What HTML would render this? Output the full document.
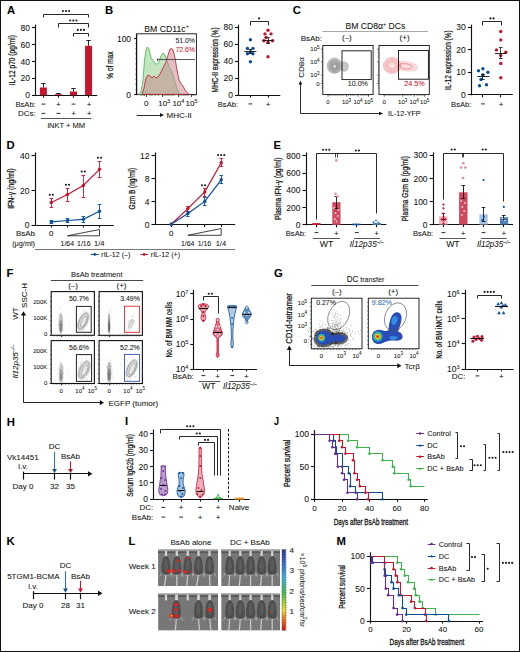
<!DOCTYPE html>
<html><head><meta charset="utf-8"><style>
html,body{margin:0;padding:0;background:#fff;}
svg{display:block;}
text{font-family:"Liberation Sans",sans-serif;paint-order:stroke;}
</style></head><body>
<svg width="520" height="652" viewBox="0 0 520 652">
<rect x="0" y="0" width="520" height="652" fill="#fff"/>
<rect x="0.5" y="0.5" width="519" height="651" fill="none" stroke="#111" stroke-width="1"/>
<text x="6.9" y="14.4" font-size="11.3" text-anchor="start" fill="#000" font-weight="bold">A</text>
<line x1="35.5" y1="24.6" x2="35.5" y2="95.5" stroke="#111" stroke-width="1.15"/>
<line x1="32.0" y1="27.5" x2="35.5" y2="27.5" stroke="#111" stroke-width="1.1"/>
<text x="29.9" y="30.54" font-size="8.5" text-anchor="end" fill="#111" stroke="#111" stroke-width="0.06">80</text>
<line x1="32.0" y1="44.5" x2="35.5" y2="44.5" stroke="#111" stroke-width="1.1"/>
<text x="29.9" y="47.54" font-size="8.5" text-anchor="end" fill="#111" stroke="#111" stroke-width="0.06">60</text>
<line x1="32.0" y1="61.5" x2="35.5" y2="61.5" stroke="#111" stroke-width="1.1"/>
<text x="29.9" y="64.54" font-size="8.5" text-anchor="end" fill="#111" stroke="#111" stroke-width="0.06">40</text>
<line x1="32.0" y1="78.5" x2="35.5" y2="78.5" stroke="#111" stroke-width="1.1"/>
<text x="29.9" y="81.44" font-size="8.5" text-anchor="end" fill="#111" stroke="#111" stroke-width="0.06">20</text>
<line x1="32.0" y1="95.5" x2="35.5" y2="95.5" stroke="#111" stroke-width="1.1"/>
<text x="29.9" y="98.24" font-size="8.5" text-anchor="end" fill="#111" stroke="#111" stroke-width="0.06">0</text>
<line x1="32.3" y1="95.5" x2="97.3" y2="95.5" stroke="#111" stroke-width="1.15"/>
<line x1="43.5" y1="95.2" x2="43.5" y2="97.7" stroke="#111" stroke-width="1.1"/>
<line x1="58.5" y1="95.2" x2="58.5" y2="97.7" stroke="#111" stroke-width="1.1"/>
<line x1="73.5" y1="95.2" x2="73.5" y2="97.7" stroke="#111" stroke-width="1.1"/>
<line x1="88.5" y1="95.2" x2="88.5" y2="97.7" stroke="#111" stroke-width="1.1"/>
<rect x="39.9" y="87.5" width="7" height="7.700000000000003" fill="#c4162f" stroke="none" stroke-width="1"/>
<line x1="43.5" y1="87.5" x2="43.5" y2="83.5" stroke="#111" stroke-width="0.9"/>
<line x1="41.199999999999996" y1="83.5" x2="45.6" y2="83.5" stroke="#111" stroke-width="0.9"/>
<rect x="54.95" y="94.2" width="7" height="1.0" fill="#c4162f" stroke="none" stroke-width="1"/>
<line x1="58.5" y1="94.2" x2="58.5" y2="93.3" stroke="#111" stroke-width="0.9"/>
<line x1="56.25" y1="93.5" x2="60.650000000000006" y2="93.5" stroke="#111" stroke-width="0.9"/>
<rect x="70.0" y="91.5" width="7" height="3.700000000000003" fill="#c4162f" stroke="none" stroke-width="1"/>
<line x1="73.5" y1="91.5" x2="73.5" y2="88.5" stroke="#111" stroke-width="0.9"/>
<line x1="71.3" y1="88.5" x2="75.7" y2="88.5" stroke="#111" stroke-width="0.9"/>
<rect x="85.05" y="45.8" width="7" height="49.400000000000006" fill="#c4162f" stroke="none" stroke-width="1"/>
<line x1="88.5" y1="45.8" x2="88.5" y2="40" stroke="#111" stroke-width="0.9"/>
<line x1="86.35" y1="40.5" x2="90.75" y2="40.5" stroke="#111" stroke-width="0.9"/>
<polyline points="43.5,17.5 43.5,14.5 88.5,14.5 88.5,17.5" stroke="#111" stroke-width="0.9" fill="none"/>
<circle cx="62.90" cy="11" r="1.05" fill="#1a1a1a"/>
<circle cx="66.00" cy="11" r="1.05" fill="#1a1a1a"/>
<circle cx="69.10" cy="11" r="1.05" fill="#1a1a1a"/>
<polyline points="58.5,27.5 58.5,23.5 88.5,23.5 88.5,27.5" stroke="#111" stroke-width="0.9" fill="none"/>
<circle cx="70.20" cy="20.5" r="1.05" fill="#1a1a1a"/>
<circle cx="73.30" cy="20.5" r="1.05" fill="#1a1a1a"/>
<circle cx="76.40" cy="20.5" r="1.05" fill="#1a1a1a"/>
<polyline points="73.5,36.5 73.5,33.5 88.5,33.5 88.5,36.5" stroke="#111" stroke-width="0.9" fill="none"/>
<circle cx="77.80" cy="29.9" r="1.05" fill="#1a1a1a"/>
<circle cx="80.90" cy="29.9" r="1.05" fill="#1a1a1a"/>
<circle cx="84.00" cy="29.9" r="1.05" fill="#1a1a1a"/>
<text x="35.7" y="107" font-size="8" text-anchor="end" fill="#111" textLength="20.2" lengthAdjust="spacingAndGlyphs" stroke="#111" stroke-width="0.06">BsAb:</text>
<text x="35.7" y="116.3" font-size="8" text-anchor="end" fill="#111" textLength="17.7" lengthAdjust="spacingAndGlyphs" stroke="#111" stroke-width="0.06">DCs:</text>
<line x1="41.5" y1="104.1" x2="45.3" y2="104.1" stroke="#111" stroke-width="0.9"/>
<text x="58.45" y="107" font-size="8" text-anchor="middle" fill="#111" stroke="#111" stroke-width="0.06">+</text>
<line x1="71.6" y1="104.1" x2="75.4" y2="104.1" stroke="#111" stroke-width="0.9"/>
<text x="89" y="107" font-size="8" text-anchor="middle" fill="#111" stroke="#111" stroke-width="0.06">+</text>
<line x1="41.5" y1="113.39999999999999" x2="45.3" y2="113.39999999999999" stroke="#111" stroke-width="0.9"/>
<line x1="56.550000000000004" y1="113.39999999999999" x2="60.35" y2="113.39999999999999" stroke="#111" stroke-width="0.9"/>
<text x="73.5" y="116.3" font-size="8" text-anchor="middle" fill="#111" stroke="#111" stroke-width="0.06">+</text>
<text x="89" y="116.3" font-size="8" text-anchor="middle" fill="#111" stroke="#111" stroke-width="0.06">+</text>
<line x1="40.8" y1="118.5" x2="91.3" y2="118.5" stroke="#444" stroke-width="0.9"/>
<text x="66.2" y="127.6" font-size="8" text-anchor="middle" fill="#111" textLength="37.6" lengthAdjust="spacingAndGlyphs" stroke="#111" stroke-width="0.06">iNKT + MM</text>
<text x="14.7" y="60.25" font-size="9" text-anchor="middle" fill="#111" textLength="50.3" lengthAdjust="spacingAndGlyphs" transform="rotate(-90 14.7 60.25)" stroke="#111" stroke-width="0.25">IL-12 p70 (pg/ml)</text>
<text x="104.95" y="14.4" font-size="11.3" text-anchor="start" fill="#000" font-weight="bold">B</text>
<text x="166.7" y="31.5" font-size="8.7" text-anchor="middle" fill="#111" stroke="#111" stroke-width="0.06">BM CD11c<tspan dy="-3.2" font-size="5.8">+</tspan></text>
<rect x="136.7" y="33.8" width="59.7" height="60.8" fill="none" stroke="#111" stroke-width="0.9"/>
<path d="M139,94.4 L141,92 L143,80 L144.5,60 L146,50 L147.3,47 L149,49 L150.5,56 L152.5,60 L155,63 L157,64.5 L159,62 L161,56 L163,53 L165,55 L167,61 L169,67 L171,70 L173,75 L175,82 L177,89 L179,93 L181,94.4 Z" fill="#8fd08a" stroke="#3db54a" stroke-width="0.8" fill-opacity="0.55"/>
<path d="M142,94.4 L144,88 L146,78 L148,75 L150,76 L152,78 L154,76 L156,78 L158,77 L160,74 L162,70 L164,66 L166,62 L168,55 L170,49 L171.6,48.5 L173,50 L175,58 L177,70 L179,80 L181,84 L183,86 L185,90 L187,92.5 L189,94.4 Z" fill="#c98a8f" stroke="#c4162f" stroke-width="0.8" fill-opacity="0.55"/>
<line x1="157.5" y1="59.5" x2="195" y2="59.5" stroke="#444" stroke-width="0.9"/>
<line x1="157.5" y1="58.2" x2="157.5" y2="61.2" stroke="#444" stroke-width="0.8"/>
<text x="195" y="42.5" font-size="7.8" text-anchor="end" fill="#222" textLength="19.6" lengthAdjust="spacingAndGlyphs" stroke="#222" stroke-width="0.06">51.0%</text>
<text x="195" y="51.5" font-size="7.8" text-anchor="end" fill="#c4162f" textLength="19.6" lengthAdjust="spacingAndGlyphs" stroke="#c4162f" stroke-width="0.06">72.6%</text>
<line x1="136.5" y1="33.8" x2="136.5" y2="95.1" stroke="#111" stroke-width="1.15"/>
<line x1="134.2" y1="38.5" x2="136.7" y2="38.5" stroke="#111" stroke-width="1.1"/>
<text x="131.1" y="41.54" font-size="8.5" text-anchor="end" fill="#111" stroke="#111" stroke-width="0.06">100</text>
<line x1="134.2" y1="94.5" x2="136.7" y2="94.5" stroke="#111" stroke-width="1.1"/>
<text x="131.1" y="97.64" font-size="8.5" text-anchor="end" fill="#111" stroke="#111" stroke-width="0.06">0</text>
<line x1="135.3" y1="43.6" x2="136.7" y2="43.6" stroke="#111" stroke-width="0.5"/>
<line x1="135.3" y1="48.7" x2="136.7" y2="48.7" stroke="#111" stroke-width="0.5"/>
<line x1="135.3" y1="53.8" x2="136.7" y2="53.8" stroke="#111" stroke-width="0.5"/>
<line x1="135.3" y1="58.9" x2="136.7" y2="58.9" stroke="#111" stroke-width="0.5"/>
<line x1="135.3" y1="64.0" x2="136.7" y2="64.0" stroke="#111" stroke-width="0.5"/>
<line x1="135.3" y1="69.1" x2="136.7" y2="69.1" stroke="#111" stroke-width="0.5"/>
<line x1="135.3" y1="74.19999999999999" x2="136.7" y2="74.19999999999999" stroke="#111" stroke-width="0.5"/>
<line x1="135.3" y1="79.3" x2="136.7" y2="79.3" stroke="#111" stroke-width="0.5"/>
<line x1="135.3" y1="84.4" x2="136.7" y2="84.4" stroke="#111" stroke-width="0.5"/>
<line x1="135.3" y1="89.5" x2="136.7" y2="89.5" stroke="#111" stroke-width="0.5"/>
<line x1="135.3" y1="94.6" x2="136.7" y2="94.6" stroke="#111" stroke-width="0.5"/>
<line x1="146.5" y1="94.6" x2="146.5" y2="97" stroke="#111" stroke-width="0.8"/>
<line x1="162.5" y1="94.6" x2="162.5" y2="97" stroke="#111" stroke-width="0.8"/>
<line x1="178.5" y1="94.6" x2="178.5" y2="97" stroke="#111" stroke-width="0.8"/>
<line x1="191.5" y1="94.6" x2="191.5" y2="97" stroke="#111" stroke-width="0.8"/>
<line x1="141" y1="94.6" x2="141" y2="96" stroke="#111" stroke-width="0.5"/>
<line x1="143" y1="94.6" x2="143" y2="96" stroke="#111" stroke-width="0.5"/>
<line x1="144.5" y1="94.6" x2="144.5" y2="96" stroke="#111" stroke-width="0.5"/>
<line x1="150" y1="94.6" x2="150" y2="96" stroke="#111" stroke-width="0.5"/>
<line x1="152" y1="94.6" x2="152" y2="96" stroke="#111" stroke-width="0.5"/>
<line x1="155" y1="94.6" x2="155" y2="96" stroke="#111" stroke-width="0.5"/>
<line x1="158" y1="94.6" x2="158" y2="96" stroke="#111" stroke-width="0.5"/>
<line x1="164" y1="94.6" x2="164" y2="96" stroke="#111" stroke-width="0.5"/>
<line x1="166" y1="94.6" x2="166" y2="96" stroke="#111" stroke-width="0.5"/>
<line x1="168" y1="94.6" x2="168" y2="96" stroke="#111" stroke-width="0.5"/>
<line x1="170" y1="94.6" x2="170" y2="96" stroke="#111" stroke-width="0.5"/>
<line x1="172" y1="94.6" x2="172" y2="96" stroke="#111" stroke-width="0.5"/>
<line x1="174" y1="94.6" x2="174" y2="96" stroke="#111" stroke-width="0.5"/>
<line x1="180" y1="94.6" x2="180" y2="96" stroke="#111" stroke-width="0.5"/>
<line x1="182" y1="94.6" x2="182" y2="96" stroke="#111" stroke-width="0.5"/>
<line x1="184" y1="94.6" x2="184" y2="96" stroke="#111" stroke-width="0.5"/>
<line x1="186" y1="94.6" x2="186" y2="96" stroke="#111" stroke-width="0.5"/>
<line x1="188" y1="94.6" x2="188" y2="96" stroke="#111" stroke-width="0.5"/>
<line x1="193" y1="94.6" x2="193" y2="96" stroke="#111" stroke-width="0.5"/>
<line x1="195" y1="94.6" x2="195" y2="96" stroke="#111" stroke-width="0.5"/>
<text x="146.3" y="106.2" font-size="8" text-anchor="middle" fill="#111" stroke="#111" stroke-width="0.06">0</text>
<text x="164.2" y="106.2" font-size="8" text-anchor="middle" fill="#111" stroke="#111" stroke-width="0.06">10<tspan dy="-3" font-size="5.5">3</tspan></text>
<text x="178.4" y="106.2" font-size="8" text-anchor="middle" fill="#111" stroke="#111" stroke-width="0.06">10<tspan dy="-3" font-size="5.5">4</tspan></text>
<text x="191.6" y="106.2" font-size="8" text-anchor="middle" fill="#111" stroke="#111" stroke-width="0.06">10<tspan dy="-3" font-size="5.5">5</tspan></text>
<line x1="136.7" y1="115.5" x2="161" y2="115.5" stroke="#111" stroke-width="0.9"/>
<polygon points="164,115 160,113 160,117" stroke="none" stroke-width="1" fill="#111"/>
<text x="166.5" y="118" font-size="8" text-anchor="start" fill="#111" stroke="#111" stroke-width="0.06">MHC-II</text>
<text x="112.7" y="65.1" font-size="9" text-anchor="middle" fill="#111" textLength="27.2" lengthAdjust="spacingAndGlyphs" transform="rotate(-90 112.7 65.1)" stroke="#111" stroke-width="0.25">% of max</text>
<line x1="238.5" y1="24.6" x2="238.5" y2="95.7" stroke="#111" stroke-width="1.15"/>
<line x1="235.0" y1="27.5" x2="238.5" y2="27.5" stroke="#111" stroke-width="1.1"/>
<text x="232.9" y="30.34" font-size="8.5" text-anchor="end" fill="#111" stroke="#111" stroke-width="0.06">80</text>
<line x1="235.0" y1="44.5" x2="238.5" y2="44.5" stroke="#111" stroke-width="1.1"/>
<text x="232.9" y="47.44" font-size="8.5" text-anchor="end" fill="#111" stroke="#111" stroke-width="0.06">60</text>
<line x1="235.0" y1="61.5" x2="238.5" y2="61.5" stroke="#111" stroke-width="1.1"/>
<text x="232.9" y="64.44" font-size="8.5" text-anchor="end" fill="#111" stroke="#111" stroke-width="0.06">40</text>
<line x1="235.0" y1="78.5" x2="238.5" y2="78.5" stroke="#111" stroke-width="1.1"/>
<text x="232.9" y="81.34" font-size="8.5" text-anchor="end" fill="#111" stroke="#111" stroke-width="0.06">20</text>
<line x1="235.0" y1="95.5" x2="238.5" y2="95.5" stroke="#111" stroke-width="1.1"/>
<text x="232.9" y="98.24" font-size="8.5" text-anchor="end" fill="#111" stroke="#111" stroke-width="0.06">0</text>
<line x1="238.5" y1="95.5" x2="280.3" y2="95.5" stroke="#111" stroke-width="1.15"/>
<line x1="250.5" y1="95.2" x2="250.5" y2="97.7" stroke="#111" stroke-width="1.1"/>
<line x1="268.5" y1="95.2" x2="268.5" y2="97.7" stroke="#111" stroke-width="1.1"/>
<polyline points="250.5,25.5 250.5,21.5 268.5,21.5 268.5,25.5" stroke="#111" stroke-width="0.9" fill="none"/>
<circle cx="259.10" cy="18.4" r="1.05" fill="#1a1a1a"/>
<circle cx="250.4" cy="39.8" r="1.7" fill="#0b4f9a"/>
<circle cx="247.4" cy="48.4" r="1.7" fill="#0b4f9a"/>
<circle cx="253" cy="48.4" r="1.7" fill="#0b4f9a"/>
<circle cx="247.4" cy="53.8" r="1.7" fill="#0b4f9a"/>
<circle cx="253" cy="53.8" r="1.7" fill="#0b4f9a"/>
<circle cx="250.4" cy="52" r="1.7" fill="#0b4f9a"/>
<circle cx="250.4" cy="61.8" r="1.7" fill="#0b4f9a"/>
<circle cx="268" cy="30.3" r="1.7" fill="#c4162f"/>
<circle cx="265" cy="33.9" r="1.7" fill="#c4162f"/>
<circle cx="271" cy="33.9" r="1.7" fill="#c4162f"/>
<circle cx="263.8" cy="40.8" r="1.7" fill="#c4162f"/>
<circle cx="272.6" cy="40.8" r="1.7" fill="#c4162f"/>
<circle cx="268" cy="42.5" r="1.7" fill="#c4162f"/>
<circle cx="266" cy="37.5" r="1.7" fill="#c4162f"/>
<circle cx="268" cy="56.8" r="1.7" fill="#c4162f"/>
<line x1="244.4" y1="51.5" x2="256.4" y2="51.5" stroke="#111" stroke-width="0.9"/>
<line x1="250.5" y1="49.2" x2="250.5" y2="53.8" stroke="#111" stroke-width="0.8"/>
<line x1="248.6" y1="49.5" x2="252.2" y2="49.5" stroke="#111" stroke-width="0.8"/>
<line x1="248.6" y1="53.5" x2="252.2" y2="53.5" stroke="#111" stroke-width="0.8"/>
<line x1="262.8" y1="40.5" x2="273.3" y2="40.5" stroke="#111" stroke-width="0.9"/>
<line x1="268.5" y1="37.9" x2="268.5" y2="43.7" stroke="#111" stroke-width="0.8"/>
<line x1="266.2" y1="37.5" x2="269.8" y2="37.5" stroke="#111" stroke-width="0.8"/>
<line x1="266.2" y1="43.5" x2="269.8" y2="43.5" stroke="#111" stroke-width="0.8"/>
<text x="238" y="106.8" font-size="8" text-anchor="end" fill="#111" textLength="20.2" lengthAdjust="spacingAndGlyphs" stroke="#111" stroke-width="0.06">BsAb:</text>
<line x1="248.4" y1="103.89999999999999" x2="252.20000000000002" y2="103.89999999999999" stroke="#111" stroke-width="0.9"/>
<text x="268.2" y="106.8" font-size="8" text-anchor="middle" fill="#111" stroke="#111" stroke-width="0.06">+</text>
<text x="217.9" y="59.9" font-size="9" text-anchor="middle" fill="#111" textLength="65" lengthAdjust="spacingAndGlyphs" transform="rotate(-90 217.9 59.9)" stroke="#111" stroke-width="0.25">MHC-II expression (%)</text>
<text x="292.7" y="14.4" font-size="11.3" text-anchor="start" fill="#000" font-weight="bold">C</text>
<text x="375.4" y="28.7" font-size="8.6" text-anchor="middle" fill="#111" stroke="#111" stroke-width="0.06">BM CD8α<tspan dy="-3" font-size="5.5">+</tspan><tspan dy="3"> DCs</tspan></text>
<line x1="322.3" y1="31.5" x2="428.2" y2="31.5" stroke="#aaa" stroke-width="1.2"/>
<text x="322" y="40.6" font-size="8" text-anchor="end" fill="#111" stroke="#111" stroke-width="0.06">BsAb:</text>
<text x="346.9" y="40.4" font-size="8" text-anchor="middle" fill="#111" stroke="#111" stroke-width="0.06">(–)</text>
<text x="404.6" y="40.4" font-size="8" text-anchor="middle" fill="#111" stroke="#111" stroke-width="0.06">(+)</text>
<rect x="322.8" y="45.5" width="50.30000000000001" height="49.099999999999994" fill="none" stroke="#111" stroke-width="0.9"/>
<rect x="379" y="45.5" width="50.30000000000001" height="49.099999999999994" fill="none" stroke="#111" stroke-width="0.9"/>
<defs><radialGradient id="gblob" cx="0.52" cy="0.58" r="0.5"><stop offset="0" stop-color="#fff"/><stop offset="0.07" stop-color="#e8e8e8"/><stop offset="0.22" stop-color="#9a9a9a"/><stop offset="0.55" stop-color="#ababab"/><stop offset="0.85" stop-color="#c6c6c6"/><stop offset="1" stop-color="#d0d0d0" stop-opacity="0"/></radialGradient><filter id="b04"><feGaussianBlur stdDeviation="0.4"/></filter></defs>
<g filter="url(#b04)">
<ellipse cx="344.2" cy="66.5" rx="4.6" ry="5.2" fill="#c8c8c8"/>
<ellipse cx="344.2" cy="66.5" rx="3.2" ry="3.6" fill="none" stroke="#aaa" stroke-width="0.5"/>
<ellipse cx="334.3" cy="64.8" rx="8.4" ry="9" fill="url(#gblob)"/>
<ellipse cx="334.6" cy="65.3" rx="7.2" ry="7.8" fill="none" stroke="#777" stroke-width="0.35" opacity="0.6"/>
<ellipse cx="334.6" cy="65.3" rx="5.6" ry="6.2" fill="none" stroke="#777" stroke-width="0.35" opacity="0.6"/>
<ellipse cx="334.6" cy="65.3" rx="4" ry="4.5" fill="none" stroke="#777" stroke-width="0.35" opacity="0.6"/>
</g>
<g>
<ellipse cx="392" cy="65.5" rx="8.5" ry="8" fill="none" stroke="#e0474f" stroke-width="0.5" opacity="0.8"/>
<ellipse cx="392" cy="65.5" rx="7" ry="6.5" fill="none" stroke="#e0474f" stroke-width="0.5" opacity="0.8"/>
<ellipse cx="392" cy="65.5" rx="5.5" ry="5" fill="none" stroke="#e0474f" stroke-width="0.5" opacity="0.8"/>
<ellipse cx="392" cy="65.5" rx="4" ry="3.5" fill="none" stroke="#e0474f" stroke-width="0.5" opacity="0.8"/>
<ellipse cx="392" cy="65.5" rx="8" ry="7.5" fill="#f4a0a0" opacity="0.35"/>
<path d="M398,62 C404,60 410,62 415,64 C419,66 418,71 413,71 C408,71 403,71 398,70 Z" fill="#f4a0a0" opacity="0.35" stroke="#e0474f" stroke-width="0.5"/>
<path d="M400,64 C405,63 409,64 412,66 C413,68 410,69 406,69 C403,69 401,68 400,67 Z" fill="none" stroke="#e0474f" stroke-width="0.5"/>
</g>
<rect x="342" y="50.8" width="29.2" height="28.8" fill="none" stroke="#111" stroke-width="0.9"/>
<rect x="398.5" y="50.5" width="29.9" height="28.7" fill="none" stroke="#111" stroke-width="0.9"/>
<text x="368" y="85.9" font-size="7.8" text-anchor="end" fill="#222" textLength="20.3" lengthAdjust="spacingAndGlyphs" stroke="#222" stroke-width="0.06">10.0%</text>
<text x="424.6" y="85.9" font-size="7.8" text-anchor="end" fill="#c4162f" textLength="20.4" lengthAdjust="spacingAndGlyphs" stroke="#c4162f" stroke-width="0.06">24.5%</text>
<text x="319.5" y="51.400000000000006" font-size="6" text-anchor="end" fill="#111" stroke="#111" stroke-width="0.06">10<tspan dy="-2.5" font-size="4.5">5</tspan></text>
<text x="319.5" y="64.0" font-size="6" text-anchor="end" fill="#111" stroke="#111" stroke-width="0.06">10<tspan dy="-2.5" font-size="4.5">4</tspan></text>
<text x="319.5" y="77.2" font-size="6" text-anchor="end" fill="#111" stroke="#111" stroke-width="0.06">10<tspan dy="-2.5" font-size="4.5">3</tspan></text>
<text x="319.5" y="85.7" font-size="6" text-anchor="end" fill="#111" stroke="#111" stroke-width="0.06">0</text>
<line x1="321.0" y1="49.2" x2="322.8" y2="49.2" stroke="#111" stroke-width="0.7"/>
<line x1="321.0" y1="61.8" x2="322.8" y2="61.8" stroke="#111" stroke-width="0.7"/>
<line x1="321.0" y1="75" x2="322.8" y2="75" stroke="#111" stroke-width="0.7"/>
<line x1="321.0" y1="83.5" x2="322.8" y2="83.5" stroke="#111" stroke-width="0.7"/>
<line x1="321.7" y1="52" x2="322.8" y2="52" stroke="#111" stroke-width="0.5"/>
<line x1="321.7" y1="54" x2="322.8" y2="54" stroke="#111" stroke-width="0.5"/>
<line x1="321.7" y1="56" x2="322.8" y2="56" stroke="#111" stroke-width="0.5"/>
<line x1="321.7" y1="58" x2="322.8" y2="58" stroke="#111" stroke-width="0.5"/>
<line x1="321.7" y1="64" x2="322.8" y2="64" stroke="#111" stroke-width="0.5"/>
<line x1="321.7" y1="66" x2="322.8" y2="66" stroke="#111" stroke-width="0.5"/>
<line x1="321.7" y1="68" x2="322.8" y2="68" stroke="#111" stroke-width="0.5"/>
<line x1="321.7" y1="70" x2="322.8" y2="70" stroke="#111" stroke-width="0.5"/>
<line x1="321.7" y1="72" x2="322.8" y2="72" stroke="#111" stroke-width="0.5"/>
<line x1="321.7" y1="77" x2="322.8" y2="77" stroke="#111" stroke-width="0.5"/>
<line x1="321.7" y1="79" x2="322.8" y2="79" stroke="#111" stroke-width="0.5"/>
<line x1="321.7" y1="80.5" x2="322.8" y2="80.5" stroke="#111" stroke-width="0.5"/>
<line x1="321.7" y1="81.5" x2="322.8" y2="81.5" stroke="#111" stroke-width="0.5"/>
<line x1="321.7" y1="86" x2="322.8" y2="86" stroke="#111" stroke-width="0.5"/>
<line x1="321.7" y1="88" x2="322.8" y2="88" stroke="#111" stroke-width="0.5"/>
<line x1="328.0" y1="94.6" x2="328.0" y2="96.6" stroke="#111" stroke-width="0.7"/>
<line x1="346.5" y1="94.6" x2="346.5" y2="96.6" stroke="#111" stroke-width="0.7"/>
<line x1="358.0" y1="94.6" x2="358.0" y2="96.6" stroke="#111" stroke-width="0.7"/>
<line x1="368.5" y1="94.6" x2="368.5" y2="96.6" stroke="#111" stroke-width="0.7"/>
<line x1="329.8" y1="94.6" x2="329.8" y2="95.8" stroke="#111" stroke-width="0.5"/>
<line x1="331.8" y1="94.6" x2="331.8" y2="95.8" stroke="#111" stroke-width="0.5"/>
<line x1="333.8" y1="94.6" x2="333.8" y2="95.8" stroke="#111" stroke-width="0.5"/>
<line x1="335.8" y1="94.6" x2="335.8" y2="95.8" stroke="#111" stroke-width="0.5"/>
<line x1="337.8" y1="94.6" x2="337.8" y2="95.8" stroke="#111" stroke-width="0.5"/>
<line x1="339.8" y1="94.6" x2="339.8" y2="95.8" stroke="#111" stroke-width="0.5"/>
<line x1="341.8" y1="94.6" x2="341.8" y2="95.8" stroke="#111" stroke-width="0.5"/>
<line x1="343.8" y1="94.6" x2="343.8" y2="95.8" stroke="#111" stroke-width="0.5"/>
<line x1="348.8" y1="94.6" x2="348.8" y2="95.8" stroke="#111" stroke-width="0.5"/>
<line x1="350.8" y1="94.6" x2="350.8" y2="95.8" stroke="#111" stroke-width="0.5"/>
<line x1="352.8" y1="94.6" x2="352.8" y2="95.8" stroke="#111" stroke-width="0.5"/>
<line x1="354.8" y1="94.6" x2="354.8" y2="95.8" stroke="#111" stroke-width="0.5"/>
<line x1="360.8" y1="94.6" x2="360.8" y2="95.8" stroke="#111" stroke-width="0.5"/>
<line x1="362.8" y1="94.6" x2="362.8" y2="95.8" stroke="#111" stroke-width="0.5"/>
<line x1="364.8" y1="94.6" x2="364.8" y2="95.8" stroke="#111" stroke-width="0.5"/>
<line x1="366.8" y1="94.6" x2="366.8" y2="95.8" stroke="#111" stroke-width="0.5"/>
<text x="328.0" y="104" font-size="6" text-anchor="middle" fill="#111" stroke="#111" stroke-width="0.06">0</text>
<text x="346.5" y="104" font-size="6" text-anchor="middle" fill="#111" stroke="#111" stroke-width="0.06">10<tspan dy="-2.5" font-size="4.5">3</tspan></text>
<text x="358.0" y="104" font-size="6" text-anchor="middle" fill="#111" stroke="#111" stroke-width="0.06">10<tspan dy="-2.5" font-size="4.5">4</tspan></text>
<text x="368.5" y="104" font-size="6" text-anchor="middle" fill="#111" stroke="#111" stroke-width="0.06">10<tspan dy="-2.5" font-size="4.5">5</tspan></text>
<line x1="377.2" y1="49.2" x2="379" y2="49.2" stroke="#111" stroke-width="0.7"/>
<line x1="377.2" y1="61.8" x2="379" y2="61.8" stroke="#111" stroke-width="0.7"/>
<line x1="377.2" y1="75" x2="379" y2="75" stroke="#111" stroke-width="0.7"/>
<line x1="377.2" y1="83.5" x2="379" y2="83.5" stroke="#111" stroke-width="0.7"/>
<line x1="377.9" y1="52" x2="379" y2="52" stroke="#111" stroke-width="0.5"/>
<line x1="377.9" y1="54" x2="379" y2="54" stroke="#111" stroke-width="0.5"/>
<line x1="377.9" y1="56" x2="379" y2="56" stroke="#111" stroke-width="0.5"/>
<line x1="377.9" y1="58" x2="379" y2="58" stroke="#111" stroke-width="0.5"/>
<line x1="377.9" y1="64" x2="379" y2="64" stroke="#111" stroke-width="0.5"/>
<line x1="377.9" y1="66" x2="379" y2="66" stroke="#111" stroke-width="0.5"/>
<line x1="377.9" y1="68" x2="379" y2="68" stroke="#111" stroke-width="0.5"/>
<line x1="377.9" y1="70" x2="379" y2="70" stroke="#111" stroke-width="0.5"/>
<line x1="377.9" y1="72" x2="379" y2="72" stroke="#111" stroke-width="0.5"/>
<line x1="377.9" y1="77" x2="379" y2="77" stroke="#111" stroke-width="0.5"/>
<line x1="377.9" y1="79" x2="379" y2="79" stroke="#111" stroke-width="0.5"/>
<line x1="377.9" y1="80.5" x2="379" y2="80.5" stroke="#111" stroke-width="0.5"/>
<line x1="377.9" y1="81.5" x2="379" y2="81.5" stroke="#111" stroke-width="0.5"/>
<line x1="377.9" y1="86" x2="379" y2="86" stroke="#111" stroke-width="0.5"/>
<line x1="377.9" y1="88" x2="379" y2="88" stroke="#111" stroke-width="0.5"/>
<line x1="384.2" y1="94.6" x2="384.2" y2="96.6" stroke="#111" stroke-width="0.7"/>
<line x1="402.7" y1="94.6" x2="402.7" y2="96.6" stroke="#111" stroke-width="0.7"/>
<line x1="414.2" y1="94.6" x2="414.2" y2="96.6" stroke="#111" stroke-width="0.7"/>
<line x1="424.7" y1="94.6" x2="424.7" y2="96.6" stroke="#111" stroke-width="0.7"/>
<line x1="386" y1="94.6" x2="386" y2="95.8" stroke="#111" stroke-width="0.5"/>
<line x1="388" y1="94.6" x2="388" y2="95.8" stroke="#111" stroke-width="0.5"/>
<line x1="390" y1="94.6" x2="390" y2="95.8" stroke="#111" stroke-width="0.5"/>
<line x1="392" y1="94.6" x2="392" y2="95.8" stroke="#111" stroke-width="0.5"/>
<line x1="394" y1="94.6" x2="394" y2="95.8" stroke="#111" stroke-width="0.5"/>
<line x1="396" y1="94.6" x2="396" y2="95.8" stroke="#111" stroke-width="0.5"/>
<line x1="398" y1="94.6" x2="398" y2="95.8" stroke="#111" stroke-width="0.5"/>
<line x1="400" y1="94.6" x2="400" y2="95.8" stroke="#111" stroke-width="0.5"/>
<line x1="405" y1="94.6" x2="405" y2="95.8" stroke="#111" stroke-width="0.5"/>
<line x1="407" y1="94.6" x2="407" y2="95.8" stroke="#111" stroke-width="0.5"/>
<line x1="409" y1="94.6" x2="409" y2="95.8" stroke="#111" stroke-width="0.5"/>
<line x1="411" y1="94.6" x2="411" y2="95.8" stroke="#111" stroke-width="0.5"/>
<line x1="417" y1="94.6" x2="417" y2="95.8" stroke="#111" stroke-width="0.5"/>
<line x1="419" y1="94.6" x2="419" y2="95.8" stroke="#111" stroke-width="0.5"/>
<line x1="421" y1="94.6" x2="421" y2="95.8" stroke="#111" stroke-width="0.5"/>
<line x1="423" y1="94.6" x2="423" y2="95.8" stroke="#111" stroke-width="0.5"/>
<text x="384.2" y="104" font-size="6" text-anchor="middle" fill="#111" stroke="#111" stroke-width="0.06">0</text>
<text x="402.7" y="104" font-size="6" text-anchor="middle" fill="#111" stroke="#111" stroke-width="0.06">10<tspan dy="-2.5" font-size="4.5">3</tspan></text>
<text x="414.2" y="104" font-size="6" text-anchor="middle" fill="#111" stroke="#111" stroke-width="0.06">10<tspan dy="-2.5" font-size="4.5">4</tspan></text>
<text x="424.7" y="104" font-size="6" text-anchor="middle" fill="#111" stroke="#111" stroke-width="0.06">10<tspan dy="-2.5" font-size="4.5">5</tspan></text>
<line x1="300.5" y1="83" x2="300.5" y2="113.5" stroke="#111" stroke-width="0.9"/>
<line x1="300.4" y1="113.5" x2="380" y2="113.5" stroke="#111" stroke-width="0.9"/>
<polygon points="300.4,80.5 298.6,84.5 302.2,84.5" stroke="none" stroke-width="1" fill="#111"/>
<polygon points="383,113.5 379,111.7 379,115.3" stroke="none" stroke-width="1" fill="#111"/>
<text x="388" y="116" font-size="8" text-anchor="start" fill="#111" textLength="32.6" lengthAdjust="spacingAndGlyphs" stroke="#111" stroke-width="0.06">IL-12-YFP</text>
<text x="303.5" y="67.5" font-size="8" text-anchor="middle" fill="#111" transform="rotate(-90 303.5 67.5)" stroke="#111" stroke-width="0.06">CD8α</text>
<line x1="471.5" y1="24.6" x2="471.5" y2="95.3" stroke="#111" stroke-width="1.15"/>
<line x1="467.8" y1="27.5" x2="471.3" y2="27.5" stroke="#111" stroke-width="1.1"/>
<text x="465.7" y="30.34" font-size="8.5" text-anchor="end" fill="#111" stroke="#111" stroke-width="0.06">30</text>
<line x1="467.8" y1="49.5" x2="471.3" y2="49.5" stroke="#111" stroke-width="1.1"/>
<text x="465.7" y="52.94" font-size="8.5" text-anchor="end" fill="#111" stroke="#111" stroke-width="0.06">20</text>
<line x1="467.8" y1="72.5" x2="471.3" y2="72.5" stroke="#111" stroke-width="1.1"/>
<text x="465.7" y="75.44" font-size="8.5" text-anchor="end" fill="#111" stroke="#111" stroke-width="0.06">10</text>
<line x1="467.8" y1="94.5" x2="471.3" y2="94.5" stroke="#111" stroke-width="1.1"/>
<text x="465.7" y="97.84" font-size="8.5" text-anchor="end" fill="#111" stroke="#111" stroke-width="0.06">0</text>
<line x1="471.3" y1="94.5" x2="512.8" y2="94.5" stroke="#111" stroke-width="1.15"/>
<line x1="482.5" y1="94.8" x2="482.5" y2="97.3" stroke="#111" stroke-width="1.1"/>
<line x1="500.5" y1="94.8" x2="500.5" y2="97.3" stroke="#111" stroke-width="1.1"/>
<polyline points="482.5,25.5 482.5,21.5 501.5,21.5 501.5,25.5" stroke="#111" stroke-width="0.9" fill="none"/>
<circle cx="490.45" cy="18.4" r="1.05" fill="#1a1a1a"/>
<circle cx="493.55" cy="18.4" r="1.05" fill="#1a1a1a"/>
<circle cx="478.5" cy="70.8" r="1.7" fill="#0b4f9a"/>
<circle cx="482.9" cy="68.8" r="1.7" fill="#0b4f9a"/>
<circle cx="487.9" cy="72.2" r="1.7" fill="#0b4f9a"/>
<circle cx="482.9" cy="75" r="1.7" fill="#0b4f9a"/>
<circle cx="481" cy="79.5" r="1.7" fill="#0b4f9a"/>
<circle cx="479.5" cy="85.8" r="1.7" fill="#0b4f9a"/>
<circle cx="486.5" cy="84.8" r="1.7" fill="#0b4f9a"/>
<circle cx="500.8" cy="31.5" r="1.7" fill="#c4162f"/>
<circle cx="500.8" cy="39.9" r="1.7" fill="#c4162f"/>
<circle cx="496.5" cy="49.9" r="1.7" fill="#c4162f"/>
<circle cx="505.8" cy="52.3" r="1.7" fill="#c4162f"/>
<circle cx="500.8" cy="55.5" r="1.7" fill="#c4162f"/>
<circle cx="500.8" cy="63.5" r="1.7" fill="#c4162f"/>
<circle cx="500.8" cy="77.8" r="1.7" fill="#c4162f"/>
<line x1="477.3" y1="76.5" x2="489.3" y2="76.5" stroke="#111" stroke-width="0.9"/>
<line x1="482.5" y1="74.2" x2="482.5" y2="79.8" stroke="#111" stroke-width="0.8"/>
<line x1="481.1" y1="74.5" x2="484.7" y2="74.5" stroke="#111" stroke-width="0.8"/>
<line x1="481.1" y1="79.5" x2="484.7" y2="79.5" stroke="#111" stroke-width="0.8"/>
<line x1="494.9" y1="53.5" x2="506.4" y2="53.5" stroke="#111" stroke-width="0.9"/>
<line x1="500.5" y1="47.9" x2="500.5" y2="58.3" stroke="#111" stroke-width="0.8"/>
<line x1="499" y1="47.5" x2="502.6" y2="47.5" stroke="#111" stroke-width="0.8"/>
<line x1="499" y1="58.5" x2="502.6" y2="58.5" stroke="#111" stroke-width="0.8"/>
<text x="471.3" y="106.8" font-size="8" text-anchor="end" fill="#111" textLength="20.2" lengthAdjust="spacingAndGlyphs" stroke="#111" stroke-width="0.06">BsAb:</text>
<line x1="481.0" y1="103.89999999999999" x2="484.79999999999995" y2="103.89999999999999" stroke="#111" stroke-width="0.9"/>
<text x="501" y="106.8" font-size="8" text-anchor="middle" fill="#111" stroke="#111" stroke-width="0.06">+</text>
<text x="450.8" y="60.15" font-size="9" text-anchor="middle" fill="#111" textLength="59.5" lengthAdjust="spacingAndGlyphs" transform="rotate(-90 450.8 60.15)" stroke="#111" stroke-width="0.25">IL-12 expression (%)</text>
<text x="6.5" y="148.5" font-size="11.3" text-anchor="start" fill="#000" font-weight="bold">D</text>
<line x1="35.5" y1="152.5" x2="35.5" y2="225.5" stroke="#111" stroke-width="1.15"/>
<line x1="31.5" y1="155.5" x2="35" y2="155.5" stroke="#111" stroke-width="1.1"/>
<text x="29.4" y="158.84" font-size="8.5" text-anchor="end" fill="#111" stroke="#111" stroke-width="0.06">40</text>
<line x1="31.5" y1="190.5" x2="35" y2="190.5" stroke="#111" stroke-width="1.1"/>
<text x="29.4" y="193.54" font-size="8.5" text-anchor="end" fill="#111" stroke="#111" stroke-width="0.06">20</text>
<line x1="31.5" y1="225.5" x2="35" y2="225.5" stroke="#111" stroke-width="1.1"/>
<text x="29.4" y="228.04" font-size="8.5" text-anchor="end" fill="#111" stroke="#111" stroke-width="0.06">0</text>
<line x1="35" y1="225.5" x2="113.8" y2="225.5" stroke="#111" stroke-width="1.15"/>
<line x1="51.5" y1="225" x2="51.5" y2="227.5" stroke="#111" stroke-width="1.1"/>
<line x1="67.5" y1="225" x2="67.5" y2="227.5" stroke="#111" stroke-width="1.1"/>
<line x1="83.5" y1="225" x2="83.5" y2="227.5" stroke="#111" stroke-width="1.1"/>
<line x1="99.5" y1="225" x2="99.5" y2="227.5" stroke="#111" stroke-width="1.1"/>
<line x1="51.5" y1="220.5" x2="51.5" y2="223" stroke="#0b4f9a" stroke-width="0.9"/>
<line x1="49.5" y1="220.5" x2="53.099999999999994" y2="220.5" stroke="#0b4f9a" stroke-width="0.9"/>
<line x1="49.5" y1="223.5" x2="53.099999999999994" y2="223.5" stroke="#0b4f9a" stroke-width="0.9"/>
<line x1="67.5" y1="218.5" x2="67.5" y2="222.5" stroke="#0b4f9a" stroke-width="0.9"/>
<line x1="65.7" y1="218.5" x2="69.3" y2="218.5" stroke="#0b4f9a" stroke-width="0.9"/>
<line x1="65.7" y1="222.5" x2="69.3" y2="222.5" stroke="#0b4f9a" stroke-width="0.9"/>
<line x1="83.5" y1="216" x2="83.5" y2="222.5" stroke="#0b4f9a" stroke-width="0.9"/>
<line x1="81.5" y1="216.5" x2="85.1" y2="216.5" stroke="#0b4f9a" stroke-width="0.9"/>
<line x1="81.5" y1="222.5" x2="85.1" y2="222.5" stroke="#0b4f9a" stroke-width="0.9"/>
<line x1="99.5" y1="204.5" x2="99.5" y2="218.3" stroke="#0b4f9a" stroke-width="0.9"/>
<line x1="97.7" y1="204.5" x2="101.3" y2="204.5" stroke="#0b4f9a" stroke-width="0.9"/>
<line x1="97.7" y1="218.5" x2="101.3" y2="218.5" stroke="#0b4f9a" stroke-width="0.9"/>
<line x1="51.5" y1="198" x2="51.5" y2="207" stroke="#c4162f" stroke-width="0.9"/>
<line x1="49.5" y1="198.5" x2="53.099999999999994" y2="198.5" stroke="#c4162f" stroke-width="0.9"/>
<line x1="49.5" y1="207.5" x2="53.099999999999994" y2="207.5" stroke="#c4162f" stroke-width="0.9"/>
<line x1="67.5" y1="188" x2="67.5" y2="201" stroke="#c4162f" stroke-width="0.9"/>
<line x1="65.7" y1="188.5" x2="69.3" y2="188.5" stroke="#c4162f" stroke-width="0.9"/>
<line x1="65.7" y1="201.5" x2="69.3" y2="201.5" stroke="#c4162f" stroke-width="0.9"/>
<line x1="83.5" y1="175" x2="83.5" y2="197" stroke="#c4162f" stroke-width="0.9"/>
<line x1="81.5" y1="175.5" x2="85.1" y2="175.5" stroke="#c4162f" stroke-width="0.9"/>
<line x1="81.5" y1="197.5" x2="85.1" y2="197.5" stroke="#c4162f" stroke-width="0.9"/>
<line x1="99.5" y1="161" x2="99.5" y2="177.5" stroke="#c4162f" stroke-width="0.9"/>
<line x1="97.7" y1="161.5" x2="101.3" y2="161.5" stroke="#c4162f" stroke-width="0.9"/>
<line x1="97.7" y1="177.5" x2="101.3" y2="177.5" stroke="#c4162f" stroke-width="0.9"/>
<polyline points="51.3,221.8 67.5,220.5 83.3,219.3 99.5,211.3" stroke="#0b4f9a" stroke-width="1.2" fill="none"/>
<polyline points="51.3,202.5 67.5,194.5 83.3,185.5 99.5,169.3" stroke="#c4162f" stroke-width="1.2" fill="none"/>
<circle cx="51.3" cy="221.8" r="1.7" fill="#0b4f9a"/>
<circle cx="67.5" cy="220.5" r="1.7" fill="#0b4f9a"/>
<circle cx="83.3" cy="219.3" r="1.7" fill="#0b4f9a"/>
<circle cx="99.5" cy="211.3" r="1.7" fill="#0b4f9a"/>
<circle cx="51.3" cy="202.5" r="1.7" fill="#c4162f"/>
<circle cx="67.5" cy="194.5" r="1.7" fill="#c4162f"/>
<circle cx="83.3" cy="185.5" r="1.7" fill="#c4162f"/>
<circle cx="99.5" cy="169.3" r="1.7" fill="#c4162f"/>
<circle cx="49.75" cy="194.8" r="1.05" fill="#1a1a1a"/>
<circle cx="52.85" cy="194.8" r="1.05" fill="#1a1a1a"/>
<circle cx="65.95" cy="184.7" r="1.05" fill="#1a1a1a"/>
<circle cx="69.05" cy="184.7" r="1.05" fill="#1a1a1a"/>
<circle cx="81.75" cy="171.5" r="1.05" fill="#1a1a1a"/>
<circle cx="84.85" cy="171.5" r="1.05" fill="#1a1a1a"/>
<circle cx="97.95" cy="157.7" r="1.05" fill="#1a1a1a"/>
<circle cx="101.05" cy="157.7" r="1.05" fill="#1a1a1a"/>
<text x="35" y="236" font-size="8" text-anchor="end" fill="#111" stroke="#111" stroke-width="0.06">BsAb</text>
<text x="51.3" y="236" font-size="8" text-anchor="middle" fill="#111" stroke="#111" stroke-width="0.06">0</text>
<polygon points="67.5,235.8 99.5,229.5 99.5,235.8" stroke="#111" stroke-width="0.8" fill="none"/>
<text x="35" y="245.6" font-size="8" text-anchor="end" fill="#111" textLength="22.8" lengthAdjust="spacingAndGlyphs" stroke="#111" stroke-width="0.06">(μg/ml)</text>
<text x="67.3" y="246.3" font-size="8" text-anchor="middle" fill="#111" textLength="13.5" lengthAdjust="spacingAndGlyphs" stroke="#111" stroke-width="0.06">1/64</text>
<text x="83.8" y="246.3" font-size="8" text-anchor="middle" fill="#111" textLength="13.5" lengthAdjust="spacingAndGlyphs" stroke="#111" stroke-width="0.06">1/16</text>
<text x="99.3" y="246.3" font-size="8" text-anchor="middle" fill="#111" textLength="10.5" lengthAdjust="spacingAndGlyphs" stroke="#111" stroke-width="0.06">1/4</text>
<text x="14.5" y="188.6" font-size="9" text-anchor="middle" fill="#111" textLength="40.5" lengthAdjust="spacingAndGlyphs" transform="rotate(-90 14.5 188.6)" stroke="#111" stroke-width="0.25">IFN-γ (ng/ml)</text>
<line x1="155.5" y1="152.5" x2="155.5" y2="225.0" stroke="#111" stroke-width="1.15"/>
<line x1="151.5" y1="155.5" x2="155" y2="155.5" stroke="#111" stroke-width="1.1"/>
<text x="149.4" y="158.64" font-size="8.5" text-anchor="end" fill="#111" stroke="#111" stroke-width="0.06">12</text>
<line x1="151.5" y1="178.5" x2="155" y2="178.5" stroke="#111" stroke-width="1.1"/>
<text x="149.4" y="181.74" font-size="8.5" text-anchor="end" fill="#111" stroke="#111" stroke-width="0.06">8</text>
<line x1="151.5" y1="201.5" x2="155" y2="201.5" stroke="#111" stroke-width="1.1"/>
<text x="149.4" y="204.64" font-size="8.5" text-anchor="end" fill="#111" stroke="#111" stroke-width="0.06">4</text>
<line x1="151.5" y1="224.5" x2="155" y2="224.5" stroke="#111" stroke-width="1.1"/>
<text x="149.4" y="227.54" font-size="8.5" text-anchor="end" fill="#111" stroke="#111" stroke-width="0.06">0</text>
<line x1="155" y1="224.5" x2="235.2" y2="224.5" stroke="#111" stroke-width="1.15"/>
<line x1="171.5" y1="224.5" x2="171.5" y2="227.0" stroke="#111" stroke-width="1.1"/>
<line x1="187.5" y1="224.5" x2="187.5" y2="227.0" stroke="#111" stroke-width="1.1"/>
<line x1="204.5" y1="224.5" x2="204.5" y2="227.0" stroke="#111" stroke-width="1.1"/>
<line x1="221.5" y1="224.5" x2="221.5" y2="227.0" stroke="#111" stroke-width="1.1"/>
<line x1="187.5" y1="206" x2="187.5" y2="211" stroke="#c4162f" stroke-width="0.9"/>
<line x1="186.1" y1="206.5" x2="189.70000000000002" y2="206.5" stroke="#c4162f" stroke-width="0.9"/>
<line x1="186.1" y1="211.5" x2="189.70000000000002" y2="211.5" stroke="#c4162f" stroke-width="0.9"/>
<line x1="204.5" y1="188.7" x2="204.5" y2="196" stroke="#c4162f" stroke-width="0.9"/>
<line x1="203.0" y1="188.5" x2="206.60000000000002" y2="188.5" stroke="#c4162f" stroke-width="0.9"/>
<line x1="203.0" y1="196.5" x2="206.60000000000002" y2="196.5" stroke="#c4162f" stroke-width="0.9"/>
<line x1="221.5" y1="158.3" x2="221.5" y2="166.3" stroke="#c4162f" stroke-width="0.9"/>
<line x1="219.39999999999998" y1="158.5" x2="223.0" y2="158.5" stroke="#c4162f" stroke-width="0.9"/>
<line x1="219.39999999999998" y1="166.5" x2="223.0" y2="166.5" stroke="#c4162f" stroke-width="0.9"/>
<line x1="187.5" y1="211" x2="187.5" y2="216" stroke="#0b4f9a" stroke-width="0.9"/>
<line x1="186.1" y1="211.5" x2="189.70000000000002" y2="211.5" stroke="#0b4f9a" stroke-width="0.9"/>
<line x1="186.1" y1="216.5" x2="189.70000000000002" y2="216.5" stroke="#0b4f9a" stroke-width="0.9"/>
<line x1="204.5" y1="197.9" x2="204.5" y2="205.4" stroke="#0b4f9a" stroke-width="0.9"/>
<line x1="203.0" y1="197.5" x2="206.60000000000002" y2="197.5" stroke="#0b4f9a" stroke-width="0.9"/>
<line x1="203.0" y1="205.5" x2="206.60000000000002" y2="205.5" stroke="#0b4f9a" stroke-width="0.9"/>
<line x1="221.5" y1="175.8" x2="221.5" y2="183.8" stroke="#0b4f9a" stroke-width="0.9"/>
<line x1="219.39999999999998" y1="175.5" x2="223.0" y2="175.5" stroke="#0b4f9a" stroke-width="0.9"/>
<line x1="219.39999999999998" y1="183.5" x2="223.0" y2="183.5" stroke="#0b4f9a" stroke-width="0.9"/>
<polyline points="171.2,224.2 187.9,208.6 204.8,191.9 221.2,162.8" stroke="#c4162f" stroke-width="1.2" fill="none"/>
<polyline points="171.2,224.2 187.9,213.5 204.8,201.4 221.2,179.8" stroke="#0b4f9a" stroke-width="1.2" fill="none"/>
<circle cx="171.2" cy="224.2" r="1.7" fill="#c4162f"/>
<circle cx="187.9" cy="208.6" r="1.7" fill="#c4162f"/>
<circle cx="204.8" cy="191.9" r="1.7" fill="#c4162f"/>
<circle cx="221.2" cy="162.8" r="1.7" fill="#c4162f"/>
<circle cx="171.2" cy="224.2" r="1.7" fill="#0b4f9a"/>
<circle cx="187.9" cy="213.5" r="1.7" fill="#0b4f9a"/>
<circle cx="204.8" cy="201.4" r="1.7" fill="#0b4f9a"/>
<circle cx="221.2" cy="179.8" r="1.7" fill="#0b4f9a"/>
<circle cx="201.95" cy="185.2" r="1.05" fill="#1a1a1a"/>
<circle cx="205.05" cy="185.2" r="1.05" fill="#1a1a1a"/>
<circle cx="218.10" cy="155" r="1.05" fill="#1a1a1a"/>
<circle cx="221.20" cy="155" r="1.05" fill="#1a1a1a"/>
<circle cx="224.30" cy="155" r="1.05" fill="#1a1a1a"/>
<text x="171.2" y="236" font-size="8" text-anchor="middle" fill="#111" stroke="#111" stroke-width="0.06">0</text>
<polygon points="187.9,235.3 221.2,228.5 221.2,235.3" stroke="#111" stroke-width="0.8" fill="none"/>
<text x="187.7" y="246" font-size="8" text-anchor="middle" fill="#111" textLength="13.5" lengthAdjust="spacingAndGlyphs" stroke="#111" stroke-width="0.06">1/64</text>
<text x="204.4" y="246" font-size="8" text-anchor="middle" fill="#111" textLength="13.5" lengthAdjust="spacingAndGlyphs" stroke="#111" stroke-width="0.06">1/16</text>
<text x="220.9" y="246" font-size="8" text-anchor="middle" fill="#111" textLength="10.5" lengthAdjust="spacingAndGlyphs" stroke="#111" stroke-width="0.06">1/4</text>
<text x="135.5" y="188.7" font-size="9" text-anchor="middle" fill="#111" textLength="41.7" lengthAdjust="spacingAndGlyphs" transform="rotate(-90 135.5 188.7)" stroke="#111" stroke-width="0.25">Gzm B (ng/ml)</text>
<line x1="35" y1="249.5" x2="235.2" y2="249.5" stroke="#777" stroke-width="1"/>
<line x1="90.9" y1="254.5" x2="98.8" y2="254.5" stroke="#0b4f9a" stroke-width="1"/>
<circle cx="94.8" cy="254.4" r="1.4" fill="#0b4f9a"/>
<text x="101.3" y="257" font-size="7.5" text-anchor="start" fill="#111" textLength="29" lengthAdjust="spacingAndGlyphs" stroke="#111" stroke-width="0.06">rIL-12 (–)</text>
<line x1="140.4" y1="254.5" x2="148" y2="254.5" stroke="#c4162f" stroke-width="1"/>
<circle cx="144.2" cy="254.4" r="1.4" fill="#c4162f"/>
<text x="150.8" y="257" font-size="7.5" text-anchor="start" fill="#111" textLength="29.2" lengthAdjust="spacingAndGlyphs" stroke="#111" stroke-width="0.06">rIL-12 (+)</text>
<text x="273.5" y="148.5" font-size="11.3" text-anchor="start" fill="#000" font-weight="bold">E</text>
<line x1="306.5" y1="152.5" x2="306.5" y2="225.3" stroke="#111" stroke-width="1.15"/>
<line x1="302.5" y1="155.5" x2="306" y2="155.5" stroke="#111" stroke-width="1.1"/>
<text x="300.4" y="158.64" font-size="8.5" text-anchor="end" fill="#111" stroke="#111" stroke-width="0.06">800</text>
<line x1="302.5" y1="173.5" x2="306" y2="173.5" stroke="#111" stroke-width="1.1"/>
<text x="300.4" y="176.14" font-size="8.5" text-anchor="end" fill="#111" stroke="#111" stroke-width="0.06">600</text>
<line x1="302.5" y1="190.5" x2="306" y2="190.5" stroke="#111" stroke-width="1.1"/>
<text x="300.4" y="193.34" font-size="8.5" text-anchor="end" fill="#111" stroke="#111" stroke-width="0.06">400</text>
<line x1="302.5" y1="207.5" x2="306" y2="207.5" stroke="#111" stroke-width="1.1"/>
<text x="300.4" y="210.54" font-size="8.5" text-anchor="end" fill="#111" stroke="#111" stroke-width="0.06">200</text>
<line x1="302.5" y1="224.5" x2="306" y2="224.5" stroke="#111" stroke-width="1.1"/>
<text x="300.4" y="227.84" font-size="8.5" text-anchor="end" fill="#111" stroke="#111" stroke-width="0.06">0</text>
<line x1="306" y1="224.5" x2="386.4" y2="224.5" stroke="#111" stroke-width="1.15"/>
<line x1="316.5" y1="224.8" x2="316.5" y2="227.3" stroke="#111" stroke-width="1.1"/>
<line x1="336.5" y1="224.8" x2="336.5" y2="227.3" stroke="#111" stroke-width="1.1"/>
<line x1="356.5" y1="224.8" x2="356.5" y2="227.3" stroke="#111" stroke-width="1.1"/>
<line x1="376.5" y1="224.8" x2="376.5" y2="227.3" stroke="#111" stroke-width="1.1"/>
<rect x="312.3" y="223.5" width="8.2" height="1.3" fill="#c4162f" stroke="none" stroke-width="1"/>
<rect x="332.3" y="202.2" width="8.2" height="22.6" fill="#d0485f" stroke="none" stroke-width="1"/>
<rect x="352.7" y="223.8" width="8.2" height="1" fill="#0b4f9a" stroke="none" stroke-width="1"/>
<rect x="372.6" y="223" width="8.2" height="1.8" fill="#5a8cc0" stroke="none" stroke-width="1"/>
<line x1="336.5" y1="196.5" x2="336.5" y2="208" stroke="#111" stroke-width="0.9"/>
<line x1="334.5" y1="196.5" x2="338.1" y2="196.5" stroke="#111" stroke-width="0.9"/>
<line x1="334.5" y1="208.5" x2="338.1" y2="208.5" stroke="#111" stroke-width="0.9"/>
<circle cx="336.3" cy="160.4" r="1.3" fill="#e88a9a"/>
<circle cx="335.5" cy="193.8" r="1.3" fill="#e88a9a"/>
<circle cx="337.5" cy="196.5" r="1.3" fill="#e88a9a"/>
<circle cx="334" cy="208" r="1" fill="#f2c4cc"/>
<circle cx="338.5" cy="210" r="1" fill="#f2c4cc"/>
<circle cx="335.5" cy="213" r="1" fill="#f2c4cc"/>
<circle cx="337.8" cy="216" r="1" fill="#f2c4cc"/>
<circle cx="334.8" cy="219" r="1" fill="#f2c4cc"/>
<circle cx="336.5" cy="221.5" r="1" fill="#f2c4cc"/>
<circle cx="313.5" cy="224" r="1.1" fill="#c4162f"/>
<circle cx="315.5" cy="224" r="1.1" fill="#c4162f"/>
<circle cx="317.5" cy="224" r="1.1" fill="#c4162f"/>
<circle cx="319.5" cy="224" r="1.1" fill="#c4162f"/>
<circle cx="353.5" cy="224.5" r="1" fill="#0b4f9a"/>
<circle cx="356" cy="224.5" r="1" fill="#0b4f9a"/>
<circle cx="358.5" cy="224.5" r="1" fill="#0b4f9a"/>
<circle cx="373.5" cy="222" r="1" fill="#4a7fb8"/>
<circle cx="376" cy="220.5" r="1" fill="#4a7fb8"/>
<circle cx="378.5" cy="222.5" r="1" fill="#4a7fb8"/>
<circle cx="375" cy="223.8" r="1" fill="#4a7fb8"/>
<circle cx="380" cy="224" r="1" fill="#4a7fb8"/>
<polyline points="316.5,219.5 316.5,153.5 376.5,153.5 376.5,213.5" stroke="#111" stroke-width="0.9" fill="none"/>
<line x1="335.5" y1="153.3" x2="335.5" y2="157.4" stroke="#111" stroke-width="0.8"/>
<line x1="337.5" y1="153.3" x2="337.5" y2="157.4" stroke="#111" stroke-width="0.8"/>
<circle cx="323.10" cy="149.7" r="1.05" fill="#1a1a1a"/>
<circle cx="326.20" cy="149.7" r="1.05" fill="#1a1a1a"/>
<circle cx="329.30" cy="149.7" r="1.05" fill="#1a1a1a"/>
<circle cx="355.85" cy="150.5" r="1.05" fill="#1a1a1a"/>
<circle cx="358.95" cy="150.5" r="1.05" fill="#1a1a1a"/>
<text x="306" y="235.5" font-size="8" text-anchor="end" fill="#111" textLength="20.2" lengthAdjust="spacingAndGlyphs" stroke="#111" stroke-width="0.06">BsAb:</text>
<line x1="314.5" y1="232.6" x2="318.29999999999995" y2="232.6" stroke="#111" stroke-width="0.9"/>
<text x="336.3" y="235.5" font-size="8" text-anchor="middle" fill="#111" stroke="#111" stroke-width="0.06">+</text>
<line x1="354.90000000000003" y1="232.6" x2="358.7" y2="232.6" stroke="#111" stroke-width="0.9"/>
<text x="376.7" y="235.5" font-size="8" text-anchor="middle" fill="#111" stroke="#111" stroke-width="0.06">+</text>
<line x1="312.9" y1="238.5" x2="339.8" y2="238.5" stroke="#444" stroke-width="0.9"/>
<line x1="354.1" y1="238.5" x2="380" y2="238.5" stroke="#444" stroke-width="0.9"/>
<text x="326.6" y="247.3" font-size="8.7" text-anchor="middle" fill="#111" stroke="#111" stroke-width="0.06">WT</text>
<text x="349.8" y="247.1" font-size="8.6" text-anchor="start" fill="#111" textLength="34.2" lengthAdjust="spacingAndGlyphs" font-style="italic" stroke="#111" stroke-width="0.06">Il12p35<tspan dy="-3" font-size="5.5">–/–</tspan></text>
<text x="281" y="188.7" font-size="9" text-anchor="middle" fill="#111" textLength="62.5" lengthAdjust="spacingAndGlyphs" transform="rotate(-90 281 188.7)" stroke="#111" stroke-width="0.25">Plasma IFN-γ (pg/ml)</text>
<line x1="433.5" y1="152.5" x2="433.5" y2="225.0" stroke="#111" stroke-width="1.15"/>
<line x1="429.7" y1="155.5" x2="433.2" y2="155.5" stroke="#111" stroke-width="1.1"/>
<text x="427.59999999999997" y="158.44" font-size="8.5" text-anchor="end" fill="#111" stroke="#111" stroke-width="0.06">300</text>
<line x1="429.7" y1="178.5" x2="433.2" y2="178.5" stroke="#111" stroke-width="1.1"/>
<text x="427.59999999999997" y="181.54" font-size="8.5" text-anchor="end" fill="#111" stroke="#111" stroke-width="0.06">200</text>
<line x1="429.7" y1="201.5" x2="433.2" y2="201.5" stroke="#111" stroke-width="1.1"/>
<text x="427.59999999999997" y="204.74" font-size="8.5" text-anchor="end" fill="#111" stroke="#111" stroke-width="0.06">100</text>
<line x1="429.7" y1="224.5" x2="433.2" y2="224.5" stroke="#111" stroke-width="1.1"/>
<text x="427.59999999999997" y="227.54" font-size="8.5" text-anchor="end" fill="#111" stroke="#111" stroke-width="0.06">0</text>
<line x1="433.2" y1="224.5" x2="513" y2="224.5" stroke="#111" stroke-width="1.15"/>
<line x1="443.5" y1="224.5" x2="443.5" y2="227.0" stroke="#111" stroke-width="1.1"/>
<line x1="463.5" y1="224.5" x2="463.5" y2="227.0" stroke="#111" stroke-width="1.1"/>
<line x1="483.5" y1="224.5" x2="483.5" y2="227.0" stroke="#111" stroke-width="1.1"/>
<line x1="503.5" y1="224.5" x2="503.5" y2="227.0" stroke="#111" stroke-width="1.1"/>
<rect x="439" y="216.3" width="8.5" height="8.2" fill="#f0b8c2" stroke="none" stroke-width="1"/>
<rect x="459.1" y="192.3" width="8.4" height="32.2" fill="#d0485f" stroke="none" stroke-width="1"/>
<rect x="479.4" y="214.4" width="8.3" height="10.1" fill="#a9c4e2" stroke="none" stroke-width="1"/>
<rect x="499.9" y="217.2" width="8.2" height="7.3" fill="#4a7fb8" stroke="none" stroke-width="1"/>
<line x1="443.5" y1="213.2" x2="443.5" y2="219" stroke="#111" stroke-width="0.9"/>
<line x1="441.59999999999997" y1="213.5" x2="445.2" y2="213.5" stroke="#111" stroke-width="0.9"/>
<line x1="441.59999999999997" y1="219.5" x2="445.2" y2="219.5" stroke="#111" stroke-width="0.9"/>
<line x1="463.5" y1="185.3" x2="463.5" y2="198.8" stroke="#111" stroke-width="0.9"/>
<line x1="461.4" y1="185.5" x2="465.0" y2="185.5" stroke="#111" stroke-width="0.9"/>
<line x1="461.4" y1="198.5" x2="465.0" y2="198.5" stroke="#111" stroke-width="0.9"/>
<line x1="483.5" y1="207.9" x2="483.5" y2="221" stroke="#111" stroke-width="0.9"/>
<line x1="481.7" y1="207.5" x2="485.3" y2="207.5" stroke="#111" stroke-width="0.9"/>
<line x1="481.7" y1="221.5" x2="485.3" y2="221.5" stroke="#111" stroke-width="0.9"/>
<line x1="503.5" y1="215.3" x2="503.5" y2="219.5" stroke="#111" stroke-width="0.9"/>
<line x1="502.0" y1="215.5" x2="505.6" y2="215.5" stroke="#111" stroke-width="0.9"/>
<line x1="502.0" y1="219.5" x2="505.6" y2="219.5" stroke="#111" stroke-width="0.9"/>
<circle cx="443.5" cy="204.6" r="1.1" fill="#c4162f"/>
<circle cx="443.5" cy="208.3" r="1.1" fill="#c4162f"/>
<circle cx="443.5" cy="213.6" r="1.1" fill="#c4162f"/>
<circle cx="443.5" cy="217.2" r="1.1" fill="#c4162f"/>
<circle cx="441.5" cy="219.3" r="1.1" fill="#c4162f"/>
<circle cx="445.5" cy="219.3" r="1.1" fill="#c4162f"/>
<circle cx="443.5" cy="220.5" r="1.1" fill="#c4162f"/>
<circle cx="443.5" cy="223.6" r="1.1" fill="#c4162f"/>
<circle cx="463.2" cy="163.2" r="1.3" fill="#e88a9a"/>
<circle cx="461.1" cy="167.6" r="1.3" fill="#e88a9a"/>
<circle cx="465.3" cy="167.6" r="1.3" fill="#e88a9a"/>
<circle cx="463.2" cy="178" r="1.3" fill="#e88a9a"/>
<circle cx="461.3" cy="201" r="1" fill="#f2c4cc"/>
<circle cx="464.8" cy="203" r="1" fill="#f2c4cc"/>
<circle cx="462.3" cy="207" r="1" fill="#f2c4cc"/>
<circle cx="464.3" cy="211" r="1" fill="#f2c4cc"/>
<circle cx="461.8" cy="215" r="1" fill="#f2c4cc"/>
<circle cx="483.5" cy="180.1" r="1.1" fill="#0b4f9a"/>
<circle cx="483.9" cy="216.5" r="1" fill="#0b4f9a"/>
<circle cx="482.4" cy="220" r="1" fill="#0b4f9a"/>
<circle cx="503.8" cy="206.9" r="1.1" fill="#0b4f9a"/>
<circle cx="502.5" cy="218.5" r="1" fill="#b9d0ea"/>
<circle cx="505" cy="220.5" r="1" fill="#b9d0ea"/>
<polyline points="443.5,199.5 443.5,153.5 503.5,153.5 503.5,201.5" stroke="#111" stroke-width="0.9" fill="none"/>
<line x1="462.5" y1="153.2" x2="462.5" y2="157.4" stroke="#111" stroke-width="0.8"/>
<line x1="463.5" y1="153.2" x2="463.5" y2="157.4" stroke="#111" stroke-width="0.8"/>
<circle cx="451.65" cy="149.5" r="1.05" fill="#1a1a1a"/>
<circle cx="454.75" cy="149.5" r="1.05" fill="#1a1a1a"/>
<circle cx="482.65" cy="149.5" r="1.05" fill="#1a1a1a"/>
<circle cx="485.75" cy="149.5" r="1.05" fill="#1a1a1a"/>
<text x="433.2" y="235.5" font-size="8" text-anchor="end" fill="#111" textLength="20.2" lengthAdjust="spacingAndGlyphs" stroke="#111" stroke-width="0.06">BsAb:</text>
<line x1="441.5" y1="232.6" x2="445.29999999999995" y2="232.6" stroke="#111" stroke-width="0.9"/>
<text x="463.2" y="235.5" font-size="8" text-anchor="middle" fill="#111" stroke="#111" stroke-width="0.06">+</text>
<line x1="481.6" y1="232.6" x2="485.4" y2="232.6" stroke="#111" stroke-width="0.9"/>
<text x="503.8" y="235.5" font-size="8" text-anchor="middle" fill="#111" stroke="#111" stroke-width="0.06">+</text>
<line x1="439.5" y1="238.5" x2="466" y2="238.5" stroke="#444" stroke-width="0.9"/>
<line x1="480.8" y1="238.5" x2="506.8" y2="238.5" stroke="#444" stroke-width="0.9"/>
<text x="452.9" y="247.1" font-size="8.7" text-anchor="middle" fill="#111" stroke="#111" stroke-width="0.06">WT</text>
<text x="476.9" y="247.1" font-size="8.6" text-anchor="start" fill="#111" textLength="33.6" lengthAdjust="spacingAndGlyphs" font-style="italic" stroke="#111" stroke-width="0.06">Il12p35<tspan dy="-3" font-size="5.5">–/–</tspan></text>
<text x="407.9" y="188.7" font-size="9" text-anchor="middle" fill="#111" textLength="65" lengthAdjust="spacingAndGlyphs" transform="rotate(-90 407.9 188.7)" stroke="#111" stroke-width="0.25">Plasma Gzm B (pg/ml)</text>
<text x="6.5" y="276.9" font-size="11.3" text-anchor="start" fill="#000" font-weight="bold">F</text>
<text x="96.75" y="277.2" font-size="8" text-anchor="middle" fill="#111" textLength="51.5" lengthAdjust="spacingAndGlyphs" stroke="#111" stroke-width="0.06">BsAb treatment</text>
<line x1="50.8" y1="280.5" x2="143.1" y2="280.5" stroke="#333" stroke-width="0.9"/>
<text x="73.1" y="288.2" font-size="8" text-anchor="middle" fill="#111" stroke="#111" stroke-width="0.06">(–)</text>
<text x="121.5" y="288.2" font-size="8" text-anchor="middle" fill="#111" stroke="#111" stroke-width="0.06">(+)</text>
<g fill="#999" opacity="0.5"><circle cx="68.9" cy="326.4" r="0.3"/><circle cx="69.2" cy="321.4" r="0.3"/><circle cx="62.8" cy="322.0" r="0.3"/><circle cx="81.2" cy="325.8" r="0.3"/><circle cx="80.5" cy="324.8" r="0.3"/><circle cx="74.8" cy="324.4" r="0.3"/><circle cx="56.2" cy="328.4" r="0.3"/><circle cx="75.8" cy="326.3" r="0.3"/><circle cx="56.0" cy="312.8" r="0.3"/><circle cx="63.2" cy="320.5" r="0.3"/><circle cx="73.9" cy="323.0" r="0.3"/><circle cx="75.9" cy="319.4" r="0.3"/><circle cx="74.0" cy="325.7" r="0.3"/><circle cx="65.2" cy="333.6" r="0.3"/><circle cx="76.2" cy="330.5" r="0.3"/><circle cx="65.6" cy="318.9" r="0.3"/><circle cx="68.1" cy="322.7" r="0.3"/><circle cx="76.9" cy="324.8" r="0.3"/><circle cx="67.2" cy="317.6" r="0.3"/><circle cx="66.5" cy="330.6" r="0.3"/><circle cx="63.9" cy="324.8" r="0.3"/><circle cx="75.0" cy="314.4" r="0.3"/><circle cx="71.6" cy="331.1" r="0.3"/><circle cx="53.1" cy="321.4" r="0.3"/><circle cx="70.2" cy="318.4" r="0.3"/><circle cx="75.7" cy="322.9" r="0.3"/><circle cx="58.0" cy="328.3" r="0.3"/><circle cx="77.2" cy="329.0" r="0.3"/><circle cx="84.2" cy="325.5" r="0.3"/><circle cx="72.3" cy="315.5" r="0.3"/><circle cx="76.7" cy="319.6" r="0.3"/><circle cx="67.1" cy="315.7" r="0.3"/><circle cx="62.5" cy="320.1" r="0.3"/><circle cx="82.8" cy="311.1" r="0.3"/><circle cx="58.1" cy="324.7" r="0.3"/><circle cx="84.2" cy="326.8" r="0.3"/><circle cx="54.1" cy="308.2" r="0.3"/><circle cx="74.4" cy="318.9" r="0.3"/><circle cx="61.1" cy="329.2" r="0.3"/><circle cx="81.1" cy="324.2" r="0.3"/><circle cx="73.4" cy="325.9" r="0.3"/><circle cx="85.5" cy="327.0" r="0.3"/><circle cx="75.9" cy="326.6" r="0.3"/><circle cx="57.1" cy="331.0" r="0.3"/><circle cx="79.8" cy="326.5" r="0.3"/></g>
<rect x="51.2" y="291.6" width="43.2" height="43.69999999999999" fill="none" stroke="#111" stroke-width="1.1"/>
<line x1="50.0" y1="296.4555555555556" x2="51.2" y2="296.4555555555556" stroke="#111" stroke-width="0.5"/>
<line x1="50.0" y1="301.31111111111113" x2="51.2" y2="301.31111111111113" stroke="#111" stroke-width="0.5"/>
<line x1="50.0" y1="306.1666666666667" x2="51.2" y2="306.1666666666667" stroke="#111" stroke-width="0.5"/>
<line x1="50.0" y1="311.02222222222224" x2="51.2" y2="311.02222222222224" stroke="#111" stroke-width="0.5"/>
<line x1="50.0" y1="315.8777777777778" x2="51.2" y2="315.8777777777778" stroke="#111" stroke-width="0.5"/>
<line x1="50.0" y1="320.73333333333335" x2="51.2" y2="320.73333333333335" stroke="#111" stroke-width="0.5"/>
<line x1="50.0" y1="325.5888888888889" x2="51.2" y2="325.5888888888889" stroke="#111" stroke-width="0.5"/>
<line x1="50.0" y1="330.44444444444446" x2="51.2" y2="330.44444444444446" stroke="#111" stroke-width="0.5"/>
<line x1="54.080000000000005" y1="335.3" x2="54.080000000000005" y2="336.5" stroke="#111" stroke-width="0.5"/>
<line x1="56.96" y1="335.3" x2="56.96" y2="336.5" stroke="#111" stroke-width="0.5"/>
<line x1="59.84" y1="335.3" x2="59.84" y2="336.5" stroke="#111" stroke-width="0.5"/>
<line x1="62.720000000000006" y1="335.3" x2="62.720000000000006" y2="336.5" stroke="#111" stroke-width="0.5"/>
<line x1="65.60000000000001" y1="335.3" x2="65.60000000000001" y2="336.5" stroke="#111" stroke-width="0.5"/>
<line x1="68.48" y1="335.3" x2="68.48" y2="336.5" stroke="#111" stroke-width="0.5"/>
<line x1="71.36000000000001" y1="335.3" x2="71.36000000000001" y2="336.5" stroke="#111" stroke-width="0.5"/>
<line x1="74.24000000000001" y1="335.3" x2="74.24000000000001" y2="336.5" stroke="#111" stroke-width="0.5"/>
<line x1="77.12" y1="335.3" x2="77.12" y2="336.5" stroke="#111" stroke-width="0.5"/>
<line x1="80.0" y1="335.3" x2="80.0" y2="336.5" stroke="#111" stroke-width="0.5"/>
<line x1="82.88000000000001" y1="335.3" x2="82.88000000000001" y2="336.5" stroke="#111" stroke-width="0.5"/>
<line x1="85.76000000000002" y1="335.3" x2="85.76000000000002" y2="336.5" stroke="#111" stroke-width="0.5"/>
<line x1="88.64000000000001" y1="335.3" x2="88.64000000000001" y2="336.5" stroke="#111" stroke-width="0.5"/>
<line x1="91.52000000000001" y1="335.3" x2="91.52000000000001" y2="336.5" stroke="#111" stroke-width="0.5"/>
<line x1="49.7" y1="335.5" x2="51.2" y2="335.5" stroke="#111" stroke-width="0.8"/>
<line x1="61.5" y1="335.3" x2="61.5" y2="337.1" stroke="#111" stroke-width="0.8"/>
<g fill="#999" opacity="0.5"><circle cx="53.4" cy="367.7" r="0.3"/><circle cx="78.8" cy="360.6" r="0.3"/><circle cx="69.5" cy="377.6" r="0.3"/><circle cx="59.4" cy="381.2" r="0.3"/><circle cx="76.2" cy="370.6" r="0.3"/><circle cx="74.1" cy="375.4" r="0.3"/><circle cx="72.3" cy="378.4" r="0.3"/><circle cx="65.2" cy="369.0" r="0.3"/><circle cx="80.6" cy="371.7" r="0.3"/><circle cx="63.3" cy="377.2" r="0.3"/><circle cx="84.4" cy="368.8" r="0.3"/><circle cx="58.8" cy="370.7" r="0.3"/><circle cx="69.9" cy="369.7" r="0.3"/><circle cx="83.8" cy="365.3" r="0.3"/><circle cx="82.5" cy="363.9" r="0.3"/><circle cx="64.1" cy="375.3" r="0.3"/><circle cx="81.4" cy="376.7" r="0.3"/><circle cx="74.3" cy="372.4" r="0.3"/><circle cx="72.6" cy="375.0" r="0.3"/><circle cx="69.6" cy="373.2" r="0.3"/><circle cx="76.4" cy="371.5" r="0.3"/><circle cx="78.1" cy="374.9" r="0.3"/><circle cx="89.3" cy="373.4" r="0.3"/><circle cx="67.4" cy="369.3" r="0.3"/><circle cx="71.1" cy="377.0" r="0.3"/><circle cx="68.2" cy="373.8" r="0.3"/><circle cx="87.7" cy="356.1" r="0.3"/><circle cx="61.1" cy="373.0" r="0.3"/><circle cx="74.8" cy="372.9" r="0.3"/><circle cx="67.3" cy="375.4" r="0.3"/><circle cx="73.7" cy="368.4" r="0.3"/><circle cx="93.1" cy="373.6" r="0.3"/><circle cx="66.2" cy="370.9" r="0.3"/><circle cx="69.2" cy="371.1" r="0.3"/><circle cx="46.6" cy="368.6" r="0.3"/><circle cx="80.3" cy="364.5" r="0.3"/><circle cx="70.6" cy="377.2" r="0.3"/><circle cx="78.9" cy="380.4" r="0.3"/><circle cx="55.9" cy="369.4" r="0.3"/><circle cx="68.1" cy="375.2" r="0.3"/><circle cx="81.0" cy="355.4" r="0.3"/><circle cx="81.0" cy="362.8" r="0.3"/><circle cx="77.3" cy="362.5" r="0.3"/><circle cx="72.8" cy="378.7" r="0.3"/><circle cx="69.9" cy="372.6" r="0.3"/></g>
<rect x="51.2" y="340.6" width="43.2" height="42.89999999999998" fill="none" stroke="#111" stroke-width="1.1"/>
<line x1="50.0" y1="345.3666666666667" x2="51.2" y2="345.3666666666667" stroke="#111" stroke-width="0.5"/>
<line x1="50.0" y1="350.1333333333333" x2="51.2" y2="350.1333333333333" stroke="#111" stroke-width="0.5"/>
<line x1="50.0" y1="354.90000000000003" x2="51.2" y2="354.90000000000003" stroke="#111" stroke-width="0.5"/>
<line x1="50.0" y1="359.6666666666667" x2="51.2" y2="359.6666666666667" stroke="#111" stroke-width="0.5"/>
<line x1="50.0" y1="364.43333333333334" x2="51.2" y2="364.43333333333334" stroke="#111" stroke-width="0.5"/>
<line x1="50.0" y1="369.2" x2="51.2" y2="369.2" stroke="#111" stroke-width="0.5"/>
<line x1="50.0" y1="373.9666666666667" x2="51.2" y2="373.9666666666667" stroke="#111" stroke-width="0.5"/>
<line x1="50.0" y1="378.73333333333335" x2="51.2" y2="378.73333333333335" stroke="#111" stroke-width="0.5"/>
<line x1="54.080000000000005" y1="383.5" x2="54.080000000000005" y2="384.7" stroke="#111" stroke-width="0.5"/>
<line x1="56.96" y1="383.5" x2="56.96" y2="384.7" stroke="#111" stroke-width="0.5"/>
<line x1="59.84" y1="383.5" x2="59.84" y2="384.7" stroke="#111" stroke-width="0.5"/>
<line x1="62.720000000000006" y1="383.5" x2="62.720000000000006" y2="384.7" stroke="#111" stroke-width="0.5"/>
<line x1="65.60000000000001" y1="383.5" x2="65.60000000000001" y2="384.7" stroke="#111" stroke-width="0.5"/>
<line x1="68.48" y1="383.5" x2="68.48" y2="384.7" stroke="#111" stroke-width="0.5"/>
<line x1="71.36000000000001" y1="383.5" x2="71.36000000000001" y2="384.7" stroke="#111" stroke-width="0.5"/>
<line x1="74.24000000000001" y1="383.5" x2="74.24000000000001" y2="384.7" stroke="#111" stroke-width="0.5"/>
<line x1="77.12" y1="383.5" x2="77.12" y2="384.7" stroke="#111" stroke-width="0.5"/>
<line x1="80.0" y1="383.5" x2="80.0" y2="384.7" stroke="#111" stroke-width="0.5"/>
<line x1="82.88000000000001" y1="383.5" x2="82.88000000000001" y2="384.7" stroke="#111" stroke-width="0.5"/>
<line x1="85.76000000000002" y1="383.5" x2="85.76000000000002" y2="384.7" stroke="#111" stroke-width="0.5"/>
<line x1="88.64000000000001" y1="383.5" x2="88.64000000000001" y2="384.7" stroke="#111" stroke-width="0.5"/>
<line x1="91.52000000000001" y1="383.5" x2="91.52000000000001" y2="384.7" stroke="#111" stroke-width="0.5"/>
<line x1="49.7" y1="383.5" x2="51.2" y2="383.5" stroke="#111" stroke-width="0.8"/>
<line x1="61.5" y1="383.5" x2="61.5" y2="385.3" stroke="#111" stroke-width="0.8"/>
<g fill="#999" opacity="0.5"><circle cx="126.3" cy="324.1" r="0.3"/><circle cx="118.3" cy="332.5" r="0.3"/><circle cx="128.5" cy="321.5" r="0.3"/><circle cx="143.8" cy="316.4" r="0.3"/><circle cx="127.3" cy="321.7" r="0.3"/><circle cx="120.3" cy="327.5" r="0.3"/><circle cx="121.1" cy="327.1" r="0.3"/><circle cx="105.4" cy="314.2" r="0.3"/><circle cx="124.6" cy="317.5" r="0.3"/><circle cx="109.9" cy="314.5" r="0.3"/><circle cx="130.5" cy="327.8" r="0.3"/><circle cx="132.4" cy="317.7" r="0.3"/><circle cx="119.1" cy="316.5" r="0.3"/><circle cx="126.0" cy="332.8" r="0.3"/><circle cx="111.1" cy="332.7" r="0.3"/><circle cx="128.0" cy="322.2" r="0.3"/><circle cx="101.4" cy="331.7" r="0.3"/><circle cx="118.2" cy="319.7" r="0.3"/><circle cx="122.7" cy="325.8" r="0.3"/><circle cx="132.6" cy="317.2" r="0.3"/><circle cx="129.3" cy="332.2" r="0.3"/><circle cx="132.2" cy="322.2" r="0.3"/><circle cx="112.4" cy="329.4" r="0.3"/><circle cx="120.1" cy="324.0" r="0.3"/><circle cx="131.9" cy="321.7" r="0.3"/><circle cx="98.4" cy="321.0" r="0.3"/><circle cx="102.4" cy="328.2" r="0.3"/><circle cx="122.0" cy="319.6" r="0.3"/><circle cx="119.0" cy="328.3" r="0.3"/><circle cx="119.8" cy="331.3" r="0.3"/><circle cx="118.5" cy="329.5" r="0.3"/><circle cx="132.5" cy="333.0" r="0.3"/><circle cx="113.1" cy="328.6" r="0.3"/><circle cx="102.2" cy="316.8" r="0.3"/><circle cx="101.4" cy="329.7" r="0.3"/><circle cx="108.0" cy="323.2" r="0.3"/><circle cx="117.4" cy="323.1" r="0.3"/><circle cx="113.8" cy="324.7" r="0.3"/><circle cx="135.2" cy="323.6" r="0.3"/><circle cx="123.9" cy="329.3" r="0.3"/><circle cx="117.3" cy="315.7" r="0.3"/><circle cx="114.1" cy="329.7" r="0.3"/><circle cx="104.3" cy="319.7" r="0.3"/><circle cx="128.2" cy="328.1" r="0.3"/><circle cx="119.2" cy="328.1" r="0.3"/></g>
<rect x="99.1" y="291.6" width="43.30000000000001" height="43.69999999999999" fill="none" stroke="#111" stroke-width="1.1"/>
<line x1="97.89999999999999" y1="296.4555555555556" x2="99.1" y2="296.4555555555556" stroke="#111" stroke-width="0.5"/>
<line x1="97.89999999999999" y1="301.31111111111113" x2="99.1" y2="301.31111111111113" stroke="#111" stroke-width="0.5"/>
<line x1="97.89999999999999" y1="306.1666666666667" x2="99.1" y2="306.1666666666667" stroke="#111" stroke-width="0.5"/>
<line x1="97.89999999999999" y1="311.02222222222224" x2="99.1" y2="311.02222222222224" stroke="#111" stroke-width="0.5"/>
<line x1="97.89999999999999" y1="315.8777777777778" x2="99.1" y2="315.8777777777778" stroke="#111" stroke-width="0.5"/>
<line x1="97.89999999999999" y1="320.73333333333335" x2="99.1" y2="320.73333333333335" stroke="#111" stroke-width="0.5"/>
<line x1="97.89999999999999" y1="325.5888888888889" x2="99.1" y2="325.5888888888889" stroke="#111" stroke-width="0.5"/>
<line x1="97.89999999999999" y1="330.44444444444446" x2="99.1" y2="330.44444444444446" stroke="#111" stroke-width="0.5"/>
<line x1="101.98666666666666" y1="335.3" x2="101.98666666666666" y2="336.5" stroke="#111" stroke-width="0.5"/>
<line x1="104.87333333333333" y1="335.3" x2="104.87333333333333" y2="336.5" stroke="#111" stroke-width="0.5"/>
<line x1="107.75999999999999" y1="335.3" x2="107.75999999999999" y2="336.5" stroke="#111" stroke-width="0.5"/>
<line x1="110.64666666666666" y1="335.3" x2="110.64666666666666" y2="336.5" stroke="#111" stroke-width="0.5"/>
<line x1="113.53333333333333" y1="335.3" x2="113.53333333333333" y2="336.5" stroke="#111" stroke-width="0.5"/>
<line x1="116.42" y1="335.3" x2="116.42" y2="336.5" stroke="#111" stroke-width="0.5"/>
<line x1="119.30666666666667" y1="335.3" x2="119.30666666666667" y2="336.5" stroke="#111" stroke-width="0.5"/>
<line x1="122.19333333333333" y1="335.3" x2="122.19333333333333" y2="336.5" stroke="#111" stroke-width="0.5"/>
<line x1="125.08" y1="335.3" x2="125.08" y2="336.5" stroke="#111" stroke-width="0.5"/>
<line x1="127.96666666666667" y1="335.3" x2="127.96666666666667" y2="336.5" stroke="#111" stroke-width="0.5"/>
<line x1="130.85333333333332" y1="335.3" x2="130.85333333333332" y2="336.5" stroke="#111" stroke-width="0.5"/>
<line x1="133.74" y1="335.3" x2="133.74" y2="336.5" stroke="#111" stroke-width="0.5"/>
<line x1="136.62666666666667" y1="335.3" x2="136.62666666666667" y2="336.5" stroke="#111" stroke-width="0.5"/>
<line x1="139.51333333333332" y1="335.3" x2="139.51333333333332" y2="336.5" stroke="#111" stroke-width="0.5"/>
<line x1="97.6" y1="335.5" x2="99.1" y2="335.5" stroke="#111" stroke-width="0.8"/>
<line x1="109.5" y1="335.3" x2="109.5" y2="337.1" stroke="#111" stroke-width="0.8"/>
<g fill="#999" opacity="0.5"><circle cx="120.6" cy="364.4" r="0.3"/><circle cx="105.0" cy="367.7" r="0.3"/><circle cx="127.4" cy="368.1" r="0.3"/><circle cx="111.0" cy="366.9" r="0.3"/><circle cx="105.3" cy="370.8" r="0.3"/><circle cx="108.5" cy="373.7" r="0.3"/><circle cx="97.9" cy="373.5" r="0.3"/><circle cx="113.3" cy="359.8" r="0.3"/><circle cx="125.6" cy="369.8" r="0.3"/><circle cx="99.0" cy="366.2" r="0.3"/><circle cx="121.7" cy="368.7" r="0.3"/><circle cx="126.1" cy="376.0" r="0.3"/><circle cx="125.1" cy="373.5" r="0.3"/><circle cx="131.1" cy="375.5" r="0.3"/><circle cx="123.2" cy="359.0" r="0.3"/><circle cx="127.2" cy="379.4" r="0.3"/><circle cx="116.4" cy="368.7" r="0.3"/><circle cx="136.6" cy="361.0" r="0.3"/><circle cx="123.3" cy="386.0" r="0.3"/><circle cx="110.8" cy="375.6" r="0.3"/><circle cx="136.1" cy="370.8" r="0.3"/><circle cx="124.2" cy="376.9" r="0.3"/><circle cx="110.9" cy="371.0" r="0.3"/><circle cx="121.7" cy="376.5" r="0.3"/><circle cx="118.8" cy="370.3" r="0.3"/><circle cx="110.0" cy="369.3" r="0.3"/><circle cx="127.1" cy="372.1" r="0.3"/><circle cx="111.4" cy="366.5" r="0.3"/><circle cx="143.1" cy="378.3" r="0.3"/><circle cx="124.8" cy="355.9" r="0.3"/><circle cx="124.7" cy="374.4" r="0.3"/><circle cx="134.3" cy="374.1" r="0.3"/><circle cx="118.5" cy="374.6" r="0.3"/><circle cx="101.6" cy="377.7" r="0.3"/><circle cx="122.0" cy="367.3" r="0.3"/><circle cx="131.0" cy="382.4" r="0.3"/><circle cx="106.5" cy="367.5" r="0.3"/><circle cx="121.7" cy="372.6" r="0.3"/><circle cx="115.5" cy="365.7" r="0.3"/><circle cx="138.2" cy="377.7" r="0.3"/><circle cx="108.4" cy="363.4" r="0.3"/><circle cx="134.4" cy="377.4" r="0.3"/><circle cx="135.5" cy="376.4" r="0.3"/><circle cx="111.3" cy="373.1" r="0.3"/><circle cx="99.7" cy="367.0" r="0.3"/></g>
<rect x="99.1" y="340.6" width="43.30000000000001" height="42.89999999999998" fill="none" stroke="#111" stroke-width="1.1"/>
<line x1="97.89999999999999" y1="345.3666666666667" x2="99.1" y2="345.3666666666667" stroke="#111" stroke-width="0.5"/>
<line x1="97.89999999999999" y1="350.1333333333333" x2="99.1" y2="350.1333333333333" stroke="#111" stroke-width="0.5"/>
<line x1="97.89999999999999" y1="354.90000000000003" x2="99.1" y2="354.90000000000003" stroke="#111" stroke-width="0.5"/>
<line x1="97.89999999999999" y1="359.6666666666667" x2="99.1" y2="359.6666666666667" stroke="#111" stroke-width="0.5"/>
<line x1="97.89999999999999" y1="364.43333333333334" x2="99.1" y2="364.43333333333334" stroke="#111" stroke-width="0.5"/>
<line x1="97.89999999999999" y1="369.2" x2="99.1" y2="369.2" stroke="#111" stroke-width="0.5"/>
<line x1="97.89999999999999" y1="373.9666666666667" x2="99.1" y2="373.9666666666667" stroke="#111" stroke-width="0.5"/>
<line x1="97.89999999999999" y1="378.73333333333335" x2="99.1" y2="378.73333333333335" stroke="#111" stroke-width="0.5"/>
<line x1="101.98666666666666" y1="383.5" x2="101.98666666666666" y2="384.7" stroke="#111" stroke-width="0.5"/>
<line x1="104.87333333333333" y1="383.5" x2="104.87333333333333" y2="384.7" stroke="#111" stroke-width="0.5"/>
<line x1="107.75999999999999" y1="383.5" x2="107.75999999999999" y2="384.7" stroke="#111" stroke-width="0.5"/>
<line x1="110.64666666666666" y1="383.5" x2="110.64666666666666" y2="384.7" stroke="#111" stroke-width="0.5"/>
<line x1="113.53333333333333" y1="383.5" x2="113.53333333333333" y2="384.7" stroke="#111" stroke-width="0.5"/>
<line x1="116.42" y1="383.5" x2="116.42" y2="384.7" stroke="#111" stroke-width="0.5"/>
<line x1="119.30666666666667" y1="383.5" x2="119.30666666666667" y2="384.7" stroke="#111" stroke-width="0.5"/>
<line x1="122.19333333333333" y1="383.5" x2="122.19333333333333" y2="384.7" stroke="#111" stroke-width="0.5"/>
<line x1="125.08" y1="383.5" x2="125.08" y2="384.7" stroke="#111" stroke-width="0.5"/>
<line x1="127.96666666666667" y1="383.5" x2="127.96666666666667" y2="384.7" stroke="#111" stroke-width="0.5"/>
<line x1="130.85333333333332" y1="383.5" x2="130.85333333333332" y2="384.7" stroke="#111" stroke-width="0.5"/>
<line x1="133.74" y1="383.5" x2="133.74" y2="384.7" stroke="#111" stroke-width="0.5"/>
<line x1="136.62666666666667" y1="383.5" x2="136.62666666666667" y2="384.7" stroke="#111" stroke-width="0.5"/>
<line x1="139.51333333333332" y1="383.5" x2="139.51333333333332" y2="384.7" stroke="#111" stroke-width="0.5"/>
<line x1="97.6" y1="383.5" x2="99.1" y2="383.5" stroke="#111" stroke-width="0.8"/>
<line x1="109.5" y1="383.5" x2="109.5" y2="385.3" stroke="#111" stroke-width="0.8"/>
<g fill="#666" opacity="0.5"><circle cx="60.7" cy="327.2" r="0.35"/><circle cx="59.8" cy="323.4" r="0.35"/><circle cx="61.5" cy="326.4" r="0.35"/><circle cx="61.7" cy="325.4" r="0.35"/><circle cx="60.3" cy="328.8" r="0.35"/><circle cx="60.9" cy="319.1" r="0.35"/><circle cx="59.9" cy="324.1" r="0.35"/><circle cx="60.6" cy="325.0" r="0.35"/><circle cx="60.8" cy="325.2" r="0.35"/><circle cx="60.6" cy="316.6" r="0.35"/><circle cx="61.4" cy="330.4" r="0.35"/><circle cx="61.4" cy="323.0" r="0.35"/><circle cx="61.4" cy="318.3" r="0.35"/><circle cx="58.1" cy="324.5" r="0.35"/><circle cx="59.5" cy="328.5" r="0.35"/><circle cx="59.2" cy="308.3" r="0.35"/><circle cx="59.3" cy="333.6" r="0.35"/><circle cx="60.3" cy="315.9" r="0.35"/><circle cx="59.7" cy="327.2" r="0.35"/><circle cx="61.5" cy="325.2" r="0.35"/><circle cx="62.9" cy="328.3" r="0.35"/><circle cx="60.8" cy="327.7" r="0.35"/><circle cx="63.2" cy="329.9" r="0.35"/><circle cx="62.3" cy="317.6" r="0.35"/><circle cx="60.6" cy="328.5" r="0.35"/><circle cx="60.4" cy="330.5" r="0.35"/><circle cx="61.7" cy="329.5" r="0.35"/><circle cx="60.5" cy="339.4" r="0.35"/><circle cx="62.6" cy="322.8" r="0.35"/><circle cx="60.9" cy="339.7" r="0.35"/><circle cx="60.3" cy="329.3" r="0.35"/><circle cx="62.2" cy="324.1" r="0.35"/><circle cx="59.1" cy="325.2" r="0.35"/><circle cx="61.3" cy="330.9" r="0.35"/><circle cx="61.9" cy="324.2" r="0.35"/><circle cx="62.0" cy="327.3" r="0.35"/><circle cx="61.1" cy="324.4" r="0.35"/><circle cx="60.4" cy="328.2" r="0.35"/><circle cx="59.3" cy="320.3" r="0.35"/><circle cx="60.8" cy="315.3" r="0.35"/><circle cx="60.2" cy="312.1" r="0.35"/><circle cx="59.8" cy="327.5" r="0.35"/><circle cx="61.6" cy="323.8" r="0.35"/><circle cx="60.5" cy="315.6" r="0.35"/><circle cx="63.4" cy="327.2" r="0.35"/><circle cx="62.4" cy="318.8" r="0.35"/><circle cx="60.5" cy="313.2" r="0.35"/><circle cx="61.9" cy="329.7" r="0.35"/><circle cx="58.1" cy="323.8" r="0.35"/><circle cx="61.7" cy="313.5" r="0.35"/><circle cx="58.2" cy="317.7" r="0.35"/><circle cx="59.9" cy="315.7" r="0.35"/><circle cx="60.8" cy="325.6" r="0.35"/><circle cx="61.7" cy="328.3" r="0.35"/><circle cx="63.0" cy="331.1" r="0.35"/><circle cx="58.9" cy="321.1" r="0.35"/><circle cx="59.3" cy="317.6" r="0.35"/><circle cx="60.7" cy="324.1" r="0.35"/><circle cx="61.5" cy="314.6" r="0.35"/><circle cx="59.0" cy="324.0" r="0.35"/><circle cx="60.5" cy="322.2" r="0.35"/><circle cx="60.7" cy="319.5" r="0.35"/><circle cx="61.8" cy="326.2" r="0.35"/><circle cx="60.7" cy="320.1" r="0.35"/><circle cx="60.5" cy="307.8" r="0.35"/><circle cx="59.4" cy="324.3" r="0.35"/><circle cx="58.6" cy="325.3" r="0.35"/><circle cx="61.0" cy="315.8" r="0.35"/><circle cx="60.4" cy="322.2" r="0.35"/><circle cx="61.5" cy="327.8" r="0.35"/><circle cx="60.7" cy="319.0" r="0.35"/><circle cx="60.6" cy="323.7" r="0.35"/><circle cx="61.9" cy="325.9" r="0.35"/><circle cx="59.8" cy="316.0" r="0.35"/><circle cx="60.3" cy="319.7" r="0.35"/><circle cx="59.2" cy="323.4" r="0.35"/><circle cx="60.1" cy="324.7" r="0.35"/><circle cx="61.6" cy="321.6" r="0.35"/><circle cx="64.1" cy="322.2" r="0.35"/><circle cx="62.4" cy="324.8" r="0.35"/><circle cx="62.4" cy="309.9" r="0.35"/><circle cx="59.7" cy="325.6" r="0.35"/><circle cx="61.7" cy="338.1" r="0.35"/><circle cx="61.3" cy="331.8" r="0.35"/><circle cx="61.9" cy="329.8" r="0.35"/><circle cx="61.5" cy="323.2" r="0.35"/><circle cx="61.5" cy="317.6" r="0.35"/><circle cx="62.5" cy="318.0" r="0.35"/><circle cx="61.2" cy="336.8" r="0.35"/><circle cx="60.5" cy="324.2" r="0.35"/><circle cx="62.5" cy="324.3" r="0.35"/><circle cx="59.6" cy="325.6" r="0.35"/><circle cx="61.6" cy="328.4" r="0.35"/><circle cx="59.7" cy="334.6" r="0.35"/><circle cx="63.2" cy="324.2" r="0.35"/><circle cx="61.2" cy="321.5" r="0.35"/><circle cx="62.8" cy="319.9" r="0.35"/><circle cx="61.8" cy="321.2" r="0.35"/><circle cx="59.8" cy="328.4" r="0.35"/><circle cx="62.7" cy="324.0" r="0.35"/><circle cx="59.8" cy="329.0" r="0.35"/><circle cx="60.7" cy="326.0" r="0.35"/><circle cx="63.0" cy="330.9" r="0.35"/><circle cx="60.1" cy="337.8" r="0.35"/><circle cx="60.8" cy="328.8" r="0.35"/><circle cx="59.9" cy="323.8" r="0.35"/><circle cx="58.3" cy="334.8" r="0.35"/><circle cx="62.8" cy="316.8" r="0.35"/><circle cx="58.6" cy="314.4" r="0.35"/><circle cx="62.5" cy="321.3" r="0.35"/><circle cx="60.7" cy="322.2" r="0.35"/><circle cx="60.6" cy="317.6" r="0.35"/><circle cx="60.8" cy="315.5" r="0.35"/><circle cx="60.7" cy="326.0" r="0.35"/><circle cx="61.5" cy="322.7" r="0.35"/><circle cx="59.5" cy="325.1" r="0.35"/><circle cx="60.1" cy="333.5" r="0.35"/><circle cx="61.9" cy="323.4" r="0.35"/><circle cx="60.1" cy="319.9" r="0.35"/><circle cx="59.5" cy="322.0" r="0.35"/></g>
<ellipse cx="60.80" cy="323.60" rx="1.7600000000000002" ry="10.355000000000006" transform="rotate(0 60.80 323.60)" fill="#aaa" stroke="#777" stroke-width="0.4" opacity="0.6"/>
<ellipse cx="60.80" cy="326.10" rx="1.1199999999999999" ry="5.995000000000004" transform="rotate(0 60.80 326.10)" fill="#888" stroke="#555" stroke-width="0.4" opacity="0.6"/>
<ellipse cx="60.80" cy="327.60" rx="0.6400000000000001" ry="3.270000000000002" transform="rotate(0 60.80 327.60)" fill="none" stroke="#444" stroke-width="0.4" opacity="0.6"/>
<g fill="#777" opacity="0.45"><circle cx="84.0" cy="324.3" r="0.35"/><circle cx="84.8" cy="333.8" r="0.35"/><circle cx="81.3" cy="321.3" r="0.35"/><circle cx="90.9" cy="310.0" r="0.35"/><circle cx="81.8" cy="322.2" r="0.35"/><circle cx="83.6" cy="323.6" r="0.35"/><circle cx="82.5" cy="323.4" r="0.35"/><circle cx="83.3" cy="325.8" r="0.35"/><circle cx="78.0" cy="315.9" r="0.35"/><circle cx="83.2" cy="315.0" r="0.35"/><circle cx="80.3" cy="325.0" r="0.35"/><circle cx="81.4" cy="325.0" r="0.35"/><circle cx="85.3" cy="323.0" r="0.35"/><circle cx="84.6" cy="320.6" r="0.35"/><circle cx="79.3" cy="321.0" r="0.35"/><circle cx="84.5" cy="318.0" r="0.35"/><circle cx="82.9" cy="325.7" r="0.35"/><circle cx="80.8" cy="325.0" r="0.35"/><circle cx="88.3" cy="317.9" r="0.35"/><circle cx="83.6" cy="320.3" r="0.35"/><circle cx="87.5" cy="323.1" r="0.35"/><circle cx="85.7" cy="317.1" r="0.35"/><circle cx="83.2" cy="321.1" r="0.35"/><circle cx="78.3" cy="329.8" r="0.35"/><circle cx="85.7" cy="310.7" r="0.35"/><circle cx="85.3" cy="320.4" r="0.35"/><circle cx="84.4" cy="323.4" r="0.35"/><circle cx="79.1" cy="319.9" r="0.35"/><circle cx="87.3" cy="317.8" r="0.35"/><circle cx="80.4" cy="313.0" r="0.35"/><circle cx="79.8" cy="323.2" r="0.35"/><circle cx="87.9" cy="323.8" r="0.35"/><circle cx="83.9" cy="334.6" r="0.35"/><circle cx="81.8" cy="317.2" r="0.35"/><circle cx="84.7" cy="324.5" r="0.35"/><circle cx="80.4" cy="314.2" r="0.35"/><circle cx="84.0" cy="322.7" r="0.35"/><circle cx="79.6" cy="320.0" r="0.35"/><circle cx="81.7" cy="324.0" r="0.35"/><circle cx="82.9" cy="320.7" r="0.35"/><circle cx="82.2" cy="327.5" r="0.35"/><circle cx="87.0" cy="319.0" r="0.35"/><circle cx="85.5" cy="316.7" r="0.35"/><circle cx="83.4" cy="325.7" r="0.35"/><circle cx="87.4" cy="318.9" r="0.35"/><circle cx="83.0" cy="322.4" r="0.35"/><circle cx="79.1" cy="321.3" r="0.35"/><circle cx="81.3" cy="323.4" r="0.35"/><circle cx="80.1" cy="309.3" r="0.35"/><circle cx="83.3" cy="322.8" r="0.35"/><circle cx="81.7" cy="326.5" r="0.35"/><circle cx="82.4" cy="317.6" r="0.35"/><circle cx="84.5" cy="311.8" r="0.35"/><circle cx="81.3" cy="321.1" r="0.35"/><circle cx="85.5" cy="320.2" r="0.35"/><circle cx="84.1" cy="317.3" r="0.35"/><circle cx="84.0" cy="331.2" r="0.35"/><circle cx="81.3" cy="335.4" r="0.35"/><circle cx="81.4" cy="321.3" r="0.35"/><circle cx="83.7" cy="327.3" r="0.35"/><circle cx="79.8" cy="308.6" r="0.35"/><circle cx="84.9" cy="326.0" r="0.35"/><circle cx="84.9" cy="337.0" r="0.35"/><circle cx="83.8" cy="322.7" r="0.35"/><circle cx="85.8" cy="323.4" r="0.35"/><circle cx="87.8" cy="313.8" r="0.35"/><circle cx="82.2" cy="300.5" r="0.35"/><circle cx="85.4" cy="319.0" r="0.35"/><circle cx="85.8" cy="334.1" r="0.35"/><circle cx="83.2" cy="319.7" r="0.35"/><circle cx="81.8" cy="316.2" r="0.35"/><circle cx="81.5" cy="325.0" r="0.35"/><circle cx="83.3" cy="321.6" r="0.35"/><circle cx="82.7" cy="326.7" r="0.35"/><circle cx="84.6" cy="320.3" r="0.35"/><circle cx="85.0" cy="320.3" r="0.35"/><circle cx="80.0" cy="329.9" r="0.35"/><circle cx="84.5" cy="315.5" r="0.35"/><circle cx="86.2" cy="323.3" r="0.35"/><circle cx="78.9" cy="330.9" r="0.35"/><circle cx="84.1" cy="326.5" r="0.35"/><circle cx="83.7" cy="320.3" r="0.35"/><circle cx="78.9" cy="327.0" r="0.35"/><circle cx="83.3" cy="319.5" r="0.35"/><circle cx="84.2" cy="321.7" r="0.35"/><circle cx="85.1" cy="319.0" r="0.35"/><circle cx="83.1" cy="308.4" r="0.35"/><circle cx="82.0" cy="325.3" r="0.35"/><circle cx="86.9" cy="319.0" r="0.35"/><circle cx="82.9" cy="330.7" r="0.35"/><circle cx="82.3" cy="325.6" r="0.35"/><circle cx="87.8" cy="321.4" r="0.35"/><circle cx="86.6" cy="316.9" r="0.35"/><circle cx="83.8" cy="320.7" r="0.35"/><circle cx="83.5" cy="328.0" r="0.35"/><circle cx="89.8" cy="317.2" r="0.35"/><circle cx="81.6" cy="324.2" r="0.35"/><circle cx="80.3" cy="324.2" r="0.35"/><circle cx="84.8" cy="319.5" r="0.35"/><circle cx="84.7" cy="311.9" r="0.35"/><circle cx="85.3" cy="311.9" r="0.35"/><circle cx="81.3" cy="317.9" r="0.35"/><circle cx="82.1" cy="326.4" r="0.35"/><circle cx="83.4" cy="318.8" r="0.35"/><circle cx="84.7" cy="330.7" r="0.35"/><circle cx="83.2" cy="323.4" r="0.35"/><circle cx="86.6" cy="322.8" r="0.35"/><circle cx="79.7" cy="336.1" r="0.35"/><circle cx="89.3" cy="309.3" r="0.35"/><circle cx="83.1" cy="323.7" r="0.35"/><circle cx="85.9" cy="325.2" r="0.35"/><circle cx="82.4" cy="314.9" r="0.35"/><circle cx="83.5" cy="327.4" r="0.35"/><circle cx="80.2" cy="315.0" r="0.35"/><circle cx="83.1" cy="309.6" r="0.35"/><circle cx="82.5" cy="318.6" r="0.35"/><circle cx="84.4" cy="317.0" r="0.35"/><circle cx="80.8" cy="318.8" r="0.35"/><circle cx="83.1" cy="317.2" r="0.35"/><circle cx="83.2" cy="325.7" r="0.35"/><circle cx="86.5" cy="331.4" r="0.35"/><circle cx="81.0" cy="318.7" r="0.35"/><circle cx="76.3" cy="332.6" r="0.35"/><circle cx="81.2" cy="321.0" r="0.35"/><circle cx="84.6" cy="313.0" r="0.35"/><circle cx="84.5" cy="321.0" r="0.35"/><circle cx="78.2" cy="323.0" r="0.35"/><circle cx="86.5" cy="310.0" r="0.35"/><circle cx="85.4" cy="322.5" r="0.35"/><circle cx="84.5" cy="323.8" r="0.35"/><circle cx="86.8" cy="319.9" r="0.35"/><circle cx="85.6" cy="318.7" r="0.35"/><circle cx="85.2" cy="316.3" r="0.35"/><circle cx="82.9" cy="331.6" r="0.35"/><circle cx="84.4" cy="320.3" r="0.35"/><circle cx="80.0" cy="316.5" r="0.35"/><circle cx="83.7" cy="326.8" r="0.35"/><circle cx="84.4" cy="324.3" r="0.35"/><circle cx="83.1" cy="329.3" r="0.35"/><circle cx="82.1" cy="317.9" r="0.35"/><circle cx="85.7" cy="321.6" r="0.35"/><circle cx="82.4" cy="317.7" r="0.35"/><circle cx="82.5" cy="324.9" r="0.35"/><circle cx="84.2" cy="313.9" r="0.35"/><circle cx="84.4" cy="322.3" r="0.35"/><circle cx="80.4" cy="325.8" r="0.35"/><circle cx="82.4" cy="319.2" r="0.35"/><circle cx="85.4" cy="329.1" r="0.35"/><circle cx="81.3" cy="323.8" r="0.35"/><circle cx="80.8" cy="335.1" r="0.35"/></g>
<ellipse cx="83.20" cy="321.20" rx="4.6" ry="10" transform="rotate(25 83.20 321.20)" fill="#c8c8c8" stroke="#777" stroke-width="0.4" opacity="0.55"/>
<ellipse cx="83.20" cy="321.20" rx="3.6799999999999997" ry="8.5" transform="rotate(25 83.20 321.20)" fill="none" stroke="#555" stroke-width="0.45" opacity="0.8"/>
<ellipse cx="83.60" cy="321.70" rx="2.07" ry="6.0" transform="rotate(25 83.60 321.70)" fill="#eee" stroke="#666" stroke-width="0.45" opacity="0.8"/>
<g>
<g fill="#666" opacity="0.5"><circle cx="108.8" cy="331.0" r="0.35"/><circle cx="108.7" cy="328.9" r="0.35"/><circle cx="110.5" cy="310.0" r="0.35"/><circle cx="108.8" cy="327.1" r="0.35"/><circle cx="109.0" cy="320.5" r="0.35"/><circle cx="110.5" cy="324.7" r="0.35"/><circle cx="108.1" cy="329.1" r="0.35"/><circle cx="108.0" cy="330.8" r="0.35"/><circle cx="108.7" cy="325.1" r="0.35"/><circle cx="109.9" cy="325.0" r="0.35"/><circle cx="108.2" cy="314.8" r="0.35"/><circle cx="109.8" cy="328.5" r="0.35"/><circle cx="108.6" cy="329.1" r="0.35"/><circle cx="109.4" cy="327.9" r="0.35"/><circle cx="107.7" cy="322.6" r="0.35"/><circle cx="109.7" cy="328.4" r="0.35"/><circle cx="109.7" cy="310.5" r="0.35"/><circle cx="109.2" cy="327.1" r="0.35"/><circle cx="110.7" cy="318.9" r="0.35"/><circle cx="108.9" cy="324.5" r="0.35"/><circle cx="109.7" cy="321.8" r="0.35"/><circle cx="109.8" cy="319.9" r="0.35"/><circle cx="109.3" cy="321.3" r="0.35"/><circle cx="109.2" cy="320.4" r="0.35"/><circle cx="108.1" cy="330.4" r="0.35"/><circle cx="109.3" cy="321.2" r="0.35"/><circle cx="109.2" cy="329.9" r="0.35"/><circle cx="108.5" cy="323.7" r="0.35"/><circle cx="109.4" cy="327.3" r="0.35"/><circle cx="108.9" cy="312.5" r="0.35"/><circle cx="109.9" cy="326.1" r="0.35"/><circle cx="109.1" cy="322.7" r="0.35"/><circle cx="109.3" cy="321.9" r="0.35"/><circle cx="108.5" cy="320.1" r="0.35"/><circle cx="108.7" cy="320.9" r="0.35"/><circle cx="108.4" cy="327.9" r="0.35"/><circle cx="108.3" cy="328.0" r="0.35"/><circle cx="108.5" cy="326.3" r="0.35"/><circle cx="110.0" cy="325.4" r="0.35"/><circle cx="108.6" cy="324.6" r="0.35"/><circle cx="109.2" cy="314.6" r="0.35"/><circle cx="108.7" cy="325.2" r="0.35"/><circle cx="108.8" cy="324.7" r="0.35"/><circle cx="109.6" cy="328.6" r="0.35"/><circle cx="109.7" cy="327.6" r="0.35"/><circle cx="108.9" cy="324.2" r="0.35"/><circle cx="108.9" cy="322.5" r="0.35"/><circle cx="109.0" cy="314.6" r="0.35"/><circle cx="108.9" cy="324.2" r="0.35"/><circle cx="108.5" cy="324.2" r="0.35"/><circle cx="109.4" cy="323.4" r="0.35"/><circle cx="110.4" cy="309.7" r="0.35"/><circle cx="109.0" cy="314.1" r="0.35"/><circle cx="109.7" cy="339.2" r="0.35"/><circle cx="107.5" cy="325.0" r="0.35"/><circle cx="109.4" cy="322.6" r="0.35"/><circle cx="109.4" cy="311.7" r="0.35"/><circle cx="109.6" cy="326.4" r="0.35"/><circle cx="109.1" cy="321.0" r="0.35"/><circle cx="109.5" cy="321.6" r="0.35"/><circle cx="109.2" cy="321.4" r="0.35"/><circle cx="107.7" cy="324.1" r="0.35"/><circle cx="109.2" cy="328.5" r="0.35"/><circle cx="108.5" cy="324.1" r="0.35"/><circle cx="109.5" cy="325.1" r="0.35"/><circle cx="109.9" cy="335.5" r="0.35"/><circle cx="108.5" cy="313.5" r="0.35"/><circle cx="109.6" cy="332.9" r="0.35"/><circle cx="109.7" cy="328.9" r="0.35"/><circle cx="108.7" cy="320.3" r="0.35"/><circle cx="109.7" cy="319.2" r="0.35"/><circle cx="108.0" cy="318.7" r="0.35"/><circle cx="110.7" cy="335.1" r="0.35"/><circle cx="108.7" cy="320.2" r="0.35"/><circle cx="109.2" cy="320.1" r="0.35"/><circle cx="109.9" cy="323.9" r="0.35"/><circle cx="108.4" cy="331.6" r="0.35"/><circle cx="108.7" cy="325.5" r="0.35"/><circle cx="109.1" cy="322.5" r="0.35"/><circle cx="109.3" cy="320.4" r="0.35"/><circle cx="107.9" cy="311.9" r="0.35"/><circle cx="108.3" cy="320.0" r="0.35"/><circle cx="109.1" cy="324.6" r="0.35"/><circle cx="109.5" cy="325.0" r="0.35"/><circle cx="108.6" cy="320.3" r="0.35"/><circle cx="107.8" cy="323.4" r="0.35"/><circle cx="109.4" cy="327.3" r="0.35"/><circle cx="109.0" cy="323.3" r="0.35"/><circle cx="109.7" cy="324.4" r="0.35"/><circle cx="109.6" cy="327.6" r="0.35"/><circle cx="109.2" cy="331.6" r="0.35"/><circle cx="108.7" cy="322.3" r="0.35"/><circle cx="108.6" cy="319.8" r="0.35"/><circle cx="110.1" cy="334.2" r="0.35"/><circle cx="109.1" cy="327.5" r="0.35"/><circle cx="109.8" cy="328.8" r="0.35"/><circle cx="109.9" cy="317.2" r="0.35"/><circle cx="108.7" cy="326.8" r="0.35"/><circle cx="110.0" cy="324.9" r="0.35"/><circle cx="108.6" cy="322.3" r="0.35"/><circle cx="108.7" cy="319.5" r="0.35"/><circle cx="110.0" cy="320.8" r="0.35"/><circle cx="109.1" cy="336.4" r="0.35"/><circle cx="109.8" cy="326.2" r="0.35"/><circle cx="108.7" cy="326.6" r="0.35"/><circle cx="110.1" cy="327.8" r="0.35"/><circle cx="109.9" cy="324.9" r="0.35"/><circle cx="109.4" cy="323.2" r="0.35"/><circle cx="109.4" cy="331.6" r="0.35"/><circle cx="108.2" cy="323.9" r="0.35"/><circle cx="109.3" cy="321.1" r="0.35"/><circle cx="108.9" cy="328.7" r="0.35"/><circle cx="110.4" cy="327.8" r="0.35"/><circle cx="109.3" cy="315.6" r="0.35"/><circle cx="110.3" cy="324.7" r="0.35"/><circle cx="109.1" cy="318.0" r="0.35"/><circle cx="109.1" cy="318.2" r="0.35"/><circle cx="109.1" cy="326.9" r="0.35"/><circle cx="109.1" cy="325.9" r="0.35"/><circle cx="108.6" cy="332.3" r="0.35"/></g>
<ellipse cx="109.10" cy="323.80" rx="0.77" ry="9.689999999999989" transform="rotate(0 109.10 323.80)" fill="#aaa" stroke="#777" stroke-width="0.4" opacity="0.95"/>
<ellipse cx="109.10" cy="326.30" rx="0.48999999999999994" ry="5.609999999999994" transform="rotate(0 109.10 326.30)" fill="#888" stroke="#555" stroke-width="0.4" opacity="0.95"/>
<ellipse cx="109.10" cy="327.80" rx="0.27999999999999997" ry="3.0599999999999965" transform="rotate(0 109.10 327.80)" fill="none" stroke="#444" stroke-width="0.4" opacity="0.95"/>
</g>
<g fill="#666" opacity="0.6"><circle cx="129.8" cy="320.1" r="0.35"/><circle cx="130.7" cy="321.8" r="0.35"/><circle cx="129.2" cy="325.3" r="0.35"/><circle cx="131.5" cy="319.3" r="0.35"/><circle cx="130.8" cy="328.0" r="0.35"/><circle cx="132.2" cy="321.2" r="0.35"/><circle cx="131.2" cy="322.8" r="0.35"/><circle cx="130.9" cy="325.7" r="0.35"/><circle cx="130.8" cy="316.9" r="0.35"/><circle cx="131.0" cy="321.0" r="0.35"/><circle cx="132.2" cy="319.9" r="0.35"/><circle cx="131.3" cy="329.3" r="0.35"/><circle cx="129.1" cy="323.2" r="0.35"/><circle cx="128.5" cy="320.6" r="0.35"/><circle cx="127.6" cy="329.8" r="0.35"/><circle cx="129.9" cy="320.0" r="0.35"/><circle cx="128.3" cy="329.4" r="0.35"/><circle cx="129.6" cy="324.6" r="0.35"/><circle cx="131.6" cy="326.4" r="0.35"/><circle cx="134.5" cy="321.0" r="0.35"/><circle cx="131.3" cy="323.6" r="0.35"/><circle cx="134.2" cy="322.5" r="0.35"/><circle cx="130.4" cy="325.7" r="0.35"/><circle cx="131.5" cy="322.8" r="0.35"/><circle cx="130.1" cy="321.1" r="0.35"/><circle cx="130.0" cy="320.6" r="0.35"/><circle cx="133.2" cy="321.6" r="0.35"/><circle cx="128.8" cy="330.9" r="0.35"/><circle cx="132.6" cy="315.6" r="0.35"/><circle cx="134.3" cy="320.7" r="0.35"/><circle cx="134.7" cy="314.2" r="0.35"/><circle cx="132.0" cy="323.2" r="0.35"/><circle cx="131.4" cy="323.4" r="0.35"/><circle cx="132.9" cy="316.3" r="0.35"/><circle cx="128.8" cy="323.0" r="0.35"/></g>
<ellipse cx="131.00" cy="324.00" rx="2" ry="5" transform="rotate(25 131.00 324.00)" fill="#ccc" stroke="#888" stroke-width="0.4" opacity="0.6"/>
<g fill="#666" opacity="0.5"><circle cx="60.3" cy="369.8" r="0.35"/><circle cx="61.6" cy="374.7" r="0.35"/><circle cx="61.1" cy="369.4" r="0.35"/><circle cx="60.5" cy="378.5" r="0.35"/><circle cx="62.2" cy="373.8" r="0.35"/><circle cx="60.6" cy="381.9" r="0.35"/><circle cx="60.2" cy="376.8" r="0.35"/><circle cx="62.8" cy="371.7" r="0.35"/><circle cx="62.3" cy="366.9" r="0.35"/><circle cx="62.6" cy="374.3" r="0.35"/><circle cx="58.8" cy="377.0" r="0.35"/><circle cx="59.8" cy="380.4" r="0.35"/><circle cx="60.1" cy="372.3" r="0.35"/><circle cx="61.5" cy="371.3" r="0.35"/><circle cx="61.5" cy="370.1" r="0.35"/><circle cx="62.1" cy="373.2" r="0.35"/><circle cx="61.4" cy="357.8" r="0.35"/><circle cx="62.8" cy="373.4" r="0.35"/><circle cx="58.5" cy="373.7" r="0.35"/><circle cx="61.8" cy="379.2" r="0.35"/><circle cx="59.5" cy="381.9" r="0.35"/><circle cx="60.9" cy="386.6" r="0.35"/><circle cx="60.9" cy="377.0" r="0.35"/><circle cx="60.6" cy="366.9" r="0.35"/><circle cx="62.7" cy="378.3" r="0.35"/><circle cx="63.3" cy="378.0" r="0.35"/><circle cx="60.3" cy="363.9" r="0.35"/><circle cx="60.2" cy="369.4" r="0.35"/><circle cx="59.9" cy="376.5" r="0.35"/><circle cx="61.6" cy="371.7" r="0.35"/><circle cx="61.3" cy="372.4" r="0.35"/><circle cx="61.4" cy="377.4" r="0.35"/><circle cx="62.5" cy="369.4" r="0.35"/><circle cx="58.9" cy="381.2" r="0.35"/><circle cx="61.3" cy="379.4" r="0.35"/><circle cx="58.7" cy="371.3" r="0.35"/><circle cx="61.1" cy="365.1" r="0.35"/><circle cx="60.4" cy="377.3" r="0.35"/><circle cx="62.7" cy="382.1" r="0.35"/><circle cx="59.9" cy="365.3" r="0.35"/><circle cx="61.8" cy="378.5" r="0.35"/><circle cx="61.4" cy="365.9" r="0.35"/><circle cx="62.2" cy="377.6" r="0.35"/><circle cx="61.9" cy="370.5" r="0.35"/><circle cx="61.5" cy="377.6" r="0.35"/><circle cx="60.3" cy="362.9" r="0.35"/><circle cx="61.6" cy="375.9" r="0.35"/><circle cx="61.1" cy="378.2" r="0.35"/><circle cx="60.3" cy="372.7" r="0.35"/><circle cx="60.7" cy="376.4" r="0.35"/><circle cx="63.4" cy="371.8" r="0.35"/><circle cx="64.1" cy="381.8" r="0.35"/><circle cx="62.2" cy="376.5" r="0.35"/><circle cx="63.6" cy="372.2" r="0.35"/><circle cx="60.9" cy="367.2" r="0.35"/><circle cx="61.8" cy="380.7" r="0.35"/><circle cx="61.9" cy="375.6" r="0.35"/><circle cx="60.8" cy="374.2" r="0.35"/><circle cx="59.0" cy="379.1" r="0.35"/><circle cx="60.5" cy="367.0" r="0.35"/><circle cx="60.0" cy="368.6" r="0.35"/><circle cx="62.3" cy="379.1" r="0.35"/><circle cx="59.1" cy="378.4" r="0.35"/><circle cx="62.4" cy="369.9" r="0.35"/><circle cx="59.0" cy="369.0" r="0.35"/><circle cx="60.2" cy="375.1" r="0.35"/><circle cx="60.6" cy="361.8" r="0.35"/><circle cx="61.4" cy="364.6" r="0.35"/><circle cx="62.4" cy="366.4" r="0.35"/><circle cx="60.1" cy="368.4" r="0.35"/><circle cx="60.3" cy="380.5" r="0.35"/><circle cx="62.3" cy="376.6" r="0.35"/><circle cx="61.6" cy="364.5" r="0.35"/><circle cx="60.4" cy="370.1" r="0.35"/><circle cx="59.7" cy="376.1" r="0.35"/><circle cx="60.0" cy="369.2" r="0.35"/><circle cx="59.6" cy="361.7" r="0.35"/><circle cx="62.0" cy="380.7" r="0.35"/><circle cx="61.4" cy="367.7" r="0.35"/><circle cx="57.2" cy="374.2" r="0.35"/><circle cx="62.9" cy="374.9" r="0.35"/><circle cx="62.4" cy="381.5" r="0.35"/><circle cx="62.7" cy="370.7" r="0.35"/><circle cx="62.6" cy="377.6" r="0.35"/><circle cx="58.9" cy="370.9" r="0.35"/><circle cx="59.0" cy="372.6" r="0.35"/><circle cx="61.9" cy="367.2" r="0.35"/><circle cx="58.1" cy="380.5" r="0.35"/><circle cx="61.6" cy="381.5" r="0.35"/><circle cx="59.2" cy="379.1" r="0.35"/><circle cx="64.1" cy="384.5" r="0.35"/><circle cx="60.8" cy="374.7" r="0.35"/><circle cx="60.9" cy="378.8" r="0.35"/><circle cx="62.6" cy="373.7" r="0.35"/><circle cx="59.1" cy="377.4" r="0.35"/><circle cx="60.4" cy="376.7" r="0.35"/><circle cx="61.5" cy="382.3" r="0.35"/><circle cx="62.7" cy="370.7" r="0.35"/><circle cx="61.6" cy="383.1" r="0.35"/><circle cx="60.3" cy="375.6" r="0.35"/><circle cx="62.8" cy="380.3" r="0.35"/><circle cx="61.8" cy="365.8" r="0.35"/><circle cx="59.3" cy="374.6" r="0.35"/><circle cx="61.7" cy="387.5" r="0.35"/><circle cx="59.9" cy="379.6" r="0.35"/><circle cx="62.2" cy="363.8" r="0.35"/><circle cx="59.9" cy="374.1" r="0.35"/><circle cx="60.4" cy="372.3" r="0.35"/><circle cx="61.8" cy="368.7" r="0.35"/><circle cx="61.8" cy="369.6" r="0.35"/><circle cx="60.3" cy="376.2" r="0.35"/><circle cx="60.3" cy="374.8" r="0.35"/><circle cx="63.4" cy="373.4" r="0.35"/><circle cx="60.9" cy="377.3" r="0.35"/><circle cx="60.6" cy="379.3" r="0.35"/><circle cx="59.3" cy="376.7" r="0.35"/><circle cx="60.4" cy="368.7" r="0.35"/><circle cx="63.6" cy="368.4" r="0.35"/><circle cx="63.6" cy="376.9" r="0.35"/><circle cx="63.2" cy="367.7" r="0.35"/></g>
<ellipse cx="61.10" cy="372.70" rx="1.7600000000000002" ry="9.689999999999989" transform="rotate(0 61.10 372.70)" fill="#aaa" stroke="#777" stroke-width="0.4" opacity="0.5"/>
<ellipse cx="61.10" cy="375.20" rx="1.1199999999999999" ry="5.609999999999994" transform="rotate(0 61.10 375.20)" fill="#888" stroke="#555" stroke-width="0.4" opacity="0.5"/>
<ellipse cx="61.10" cy="376.70" rx="0.6400000000000001" ry="3.0599999999999965" transform="rotate(0 61.10 376.70)" fill="none" stroke="#444" stroke-width="0.4" opacity="0.5"/>
<g fill="#777" opacity="0.45"><circle cx="87.7" cy="378.8" r="0.35"/><circle cx="83.8" cy="369.1" r="0.35"/><circle cx="91.5" cy="371.0" r="0.35"/><circle cx="82.8" cy="366.0" r="0.35"/><circle cx="85.4" cy="371.9" r="0.35"/><circle cx="84.6" cy="380.4" r="0.35"/><circle cx="83.1" cy="372.8" r="0.35"/><circle cx="88.5" cy="363.8" r="0.35"/><circle cx="87.2" cy="381.1" r="0.35"/><circle cx="80.0" cy="363.2" r="0.35"/><circle cx="81.0" cy="358.6" r="0.35"/><circle cx="85.5" cy="358.5" r="0.35"/><circle cx="85.6" cy="378.8" r="0.35"/><circle cx="79.3" cy="368.0" r="0.35"/><circle cx="78.3" cy="374.7" r="0.35"/><circle cx="81.9" cy="368.3" r="0.35"/><circle cx="84.3" cy="373.2" r="0.35"/><circle cx="83.1" cy="370.0" r="0.35"/><circle cx="82.5" cy="370.6" r="0.35"/><circle cx="80.6" cy="370.3" r="0.35"/><circle cx="78.3" cy="366.9" r="0.35"/><circle cx="89.8" cy="370.4" r="0.35"/><circle cx="80.3" cy="371.5" r="0.35"/><circle cx="81.2" cy="359.8" r="0.35"/><circle cx="81.9" cy="374.4" r="0.35"/><circle cx="85.3" cy="369.3" r="0.35"/><circle cx="81.3" cy="363.3" r="0.35"/><circle cx="88.1" cy="371.4" r="0.35"/><circle cx="81.2" cy="357.0" r="0.35"/><circle cx="80.0" cy="385.0" r="0.35"/><circle cx="80.7" cy="369.4" r="0.35"/><circle cx="84.7" cy="368.9" r="0.35"/><circle cx="83.3" cy="361.5" r="0.35"/><circle cx="80.9" cy="380.2" r="0.35"/><circle cx="81.8" cy="375.1" r="0.35"/><circle cx="79.0" cy="368.2" r="0.35"/><circle cx="84.9" cy="376.2" r="0.35"/><circle cx="80.7" cy="373.5" r="0.35"/><circle cx="85.3" cy="365.4" r="0.35"/><circle cx="85.5" cy="364.4" r="0.35"/><circle cx="81.7" cy="369.8" r="0.35"/><circle cx="76.0" cy="369.2" r="0.35"/><circle cx="81.1" cy="360.9" r="0.35"/><circle cx="82.8" cy="374.6" r="0.35"/><circle cx="82.9" cy="377.6" r="0.35"/><circle cx="80.6" cy="361.9" r="0.35"/><circle cx="88.8" cy="372.3" r="0.35"/><circle cx="86.9" cy="364.8" r="0.35"/><circle cx="86.5" cy="371.5" r="0.35"/><circle cx="86.0" cy="370.1" r="0.35"/><circle cx="87.7" cy="365.9" r="0.35"/><circle cx="81.2" cy="360.9" r="0.35"/><circle cx="87.6" cy="365.4" r="0.35"/><circle cx="81.0" cy="364.1" r="0.35"/><circle cx="82.8" cy="362.1" r="0.35"/><circle cx="83.2" cy="366.1" r="0.35"/><circle cx="82.4" cy="364.0" r="0.35"/><circle cx="84.2" cy="367.1" r="0.35"/><circle cx="84.4" cy="371.4" r="0.35"/><circle cx="85.1" cy="356.5" r="0.35"/><circle cx="82.5" cy="365.0" r="0.35"/><circle cx="86.4" cy="360.2" r="0.35"/><circle cx="82.0" cy="368.1" r="0.35"/><circle cx="83.1" cy="376.0" r="0.35"/><circle cx="82.8" cy="375.8" r="0.35"/><circle cx="79.7" cy="358.8" r="0.35"/><circle cx="87.8" cy="372.6" r="0.35"/><circle cx="85.6" cy="370.7" r="0.35"/><circle cx="85.6" cy="362.5" r="0.35"/><circle cx="86.9" cy="366.6" r="0.35"/><circle cx="87.1" cy="370.4" r="0.35"/><circle cx="78.2" cy="362.0" r="0.35"/><circle cx="87.5" cy="369.1" r="0.35"/><circle cx="82.9" cy="371.4" r="0.35"/><circle cx="82.8" cy="366.6" r="0.35"/><circle cx="84.4" cy="370.8" r="0.35"/><circle cx="88.7" cy="370.2" r="0.35"/><circle cx="89.7" cy="380.9" r="0.35"/><circle cx="89.2" cy="376.4" r="0.35"/><circle cx="84.5" cy="370.7" r="0.35"/><circle cx="83.7" cy="365.4" r="0.35"/><circle cx="83.9" cy="366.0" r="0.35"/><circle cx="89.0" cy="373.2" r="0.35"/><circle cx="82.8" cy="358.2" r="0.35"/><circle cx="83.9" cy="367.4" r="0.35"/><circle cx="80.8" cy="362.9" r="0.35"/><circle cx="77.3" cy="373.4" r="0.35"/><circle cx="83.9" cy="385.7" r="0.35"/><circle cx="84.0" cy="369.0" r="0.35"/><circle cx="88.4" cy="370.7" r="0.35"/><circle cx="84.6" cy="367.6" r="0.35"/><circle cx="82.3" cy="379.1" r="0.35"/><circle cx="87.1" cy="380.4" r="0.35"/><circle cx="83.1" cy="370.1" r="0.35"/><circle cx="81.5" cy="375.8" r="0.35"/><circle cx="79.9" cy="373.4" r="0.35"/><circle cx="87.4" cy="378.5" r="0.35"/><circle cx="81.3" cy="376.6" r="0.35"/><circle cx="82.0" cy="365.3" r="0.35"/><circle cx="80.1" cy="377.0" r="0.35"/><circle cx="89.0" cy="366.3" r="0.35"/><circle cx="81.8" cy="367.8" r="0.35"/><circle cx="91.6" cy="376.0" r="0.35"/><circle cx="82.5" cy="358.9" r="0.35"/><circle cx="82.1" cy="377.2" r="0.35"/><circle cx="89.7" cy="368.3" r="0.35"/><circle cx="82.0" cy="366.8" r="0.35"/><circle cx="78.4" cy="375.5" r="0.35"/><circle cx="80.8" cy="376.4" r="0.35"/><circle cx="79.0" cy="362.1" r="0.35"/><circle cx="85.0" cy="365.2" r="0.35"/><circle cx="86.4" cy="370.0" r="0.35"/><circle cx="80.6" cy="373.7" r="0.35"/><circle cx="86.6" cy="358.2" r="0.35"/><circle cx="89.6" cy="372.9" r="0.35"/><circle cx="86.4" cy="358.5" r="0.35"/><circle cx="81.9" cy="367.8" r="0.35"/><circle cx="87.3" cy="361.0" r="0.35"/><circle cx="81.4" cy="357.5" r="0.35"/><circle cx="83.4" cy="372.0" r="0.35"/><circle cx="79.0" cy="366.3" r="0.35"/><circle cx="85.6" cy="379.6" r="0.35"/><circle cx="86.1" cy="368.0" r="0.35"/><circle cx="80.6" cy="364.2" r="0.35"/><circle cx="82.1" cy="370.8" r="0.35"/><circle cx="84.0" cy="380.1" r="0.35"/><circle cx="85.0" cy="363.3" r="0.35"/><circle cx="88.7" cy="375.7" r="0.35"/><circle cx="84.4" cy="365.5" r="0.35"/><circle cx="78.5" cy="363.6" r="0.35"/><circle cx="86.8" cy="365.0" r="0.35"/><circle cx="80.1" cy="371.1" r="0.35"/><circle cx="84.8" cy="373.6" r="0.35"/><circle cx="86.1" cy="378.5" r="0.35"/><circle cx="81.6" cy="375.9" r="0.35"/><circle cx="81.1" cy="374.1" r="0.35"/><circle cx="84.6" cy="371.4" r="0.35"/><circle cx="87.0" cy="369.8" r="0.35"/><circle cx="87.4" cy="375.3" r="0.35"/><circle cx="84.5" cy="366.4" r="0.35"/><circle cx="81.8" cy="366.7" r="0.35"/><circle cx="83.5" cy="369.7" r="0.35"/><circle cx="93.0" cy="373.8" r="0.35"/><circle cx="86.4" cy="364.6" r="0.35"/><circle cx="82.0" cy="367.9" r="0.35"/><circle cx="84.7" cy="363.6" r="0.35"/><circle cx="88.9" cy="366.5" r="0.35"/><circle cx="87.3" cy="355.6" r="0.35"/><circle cx="84.1" cy="371.6" r="0.35"/><circle cx="84.7" cy="373.6" r="0.35"/></g>
<ellipse cx="84.10" cy="369.90" rx="5" ry="10.2" transform="rotate(25 84.10 369.90)" fill="#c8c8c8" stroke="#777" stroke-width="0.4" opacity="0.55"/>
<ellipse cx="84.10" cy="369.90" rx="4.0" ry="8.67" transform="rotate(25 84.10 369.90)" fill="none" stroke="#555" stroke-width="0.45" opacity="0.8"/>
<ellipse cx="84.50" cy="370.40" rx="2.25" ry="6.119999999999999" transform="rotate(25 84.50 370.40)" fill="#eee" stroke="#666" stroke-width="0.45" opacity="0.8"/>
<g fill="#666" opacity="0.5"><circle cx="109.6" cy="373.7" r="0.35"/><circle cx="106.3" cy="368.5" r="0.35"/><circle cx="105.6" cy="376.5" r="0.35"/><circle cx="109.7" cy="371.6" r="0.35"/><circle cx="107.9" cy="369.3" r="0.35"/><circle cx="112.0" cy="383.0" r="0.35"/><circle cx="109.1" cy="380.4" r="0.35"/><circle cx="106.8" cy="361.3" r="0.35"/><circle cx="108.5" cy="367.6" r="0.35"/><circle cx="108.3" cy="373.9" r="0.35"/><circle cx="113.8" cy="368.8" r="0.35"/><circle cx="109.3" cy="374.4" r="0.35"/><circle cx="109.1" cy="378.3" r="0.35"/><circle cx="111.9" cy="365.4" r="0.35"/><circle cx="109.4" cy="371.2" r="0.35"/><circle cx="109.7" cy="363.7" r="0.35"/><circle cx="106.5" cy="359.1" r="0.35"/><circle cx="110.0" cy="373.9" r="0.35"/><circle cx="109.3" cy="358.8" r="0.35"/><circle cx="108.6" cy="368.3" r="0.35"/><circle cx="107.0" cy="367.3" r="0.35"/><circle cx="110.3" cy="376.0" r="0.35"/><circle cx="109.2" cy="375.8" r="0.35"/><circle cx="108.3" cy="373.2" r="0.35"/><circle cx="109.3" cy="376.0" r="0.35"/><circle cx="109.1" cy="371.9" r="0.35"/><circle cx="109.0" cy="368.9" r="0.35"/><circle cx="112.6" cy="375.8" r="0.35"/><circle cx="109.9" cy="386.3" r="0.35"/><circle cx="111.3" cy="363.5" r="0.35"/><circle cx="110.3" cy="377.7" r="0.35"/><circle cx="112.1" cy="380.5" r="0.35"/><circle cx="110.4" cy="365.8" r="0.35"/><circle cx="107.9" cy="374.3" r="0.35"/><circle cx="110.0" cy="366.7" r="0.35"/><circle cx="108.6" cy="370.4" r="0.35"/><circle cx="109.3" cy="374.7" r="0.35"/><circle cx="108.8" cy="365.4" r="0.35"/><circle cx="111.1" cy="382.2" r="0.35"/><circle cx="109.0" cy="378.8" r="0.35"/><circle cx="109.9" cy="376.7" r="0.35"/><circle cx="109.9" cy="368.2" r="0.35"/><circle cx="110.1" cy="378.7" r="0.35"/><circle cx="107.8" cy="384.4" r="0.35"/><circle cx="112.4" cy="383.5" r="0.35"/><circle cx="112.2" cy="377.1" r="0.35"/><circle cx="108.7" cy="369.2" r="0.35"/><circle cx="108.0" cy="373.4" r="0.35"/><circle cx="109.1" cy="376.7" r="0.35"/><circle cx="106.1" cy="386.4" r="0.35"/><circle cx="112.7" cy="372.6" r="0.35"/><circle cx="110.2" cy="375.6" r="0.35"/><circle cx="109.6" cy="371.5" r="0.35"/><circle cx="109.0" cy="367.9" r="0.35"/><circle cx="109.5" cy="372.6" r="0.35"/><circle cx="109.7" cy="367.7" r="0.35"/><circle cx="109.3" cy="373.0" r="0.35"/><circle cx="110.1" cy="366.5" r="0.35"/><circle cx="109.8" cy="378.6" r="0.35"/><circle cx="110.1" cy="370.6" r="0.35"/><circle cx="108.4" cy="371.4" r="0.35"/><circle cx="110.3" cy="381.9" r="0.35"/><circle cx="109.0" cy="368.9" r="0.35"/><circle cx="109.8" cy="374.0" r="0.35"/><circle cx="107.8" cy="368.4" r="0.35"/><circle cx="109.0" cy="376.7" r="0.35"/><circle cx="107.4" cy="366.7" r="0.35"/><circle cx="110.0" cy="365.5" r="0.35"/><circle cx="109.4" cy="374.8" r="0.35"/><circle cx="109.0" cy="366.7" r="0.35"/><circle cx="109.1" cy="370.8" r="0.35"/><circle cx="109.7" cy="367.8" r="0.35"/><circle cx="110.9" cy="362.8" r="0.35"/><circle cx="108.9" cy="372.8" r="0.35"/><circle cx="110.7" cy="369.2" r="0.35"/><circle cx="110.0" cy="369.4" r="0.35"/><circle cx="110.3" cy="383.0" r="0.35"/><circle cx="108.6" cy="375.4" r="0.35"/><circle cx="107.8" cy="378.5" r="0.35"/><circle cx="111.1" cy="373.0" r="0.35"/><circle cx="107.5" cy="375.1" r="0.35"/><circle cx="111.0" cy="379.2" r="0.35"/><circle cx="110.4" cy="361.9" r="0.35"/><circle cx="108.2" cy="381.2" r="0.35"/><circle cx="107.3" cy="379.4" r="0.35"/><circle cx="112.1" cy="377.3" r="0.35"/><circle cx="110.9" cy="370.8" r="0.35"/><circle cx="107.3" cy="372.1" r="0.35"/><circle cx="108.9" cy="372.5" r="0.35"/><circle cx="110.3" cy="371.9" r="0.35"/><circle cx="109.5" cy="375.3" r="0.35"/><circle cx="109.2" cy="383.6" r="0.35"/><circle cx="109.9" cy="373.3" r="0.35"/><circle cx="108.9" cy="369.1" r="0.35"/><circle cx="111.3" cy="373.6" r="0.35"/><circle cx="107.5" cy="369.4" r="0.35"/><circle cx="109.0" cy="370.1" r="0.35"/><circle cx="110.9" cy="365.9" r="0.35"/><circle cx="110.0" cy="373.6" r="0.35"/><circle cx="107.4" cy="373.0" r="0.35"/><circle cx="109.1" cy="375.7" r="0.35"/><circle cx="108.5" cy="374.5" r="0.35"/><circle cx="106.7" cy="366.3" r="0.35"/><circle cx="110.4" cy="378.9" r="0.35"/><circle cx="109.2" cy="369.2" r="0.35"/><circle cx="110.9" cy="360.4" r="0.35"/><circle cx="108.0" cy="376.7" r="0.35"/><circle cx="110.2" cy="366.6" r="0.35"/><circle cx="106.3" cy="381.3" r="0.35"/><circle cx="109.4" cy="367.5" r="0.35"/><circle cx="109.3" cy="378.1" r="0.35"/><circle cx="105.2" cy="379.3" r="0.35"/><circle cx="110.3" cy="360.4" r="0.35"/><circle cx="110.4" cy="362.2" r="0.35"/><circle cx="110.9" cy="375.1" r="0.35"/><circle cx="112.6" cy="369.1" r="0.35"/><circle cx="109.2" cy="378.9" r="0.35"/><circle cx="108.2" cy="368.6" r="0.35"/><circle cx="108.6" cy="372.3" r="0.35"/><circle cx="107.5" cy="375.6" r="0.35"/></g>
<ellipse cx="109.20" cy="372.25" rx="1.87" ry="10.2125" transform="rotate(0 109.20 372.25)" fill="#aaa" stroke="#777" stroke-width="0.4" opacity="0.75"/>
<ellipse cx="109.20" cy="374.75" rx="1.19" ry="5.9125000000000005" transform="rotate(0 109.20 374.75)" fill="#888" stroke="#555" stroke-width="0.4" opacity="0.75"/>
<ellipse cx="109.20" cy="376.25" rx="0.68" ry="3.225" transform="rotate(0 109.20 376.25)" fill="none" stroke="#444" stroke-width="0.4" opacity="0.75"/>
<g fill="#777" opacity="0.45"><circle cx="133.3" cy="368.9" r="0.35"/><circle cx="136.6" cy="366.5" r="0.35"/><circle cx="135.5" cy="365.2" r="0.35"/><circle cx="133.9" cy="356.9" r="0.35"/><circle cx="132.3" cy="367.4" r="0.35"/><circle cx="130.3" cy="364.8" r="0.35"/><circle cx="130.7" cy="364.2" r="0.35"/><circle cx="125.4" cy="364.9" r="0.35"/><circle cx="130.1" cy="365.4" r="0.35"/><circle cx="128.7" cy="367.7" r="0.35"/><circle cx="134.0" cy="367.0" r="0.35"/><circle cx="130.3" cy="376.6" r="0.35"/><circle cx="134.5" cy="374.0" r="0.35"/><circle cx="135.0" cy="366.5" r="0.35"/><circle cx="131.3" cy="375.2" r="0.35"/><circle cx="130.1" cy="367.8" r="0.35"/><circle cx="132.8" cy="370.7" r="0.35"/><circle cx="130.9" cy="374.4" r="0.35"/><circle cx="131.2" cy="372.9" r="0.35"/><circle cx="134.8" cy="372.5" r="0.35"/><circle cx="133.8" cy="361.5" r="0.35"/><circle cx="127.9" cy="364.8" r="0.35"/><circle cx="133.1" cy="377.5" r="0.35"/><circle cx="128.2" cy="370.3" r="0.35"/><circle cx="129.2" cy="364.1" r="0.35"/><circle cx="130.9" cy="372.7" r="0.35"/><circle cx="132.3" cy="375.6" r="0.35"/><circle cx="128.9" cy="373.8" r="0.35"/><circle cx="134.4" cy="368.9" r="0.35"/><circle cx="133.1" cy="365.1" r="0.35"/><circle cx="128.6" cy="366.1" r="0.35"/><circle cx="129.8" cy="385.8" r="0.35"/><circle cx="130.3" cy="378.4" r="0.35"/><circle cx="132.3" cy="370.4" r="0.35"/><circle cx="133.8" cy="363.8" r="0.35"/><circle cx="134.3" cy="370.8" r="0.35"/><circle cx="127.3" cy="372.1" r="0.35"/><circle cx="133.3" cy="371.2" r="0.35"/><circle cx="136.3" cy="366.0" r="0.35"/><circle cx="133.2" cy="373.0" r="0.35"/><circle cx="129.1" cy="375.7" r="0.35"/><circle cx="127.5" cy="360.7" r="0.35"/><circle cx="133.2" cy="362.0" r="0.35"/><circle cx="131.4" cy="358.6" r="0.35"/><circle cx="131.9" cy="361.7" r="0.35"/><circle cx="132.7" cy="359.3" r="0.35"/><circle cx="133.0" cy="366.9" r="0.35"/><circle cx="131.9" cy="368.1" r="0.35"/><circle cx="132.1" cy="360.6" r="0.35"/><circle cx="124.3" cy="368.7" r="0.35"/><circle cx="129.0" cy="365.8" r="0.35"/><circle cx="132.9" cy="356.6" r="0.35"/><circle cx="129.5" cy="364.8" r="0.35"/><circle cx="128.7" cy="370.5" r="0.35"/><circle cx="131.3" cy="363.6" r="0.35"/><circle cx="128.9" cy="373.3" r="0.35"/><circle cx="129.8" cy="372.0" r="0.35"/><circle cx="133.0" cy="357.1" r="0.35"/><circle cx="128.6" cy="368.5" r="0.35"/><circle cx="132.7" cy="373.2" r="0.35"/><circle cx="134.0" cy="374.7" r="0.35"/><circle cx="130.6" cy="367.2" r="0.35"/><circle cx="133.9" cy="365.9" r="0.35"/><circle cx="134.7" cy="359.0" r="0.35"/><circle cx="133.6" cy="367.5" r="0.35"/><circle cx="126.0" cy="374.4" r="0.35"/><circle cx="132.6" cy="368.6" r="0.35"/><circle cx="128.6" cy="365.7" r="0.35"/><circle cx="136.1" cy="363.5" r="0.35"/><circle cx="121.7" cy="363.4" r="0.35"/><circle cx="128.2" cy="367.7" r="0.35"/><circle cx="130.6" cy="363.0" r="0.35"/><circle cx="129.3" cy="374.8" r="0.35"/><circle cx="127.5" cy="380.2" r="0.35"/><circle cx="130.1" cy="361.9" r="0.35"/><circle cx="134.0" cy="371.9" r="0.35"/><circle cx="128.7" cy="373.0" r="0.35"/><circle cx="126.4" cy="363.0" r="0.35"/><circle cx="134.9" cy="367.0" r="0.35"/><circle cx="128.0" cy="371.6" r="0.35"/><circle cx="134.3" cy="368.4" r="0.35"/><circle cx="126.5" cy="366.4" r="0.35"/><circle cx="132.9" cy="373.1" r="0.35"/><circle cx="137.0" cy="367.0" r="0.35"/><circle cx="130.3" cy="368.3" r="0.35"/><circle cx="135.2" cy="362.9" r="0.35"/><circle cx="135.5" cy="352.0" r="0.35"/><circle cx="134.0" cy="364.4" r="0.35"/><circle cx="133.0" cy="372.6" r="0.35"/><circle cx="128.3" cy="368.0" r="0.35"/><circle cx="132.4" cy="372.0" r="0.35"/><circle cx="129.0" cy="362.6" r="0.35"/><circle cx="126.2" cy="383.7" r="0.35"/><circle cx="131.1" cy="367.2" r="0.35"/><circle cx="127.4" cy="374.1" r="0.35"/><circle cx="130.2" cy="377.1" r="0.35"/><circle cx="134.2" cy="368.6" r="0.35"/><circle cx="133.8" cy="361.8" r="0.35"/><circle cx="130.8" cy="365.0" r="0.35"/><circle cx="128.0" cy="368.6" r="0.35"/><circle cx="131.3" cy="377.1" r="0.35"/><circle cx="122.0" cy="364.5" r="0.35"/><circle cx="129.1" cy="365.7" r="0.35"/><circle cx="132.9" cy="370.9" r="0.35"/><circle cx="131.8" cy="365.7" r="0.35"/><circle cx="133.1" cy="370.7" r="0.35"/><circle cx="126.4" cy="366.9" r="0.35"/><circle cx="127.7" cy="361.4" r="0.35"/><circle cx="132.1" cy="368.9" r="0.35"/><circle cx="132.0" cy="363.2" r="0.35"/><circle cx="131.1" cy="363.0" r="0.35"/><circle cx="132.8" cy="372.6" r="0.35"/><circle cx="136.8" cy="376.1" r="0.35"/><circle cx="129.4" cy="365.8" r="0.35"/><circle cx="129.0" cy="370.3" r="0.35"/><circle cx="137.4" cy="372.8" r="0.35"/><circle cx="125.4" cy="361.0" r="0.35"/><circle cx="128.0" cy="371.6" r="0.35"/><circle cx="131.7" cy="370.3" r="0.35"/><circle cx="136.8" cy="363.5" r="0.35"/><circle cx="129.3" cy="380.3" r="0.35"/><circle cx="132.7" cy="363.8" r="0.35"/><circle cx="125.9" cy="359.4" r="0.35"/><circle cx="124.7" cy="368.9" r="0.35"/><circle cx="131.8" cy="374.5" r="0.35"/><circle cx="131.3" cy="364.3" r="0.35"/><circle cx="129.6" cy="379.9" r="0.35"/><circle cx="126.6" cy="369.5" r="0.35"/><circle cx="131.8" cy="372.2" r="0.35"/><circle cx="130.5" cy="371.5" r="0.35"/><circle cx="134.0" cy="367.6" r="0.35"/><circle cx="130.4" cy="367.4" r="0.35"/><circle cx="128.9" cy="367.3" r="0.35"/><circle cx="130.8" cy="369.8" r="0.35"/><circle cx="135.5" cy="376.3" r="0.35"/><circle cx="130.4" cy="372.1" r="0.35"/><circle cx="132.5" cy="373.1" r="0.35"/><circle cx="131.8" cy="370.1" r="0.35"/><circle cx="130.3" cy="363.8" r="0.35"/><circle cx="134.2" cy="376.3" r="0.35"/><circle cx="133.6" cy="371.1" r="0.35"/><circle cx="132.5" cy="365.8" r="0.35"/><circle cx="126.6" cy="372.5" r="0.35"/><circle cx="132.3" cy="365.2" r="0.35"/><circle cx="128.9" cy="376.2" r="0.35"/><circle cx="126.5" cy="379.1" r="0.35"/><circle cx="133.5" cy="382.7" r="0.35"/><circle cx="129.6" cy="368.4" r="0.35"/><circle cx="130.2" cy="369.4" r="0.35"/><circle cx="131.1" cy="364.0" r="0.35"/></g>
<ellipse cx="131.70" cy="368.50" rx="4.8" ry="10" transform="rotate(25 131.70 368.50)" fill="#c8c8c8" stroke="#777" stroke-width="0.4" opacity="0.55"/>
<ellipse cx="131.70" cy="368.50" rx="3.84" ry="8.5" transform="rotate(25 131.70 368.50)" fill="none" stroke="#555" stroke-width="0.45" opacity="0.8"/>
<ellipse cx="132.10" cy="369.00" rx="2.16" ry="6.0" transform="rotate(25 132.10 369.00)" fill="#eee" stroke="#666" stroke-width="0.45" opacity="0.8"/>
<rect x="76.4" y="306.4" width="14.8" height="25.9" fill="none" stroke="#222" stroke-width="1"/>
<rect x="76.4" y="354.6" width="15.2" height="26.8" fill="none" stroke="#222" stroke-width="1"/>
<rect x="124.5" y="306.2" width="15.1" height="26.1" fill="none" stroke="#e03a3e" stroke-width="1"/>
<rect x="124.5" y="354.4" width="15.1" height="26.9" fill="none" stroke="#4a5fb0" stroke-width="1"/>
<text x="78.9" y="301.3" font-size="7.5" text-anchor="middle" fill="#111" textLength="19.9" lengthAdjust="spacingAndGlyphs" stroke="#111" stroke-width="0.06">50.7%</text>
<text x="139.8" y="301.2" font-size="7.5" text-anchor="end" fill="#111" textLength="19.5" lengthAdjust="spacingAndGlyphs" stroke="#111" stroke-width="0.06">3.49%</text>
<text x="79" y="350.4" font-size="7.5" text-anchor="middle" fill="#111" textLength="20" lengthAdjust="spacingAndGlyphs" stroke="#111" stroke-width="0.06">56.6%</text>
<text x="139.8" y="350.2" font-size="7.5" text-anchor="end" fill="#111" textLength="19.8" lengthAdjust="spacingAndGlyphs" stroke="#111" stroke-width="0.06">52.2%</text>
<text x="47.3" y="304.20000000000005" font-size="6" text-anchor="end" fill="#111" stroke="#111" stroke-width="0.06">200K</text>
<text x="47.3" y="320.40000000000003" font-size="6" text-anchor="end" fill="#111" stroke="#111" stroke-width="0.06">100K</text>
<text x="47.3" y="336.3" font-size="6" text-anchor="end" fill="#111" stroke="#111" stroke-width="0.06">0</text>
<text x="47.3" y="353.20000000000005" font-size="6" text-anchor="end" fill="#111" stroke="#111" stroke-width="0.06">200K</text>
<text x="47.3" y="369.40000000000003" font-size="6" text-anchor="end" fill="#111" stroke="#111" stroke-width="0.06">100K</text>
<text x="47.3" y="384.5" font-size="6" text-anchor="end" fill="#111" stroke="#111" stroke-width="0.06">0</text>
<text x="61.2" y="392.7" font-size="6" text-anchor="middle" fill="#111" stroke="#111" stroke-width="0.06">0</text>
<text x="79.9" y="392.7" font-size="6" text-anchor="middle" fill="#111" stroke="#111" stroke-width="0.06">10<tspan dy="-2.5" font-size="4.5">4</tspan></text>
<text x="92.3" y="392.7" font-size="6" text-anchor="middle" fill="#111" stroke="#111" stroke-width="0.06">10<tspan dy="-2.5" font-size="4.5">5</tspan></text>
<text x="109.2" y="392.7" font-size="6" text-anchor="middle" fill="#111" stroke="#111" stroke-width="0.06">0</text>
<text x="127.9" y="392.7" font-size="6" text-anchor="middle" fill="#111" stroke="#111" stroke-width="0.06">10<tspan dy="-2.5" font-size="4.5">4</tspan></text>
<text x="140.3" y="392.7" font-size="6" text-anchor="middle" fill="#111" stroke="#111" stroke-width="0.06">10<tspan dy="-2.5" font-size="4.5">5</tspan></text>
<line x1="23.5" y1="314" x2="23.5" y2="402.7" stroke="#111" stroke-width="0.9"/>
<line x1="23.5" y1="402.5" x2="101" y2="402.5" stroke="#111" stroke-width="0.9"/>
<polygon points="23.5,311.3 20.9,315.6 26.1,315.6" stroke="none" stroke-width="1" fill="#111"/>
<polygon points="104,402.7 99.8,400.1 99.8,405.3" stroke="none" stroke-width="1" fill="#111"/>
<text x="108.5" y="405.6" font-size="8" text-anchor="start" fill="#111" stroke="#111" stroke-width="0.06">EGFP (tumor)</text>
<text x="26.5" y="295.5" font-size="8" text-anchor="middle" fill="#111" transform="rotate(-90 26.5 295.5)" stroke="#111" stroke-width="0.06">SSC-H</text>
<text x="18" y="313.6" font-size="8" text-anchor="middle" fill="#111" transform="rotate(-90 18 313.6)" stroke="#111" stroke-width="0.06">WT</text>
<text x="18" y="361.5" font-size="8" text-anchor="middle" fill="#111" font-style="italic" transform="rotate(-90 18 361.5)" stroke="#111" stroke-width="0.06">Il12p35<tspan dy="-3" font-size="5.5">–/–</tspan></text>
<line x1="193.5" y1="290" x2="193.5" y2="369.5" stroke="#111" stroke-width="1.15"/>
<line x1="190.3" y1="293.5" x2="193.8" y2="293.5" stroke="#111" stroke-width="1.1"/>
<text x="188.20000000000002" y="296.74" font-size="8.5" text-anchor="end" fill="#111" stroke="#111" stroke-width="0.06">10<tspan dy="-3" font-size="5.5">7</tspan></text>
<line x1="190.3" y1="319.5" x2="193.8" y2="319.5" stroke="#111" stroke-width="1.1"/>
<text x="188.20000000000002" y="322.14" font-size="8.5" text-anchor="end" fill="#111" stroke="#111" stroke-width="0.06">10<tspan dy="-3" font-size="5.5">6</tspan></text>
<line x1="190.3" y1="344.5" x2="193.8" y2="344.5" stroke="#111" stroke-width="1.1"/>
<text x="188.20000000000002" y="347.04" font-size="8.5" text-anchor="end" fill="#111" stroke="#111" stroke-width="0.06">10<tspan dy="-3" font-size="5.5">5</tspan></text>
<line x1="190.3" y1="369.5" x2="193.8" y2="369.5" stroke="#111" stroke-width="1.1"/>
<text x="188.20000000000002" y="372.04" font-size="8.5" text-anchor="end" fill="#111" stroke="#111" stroke-width="0.06">10<tspan dy="-3" font-size="5.5">4</tspan></text>
<line x1="193.8" y1="369.5" x2="256.9" y2="369.5" stroke="#111" stroke-width="1.15"/>
<line x1="203.5" y1="369" x2="203.5" y2="371.5" stroke="#111" stroke-width="1.1"/>
<line x1="217.5" y1="369" x2="217.5" y2="371.5" stroke="#111" stroke-width="1.1"/>
<line x1="232.5" y1="369" x2="232.5" y2="371.5" stroke="#111" stroke-width="1.1"/>
<line x1="246.5" y1="369" x2="246.5" y2="371.5" stroke="#111" stroke-width="1.1"/>
<path d="M202.9,303.6 L199.4,304.5 L198.2,305.7 L198.4,307.5 L199.9,309.5 L201.6,311.5 L202.0,313.0 L201.6,315.0 L200.9,317.4 L201.4,319.5 L202.9,321.6 L203.9,321.6 L205.4,319.5 L205.9,317.4 L205.2,315.0 L204.8,313.0 L205.2,311.5 L206.9,309.5 L208.4,307.5 L208.6,305.7 L207.4,304.5 L203.9,303.6 Z" fill="#e36d82" stroke="#c4162f" stroke-width="0.8" fill-opacity="0.6"/>
<path d="M217.2,318.4 L216.2,319.2 L216.2,320.5 L216.7,322.0 L215.9,324.0 L215.2,326.4 L214.2,329.5 L212.9,333.3 L213.9,335.5 L215.7,336.8 L216.9,338.5 L217.0,345.0 L217.0,352.0 L216.4,354.3 L216.2,355.8 L217.3,357.3 L218.1,357.3 L219.2,355.8 L219.0,354.3 L218.4,352.0 L218.4,345.0 L218.5,338.5 L219.7,336.8 L221.5,335.5 L222.5,333.3 L221.2,329.5 L220.2,326.4 L219.5,324.0 L218.7,322.0 L219.2,320.5 L219.2,319.2 L218.2,318.4 Z" fill="#d9566f" stroke="#c4162f" stroke-width="0.8" fill-opacity="0.85"/>
<path d="M231.6,305.5 L227.6,306.0 L227.6,307.5 L228.5,310.0 L229.6,314.9 L230.3,320.0 L230.9,324.9 L231.2,330.0 L231.3,334.8 L231.3,340.0 L230.9,342.5 L230.8,344.3 L231.2,346.5 L231.8,347.8 L232.4,347.8 L233.0,346.5 L233.4,344.3 L233.3,342.5 L232.9,340.0 L232.9,334.8 L233.0,330.0 L233.3,324.9 L233.9,320.0 L234.6,314.9 L235.7,310.0 L236.6,307.5 L236.6,306.0 L232.6,305.5 Z" fill="#a9c6e6" stroke="#0b4f9a" stroke-width="0.8" fill-opacity="0.9"/>
<path d="M246.3,306.2 L245.4,307.0 L245.2,308.5 L244.0,310.5 L242.8,312.5 L242.2,314.9 L243.0,316.5 L244.8,318.5 L245.8,319.9 L246.0,321.5 L245.5,322.8 L246.4,323.9 L247.2,323.9 L248.1,322.8 L247.6,321.5 L247.8,319.9 L248.8,318.5 L250.6,316.5 L251.4,314.9 L250.8,312.5 L249.6,310.5 L248.4,308.5 L248.2,307.0 L247.3,306.2 Z" fill="#4f84bd" stroke="#0b4f9a" stroke-width="0.8" fill-opacity="0.9"/>
<circle cx="203.4" cy="304.8" r="1" fill="#b00e2a"/>
<circle cx="201.2" cy="306" r="1" fill="#b00e2a"/>
<circle cx="205.6" cy="306" r="1" fill="#b00e2a"/>
<circle cx="203.4" cy="312" r="1" fill="#b00e2a"/>
<circle cx="203.4" cy="316" r="1" fill="#b00e2a"/>
<circle cx="203.4" cy="320.5" r="1" fill="#b00e2a"/>
<circle cx="217.7" cy="320" r="0.9" fill="#fbe3e7"/>
<circle cx="216.3" cy="326.5" r="0.9" fill="#fbe3e7"/>
<circle cx="219.1" cy="326.5" r="0.9" fill="#fbe3e7"/>
<circle cx="217.7" cy="330" r="0.9" fill="#fbe3e7"/>
<circle cx="215.8" cy="334" r="0.9" fill="#fbe3e7"/>
<circle cx="219.6" cy="334" r="0.9" fill="#fbe3e7"/>
<circle cx="217.7" cy="336" r="0.9" fill="#fbe3e7"/>
<circle cx="217.7" cy="355.8" r="1.1" fill="#e0607a"/>
<circle cx="229.5" cy="306.3" r="0.9" fill="#1f5c9e"/>
<circle cx="232.1" cy="305.9" r="0.9" fill="#1f5c9e"/>
<circle cx="234.7" cy="306.3" r="0.9" fill="#1f5c9e"/>
<circle cx="232.1" cy="318" r="0.9" fill="#1f5c9e"/>
<circle cx="232.1" cy="324.2" r="0.9" fill="#1f5c9e"/>
<circle cx="232.1" cy="347" r="0.9" fill="#1f5c9e"/>
<circle cx="246.8" cy="307.5" r="0.9" fill="#eaf1f9"/>
<circle cx="244.5" cy="312.5" r="0.9" fill="#eaf1f9"/>
<circle cx="249.1" cy="312.5" r="0.9" fill="#eaf1f9"/>
<circle cx="243.5" cy="315" r="0.9" fill="#eaf1f9"/>
<circle cx="246.8" cy="315" r="0.9" fill="#eaf1f9"/>
<circle cx="250.1" cy="315" r="0.9" fill="#eaf1f9"/>
<circle cx="246.8" cy="322.8" r="0.9" fill="#eaf1f9"/>
<line x1="198.9" y1="308.5" x2="207.9" y2="308.5" stroke="#111" stroke-width="1.2"/>
<line x1="213.39999999999998" y1="332.5" x2="222.0" y2="332.5" stroke="#111" stroke-width="1.2"/>
<line x1="227.79999999999998" y1="307.5" x2="236.4" y2="307.5" stroke="#111" stroke-width="1.2"/>
<line x1="242.5" y1="314.5" x2="251.10000000000002" y2="314.5" stroke="#111" stroke-width="1.2"/>
<polyline points="203.5,300.5 203.5,296.5 218.5,296.5 218.5,313.5" stroke="#111" stroke-width="0.9" fill="none"/>
<circle cx="208.75" cy="293.8" r="1.05" fill="#1a1a1a"/>
<circle cx="211.85" cy="293.8" r="1.05" fill="#1a1a1a"/>
<text x="193.8" y="378.5" font-size="8" text-anchor="end" fill="#111" stroke="#111" stroke-width="0.06">BsAb:</text>
<line x1="201.5" y1="375.6" x2="205.3" y2="375.6" stroke="#111" stroke-width="0.9"/>
<text x="217.5" y="378.5" font-size="8" text-anchor="middle" fill="#111" stroke="#111" stroke-width="0.06">+</text>
<line x1="230.4" y1="375.6" x2="234.20000000000002" y2="375.6" stroke="#111" stroke-width="0.9"/>
<text x="246.3" y="378.5" font-size="8" text-anchor="middle" fill="#111" stroke="#111" stroke-width="0.06">+</text>
<line x1="198.7" y1="381.5" x2="220.3" y2="381.5" stroke="#444" stroke-width="0.9"/>
<line x1="229.1" y1="381.5" x2="250.7" y2="381.5" stroke="#444" stroke-width="0.9"/>
<text x="208.8" y="389.4" font-size="8.7" text-anchor="middle" fill="#111" stroke="#111" stroke-width="0.06">WT</text>
<text x="223" y="389.4" font-size="8.6" text-anchor="start" fill="#111" textLength="34" lengthAdjust="spacingAndGlyphs" font-style="italic" stroke="#111" stroke-width="0.06">Il12p35<tspan dy="-3" font-size="5.5">–/–</tspan></text>
<text x="171.9" y="329.6" font-size="9" text-anchor="middle" fill="#111" textLength="55.8" lengthAdjust="spacingAndGlyphs" font-weight="bold" transform="rotate(-90 171.9 329.6)">No. of BM MM cells</text>
<text x="274" y="276.8" font-size="11.3" text-anchor="start" fill="#000" font-weight="bold">G</text>
<text x="365.5" y="282.3" font-size="8.6" text-anchor="middle" fill="#111" textLength="37.6" lengthAdjust="spacingAndGlyphs" stroke="#111" stroke-width="0.06">DC<tspan font-size="7.6"> transfer</tspan></text>
<line x1="311.3" y1="285.5" x2="418.5" y2="285.5" stroke="#333" stroke-width="0.9"/>
<text x="336.8" y="293.9" font-size="8" text-anchor="middle" fill="#111" stroke="#111" stroke-width="0.06">(–)</text>
<text x="393.2" y="293.9" font-size="8" text-anchor="middle" fill="#111" stroke="#111" stroke-width="0.06">(+)</text>
<defs>
<radialGradient id="hot" cx="0.5" cy="0.5" r="0.5">
<stop offset="0" stop-color="#e8101a"/><stop offset="0.2" stop-color="#f05a18"/><stop offset="0.36" stop-color="#f0d020"/>
<stop offset="0.56" stop-color="#48c050"/><stop offset="0.76" stop-color="#28a8e0"/><stop offset="0.92" stop-color="#2a60c8"/><stop offset="1" stop-color="#2a4db5" stop-opacity="0"/>
</radialGradient>
<filter id="blur1" x="-20%" y="-20%" width="140%" height="140%"><feGaussianBlur stdDeviation="0.6"/></filter>
<linearGradient id="cbar" x1="0" y1="1" x2="0" y2="0">
<stop offset="0" stop-color="#d01010"/><stop offset="0.12" stop-color="#f06010"/><stop offset="0.25" stop-color="#f0e020"/>
<stop offset="0.45" stop-color="#40c040"/><stop offset="0.65" stop-color="#30b0e0"/><stop offset="0.85" stop-color="#3060d0"/><stop offset="1" stop-color="#283890"/>
</linearGradient>
</defs>
<g fill="#000" opacity="0.6"><circle cx="337.6" cy="334.7" r="0.4"/><circle cx="324.9" cy="340.3" r="0.4"/><circle cx="324.7" cy="336.2" r="0.4"/><circle cx="331.8" cy="336.5" r="0.4"/><circle cx="319.0" cy="337.6" r="0.4"/><circle cx="327.2" cy="345.2" r="0.4"/><circle cx="320.2" cy="342.1" r="0.4"/><circle cx="322.7" cy="336.5" r="0.4"/><circle cx="326.4" cy="339.1" r="0.4"/><circle cx="335.9" cy="345.3" r="0.4"/><circle cx="323.9" cy="343.6" r="0.4"/><circle cx="337.0" cy="341.4" r="0.4"/><circle cx="322.9" cy="341.8" r="0.4"/><circle cx="328.1" cy="339.5" r="0.4"/><circle cx="326.8" cy="340.8" r="0.4"/><circle cx="337.9" cy="342.8" r="0.4"/><circle cx="327.4" cy="342.2" r="0.4"/><circle cx="340.6" cy="334.1" r="0.4"/><circle cx="340.8" cy="332.4" r="0.4"/><circle cx="333.3" cy="340.5" r="0.4"/><circle cx="340.9" cy="339.2" r="0.4"/><circle cx="325.2" cy="334.7" r="0.4"/><circle cx="319.0" cy="341.2" r="0.4"/><circle cx="327.1" cy="335.0" r="0.4"/><circle cx="333.3" cy="334.8" r="0.4"/><circle cx="325.5" cy="336.1" r="0.4"/><circle cx="342.2" cy="344.1" r="0.4"/><circle cx="327.7" cy="331.4" r="0.4"/><circle cx="331.2" cy="338.3" r="0.4"/><circle cx="331.8" cy="340.4" r="0.4"/><circle cx="326.4" cy="341.9" r="0.4"/><circle cx="335.7" cy="338.9" r="0.4"/><circle cx="325.7" cy="336.0" r="0.4"/><circle cx="334.5" cy="333.4" r="0.4"/><circle cx="327.7" cy="334.9" r="0.4"/><circle cx="317.9" cy="340.5" r="0.4"/><circle cx="328.8" cy="338.2" r="0.4"/><circle cx="336.0" cy="331.7" r="0.4"/><circle cx="328.5" cy="339.2" r="0.4"/><circle cx="335.7" cy="333.4" r="0.4"/><circle cx="334.7" cy="338.9" r="0.4"/><circle cx="339.8" cy="342.8" r="0.4"/><circle cx="333.4" cy="347.0" r="0.4"/><circle cx="329.0" cy="336.2" r="0.4"/><circle cx="326.3" cy="334.1" r="0.4"/><circle cx="328.8" cy="330.1" r="0.4"/><circle cx="328.3" cy="339.8" r="0.4"/><circle cx="336.9" cy="336.5" r="0.4"/><circle cx="340.1" cy="335.3" r="0.4"/><circle cx="327.9" cy="330.1" r="0.4"/><circle cx="322.9" cy="334.7" r="0.4"/><circle cx="340.7" cy="340.2" r="0.4"/><circle cx="320.4" cy="340.2" r="0.4"/><circle cx="332.8" cy="337.0" r="0.4"/><circle cx="329.2" cy="336.7" r="0.4"/><circle cx="324.8" cy="330.7" r="0.4"/><circle cx="328.3" cy="343.3" r="0.4"/><circle cx="340.2" cy="336.9" r="0.4"/><circle cx="323.2" cy="337.1" r="0.4"/><circle cx="336.0" cy="339.4" r="0.4"/><circle cx="324.4" cy="339.5" r="0.4"/><circle cx="327.4" cy="340.1" r="0.4"/><circle cx="325.8" cy="332.0" r="0.4"/><circle cx="329.5" cy="341.1" r="0.4"/><circle cx="320.4" cy="337.6" r="0.4"/><circle cx="335.8" cy="336.5" r="0.4"/><circle cx="323.9" cy="346.3" r="0.4"/><circle cx="335.5" cy="342.2" r="0.4"/><circle cx="321.6" cy="344.7" r="0.4"/><circle cx="316.1" cy="335.9" r="0.4"/><circle cx="334.8" cy="343.4" r="0.4"/><circle cx="321.8" cy="335.3" r="0.4"/><circle cx="330.5" cy="330.1" r="0.4"/><circle cx="334.0" cy="340.3" r="0.4"/><circle cx="325.5" cy="340.2" r="0.4"/><circle cx="335.0" cy="339.3" r="0.4"/><circle cx="333.1" cy="344.2" r="0.4"/><circle cx="325.3" cy="338.7" r="0.4"/><circle cx="324.9" cy="342.2" r="0.4"/><circle cx="325.8" cy="339.9" r="0.4"/><circle cx="330.1" cy="338.3" r="0.4"/><circle cx="342.3" cy="337.7" r="0.4"/><circle cx="340.0" cy="341.4" r="0.4"/><circle cx="339.2" cy="337.3" r="0.4"/><circle cx="336.2" cy="341.1" r="0.4"/><circle cx="324.2" cy="339.1" r="0.4"/><circle cx="328.0" cy="337.9" r="0.4"/><circle cx="339.1" cy="335.1" r="0.4"/><circle cx="316.0" cy="330.9" r="0.4"/><circle cx="325.5" cy="335.4" r="0.4"/><circle cx="329.1" cy="340.3" r="0.4"/><circle cx="342.6" cy="339.3" r="0.4"/><circle cx="332.6" cy="335.0" r="0.4"/><circle cx="333.5" cy="343.5" r="0.4"/><circle cx="339.3" cy="330.1" r="0.4"/><circle cx="335.9" cy="344.4" r="0.4"/><circle cx="335.4" cy="331.9" r="0.4"/><circle cx="326.6" cy="340.4" r="0.4"/><circle cx="332.2" cy="334.7" r="0.4"/><circle cx="322.1" cy="341.9" r="0.4"/><circle cx="318.7" cy="343.8" r="0.4"/><circle cx="329.2" cy="339.2" r="0.4"/><circle cx="318.7" cy="335.6" r="0.4"/><circle cx="334.3" cy="332.1" r="0.4"/><circle cx="344.9" cy="332.3" r="0.4"/><circle cx="319.6" cy="338.2" r="0.4"/><circle cx="332.7" cy="341.0" r="0.4"/><circle cx="326.1" cy="337.2" r="0.4"/><circle cx="327.2" cy="335.7" r="0.4"/><circle cx="309.2" cy="341.9" r="0.4"/><circle cx="330.9" cy="338.6" r="0.4"/><circle cx="324.2" cy="339.0" r="0.4"/><circle cx="328.9" cy="337.7" r="0.4"/><circle cx="337.5" cy="331.0" r="0.4"/><circle cx="330.9" cy="333.7" r="0.4"/><circle cx="326.6" cy="344.0" r="0.4"/><circle cx="320.7" cy="337.6" r="0.4"/><circle cx="324.5" cy="341.8" r="0.4"/><circle cx="321.5" cy="331.2" r="0.4"/><circle cx="332.9" cy="336.6" r="0.4"/><circle cx="326.5" cy="342.4" r="0.4"/><circle cx="322.2" cy="336.5" r="0.4"/><circle cx="330.1" cy="339.7" r="0.4"/><circle cx="325.0" cy="342.2" r="0.4"/><circle cx="346.2" cy="336.4" r="0.4"/><circle cx="343.4" cy="329.5" r="0.4"/><circle cx="339.8" cy="336.6" r="0.4"/><circle cx="330.1" cy="336.6" r="0.4"/><circle cx="324.1" cy="332.8" r="0.4"/><circle cx="326.0" cy="343.2" r="0.4"/><circle cx="337.8" cy="336.6" r="0.4"/><circle cx="324.9" cy="335.2" r="0.4"/><circle cx="319.8" cy="345.3" r="0.4"/><circle cx="334.1" cy="338.5" r="0.4"/><circle cx="325.2" cy="333.9" r="0.4"/><circle cx="339.1" cy="341.1" r="0.4"/><circle cx="321.7" cy="342.0" r="0.4"/><circle cx="320.5" cy="340.6" r="0.4"/><circle cx="321.6" cy="336.3" r="0.4"/><circle cx="332.8" cy="339.7" r="0.4"/><circle cx="336.8" cy="334.6" r="0.4"/><circle cx="341.1" cy="343.4" r="0.4"/><circle cx="328.9" cy="339.9" r="0.4"/><circle cx="323.0" cy="337.4" r="0.4"/><circle cx="318.9" cy="338.4" r="0.4"/><circle cx="330.5" cy="343.4" r="0.4"/><circle cx="336.3" cy="341.3" r="0.4"/><circle cx="326.2" cy="337.1" r="0.4"/><circle cx="326.4" cy="338.9" r="0.4"/><circle cx="314.2" cy="341.1" r="0.4"/><circle cx="317.0" cy="335.9" r="0.4"/><circle cx="329.2" cy="335.9" r="0.4"/><circle cx="341.8" cy="337.6" r="0.4"/><circle cx="341.1" cy="342.7" r="0.4"/><circle cx="325.2" cy="339.6" r="0.4"/><circle cx="339.0" cy="336.7" r="0.4"/><circle cx="329.7" cy="335.7" r="0.4"/><circle cx="329.5" cy="336.6" r="0.4"/><circle cx="329.6" cy="342.0" r="0.4"/><circle cx="339.7" cy="338.5" r="0.4"/><circle cx="330.6" cy="341.5" r="0.4"/><circle cx="326.8" cy="333.7" r="0.4"/><circle cx="337.5" cy="334.2" r="0.4"/><circle cx="336.1" cy="334.1" r="0.4"/><circle cx="343.1" cy="333.8" r="0.4"/><circle cx="335.5" cy="344.0" r="0.4"/><circle cx="321.6" cy="344.0" r="0.4"/><circle cx="322.7" cy="330.9" r="0.4"/><circle cx="334.5" cy="340.8" r="0.4"/><circle cx="327.4" cy="327.8" r="0.4"/><circle cx="328.6" cy="336.8" r="0.4"/><circle cx="326.1" cy="336.8" r="0.4"/><circle cx="315.3" cy="335.7" r="0.4"/><circle cx="342.8" cy="344.2" r="0.4"/><circle cx="326.2" cy="335.1" r="0.4"/><circle cx="332.0" cy="342.3" r="0.4"/><circle cx="334.6" cy="333.3" r="0.4"/><circle cx="330.2" cy="338.6" r="0.4"/><circle cx="340.0" cy="342.8" r="0.4"/><circle cx="333.0" cy="342.9" r="0.4"/><circle cx="326.0" cy="344.2" r="0.4"/><circle cx="325.7" cy="339.6" r="0.4"/><circle cx="336.1" cy="334.3" r="0.4"/><circle cx="323.6" cy="330.9" r="0.4"/><circle cx="330.3" cy="337.8" r="0.4"/><circle cx="326.5" cy="340.0" r="0.4"/><circle cx="312.7" cy="337.9" r="0.4"/><circle cx="329.7" cy="336.9" r="0.4"/><circle cx="335.1" cy="345.1" r="0.4"/><circle cx="325.6" cy="334.2" r="0.4"/><circle cx="324.4" cy="338.4" r="0.4"/><circle cx="333.5" cy="334.5" r="0.4"/><circle cx="336.7" cy="333.9" r="0.4"/><circle cx="335.4" cy="339.7" r="0.4"/><circle cx="332.6" cy="346.7" r="0.4"/><circle cx="327.0" cy="337.3" r="0.4"/><circle cx="332.7" cy="341.5" r="0.4"/><circle cx="318.7" cy="339.1" r="0.4"/><circle cx="323.3" cy="340.5" r="0.4"/><circle cx="339.5" cy="338.2" r="0.4"/><circle cx="328.2" cy="338.7" r="0.4"/><circle cx="306.3" cy="341.1" r="0.4"/><circle cx="333.3" cy="338.7" r="0.4"/><circle cx="326.0" cy="335.1" r="0.4"/><circle cx="327.6" cy="342.9" r="0.4"/><circle cx="328.2" cy="343.4" r="0.4"/><circle cx="309.2" cy="336.1" r="0.4"/><circle cx="331.1" cy="337.9" r="0.4"/><circle cx="316.3" cy="335.3" r="0.4"/><circle cx="338.6" cy="332.8" r="0.4"/><circle cx="321.4" cy="333.6" r="0.4"/><circle cx="324.8" cy="340.6" r="0.4"/><circle cx="333.6" cy="329.8" r="0.4"/><circle cx="340.2" cy="335.6" r="0.4"/><circle cx="324.5" cy="344.7" r="0.4"/><circle cx="328.4" cy="333.0" r="0.4"/><circle cx="324.1" cy="335.1" r="0.4"/><circle cx="321.2" cy="336.7" r="0.4"/><circle cx="335.7" cy="339.4" r="0.4"/><circle cx="318.4" cy="349.2" r="0.4"/><circle cx="321.4" cy="338.5" r="0.4"/><circle cx="329.2" cy="341.1" r="0.4"/><circle cx="326.5" cy="339.8" r="0.4"/><circle cx="345.2" cy="338.4" r="0.4"/><circle cx="320.7" cy="339.3" r="0.4"/><circle cx="322.8" cy="336.5" r="0.4"/><circle cx="330.4" cy="339.4" r="0.4"/><circle cx="326.8" cy="341.4" r="0.4"/><circle cx="327.5" cy="332.7" r="0.4"/><circle cx="335.7" cy="336.5" r="0.4"/><circle cx="338.3" cy="335.4" r="0.4"/><circle cx="333.4" cy="339.3" r="0.4"/><circle cx="308.3" cy="332.0" r="0.4"/><circle cx="320.4" cy="343.7" r="0.4"/><circle cx="314.5" cy="341.7" r="0.4"/><circle cx="337.4" cy="340.0" r="0.4"/><circle cx="334.2" cy="336.0" r="0.4"/><circle cx="328.9" cy="338.9" r="0.4"/><circle cx="332.2" cy="340.9" r="0.4"/><circle cx="327.4" cy="335.2" r="0.4"/><circle cx="324.7" cy="339.7" r="0.4"/><circle cx="316.2" cy="332.9" r="0.4"/><circle cx="325.8" cy="335.8" r="0.4"/><circle cx="326.9" cy="327.3" r="0.4"/><circle cx="326.4" cy="337.0" r="0.4"/><circle cx="335.0" cy="330.0" r="0.4"/><circle cx="326.6" cy="339.9" r="0.4"/><circle cx="332.8" cy="342.8" r="0.4"/><circle cx="337.1" cy="333.8" r="0.4"/><circle cx="333.9" cy="336.6" r="0.4"/><circle cx="322.8" cy="344.2" r="0.4"/><circle cx="324.2" cy="334.6" r="0.4"/><circle cx="325.9" cy="334.6" r="0.4"/><circle cx="336.7" cy="339.5" r="0.4"/><circle cx="339.8" cy="339.7" r="0.4"/><circle cx="324.3" cy="342.2" r="0.4"/><circle cx="324.0" cy="336.1" r="0.4"/><circle cx="327.7" cy="338.2" r="0.4"/><circle cx="338.2" cy="335.6" r="0.4"/><circle cx="331.7" cy="337.9" r="0.4"/><circle cx="319.3" cy="333.6" r="0.4"/><circle cx="327.3" cy="339.6" r="0.4"/><circle cx="331.5" cy="339.9" r="0.4"/><circle cx="329.4" cy="336.2" r="0.4"/><circle cx="332.3" cy="333.9" r="0.4"/><circle cx="318.7" cy="336.7" r="0.4"/><circle cx="318.0" cy="335.9" r="0.4"/><circle cx="323.2" cy="335.8" r="0.4"/><circle cx="328.7" cy="334.8" r="0.4"/><circle cx="325.7" cy="331.1" r="0.4"/><circle cx="330.1" cy="334.4" r="0.4"/><circle cx="332.1" cy="326.6" r="0.4"/><circle cx="322.8" cy="339.0" r="0.4"/><circle cx="310.2" cy="336.5" r="0.4"/><circle cx="329.7" cy="338.4" r="0.4"/><circle cx="317.5" cy="338.9" r="0.4"/><circle cx="330.1" cy="334.1" r="0.4"/><circle cx="334.7" cy="337.8" r="0.4"/><circle cx="329.1" cy="336.2" r="0.4"/><circle cx="333.2" cy="338.4" r="0.4"/><circle cx="337.8" cy="339.8" r="0.4"/><circle cx="324.2" cy="337.1" r="0.4"/><circle cx="336.1" cy="336.5" r="0.4"/><circle cx="332.0" cy="340.1" r="0.4"/><circle cx="327.6" cy="328.6" r="0.4"/><circle cx="330.0" cy="338.9" r="0.4"/><circle cx="330.0" cy="334.9" r="0.4"/><circle cx="338.3" cy="337.5" r="0.4"/><circle cx="324.2" cy="335.1" r="0.4"/><circle cx="331.8" cy="333.6" r="0.4"/><circle cx="321.3" cy="346.1" r="0.4"/><circle cx="339.1" cy="342.3" r="0.4"/><circle cx="339.6" cy="340.4" r="0.4"/><circle cx="316.0" cy="342.9" r="0.4"/><circle cx="338.6" cy="340.0" r="0.4"/><circle cx="313.9" cy="343.1" r="0.4"/><circle cx="339.6" cy="336.0" r="0.4"/><circle cx="330.0" cy="341.2" r="0.4"/><circle cx="328.3" cy="342.5" r="0.4"/><circle cx="329.6" cy="340.8" r="0.4"/><circle cx="329.7" cy="332.0" r="0.4"/><circle cx="321.3" cy="350.9" r="0.4"/><circle cx="331.2" cy="343.3" r="0.4"/><circle cx="337.8" cy="345.0" r="0.4"/><circle cx="333.3" cy="335.6" r="0.4"/><circle cx="329.1" cy="330.2" r="0.4"/><circle cx="327.5" cy="341.7" r="0.4"/><circle cx="312.2" cy="338.8" r="0.4"/><circle cx="335.4" cy="343.4" r="0.4"/><circle cx="321.8" cy="335.3" r="0.4"/><circle cx="314.4" cy="333.8" r="0.4"/><circle cx="333.1" cy="346.4" r="0.4"/><circle cx="320.1" cy="343.6" r="0.4"/><circle cx="332.3" cy="336.0" r="0.4"/><circle cx="346.0" cy="327.7" r="0.4"/><circle cx="328.5" cy="338.9" r="0.4"/><circle cx="345.5" cy="345.3" r="0.4"/><circle cx="346.6" cy="338.5" r="0.4"/><circle cx="336.6" cy="343.6" r="0.4"/><circle cx="333.0" cy="339.5" r="0.4"/><circle cx="327.6" cy="336.3" r="0.4"/><circle cx="319.4" cy="346.0" r="0.4"/><circle cx="325.5" cy="329.5" r="0.4"/><circle cx="331.1" cy="337.9" r="0.4"/><circle cx="330.4" cy="345.4" r="0.4"/><circle cx="328.2" cy="336.9" r="0.4"/><circle cx="323.2" cy="337.9" r="0.4"/><circle cx="325.6" cy="338.8" r="0.4"/><circle cx="353.3" cy="339.6" r="0.4"/><circle cx="322.3" cy="345.9" r="0.4"/><circle cx="335.7" cy="341.3" r="0.4"/><circle cx="334.6" cy="341.3" r="0.4"/><circle cx="334.3" cy="343.8" r="0.4"/><circle cx="336.8" cy="343.5" r="0.4"/><circle cx="325.1" cy="338.0" r="0.4"/><circle cx="323.3" cy="341.9" r="0.4"/><circle cx="335.5" cy="336.1" r="0.4"/><circle cx="333.6" cy="348.7" r="0.4"/><circle cx="338.6" cy="333.4" r="0.4"/><circle cx="328.3" cy="340.6" r="0.4"/><circle cx="328.7" cy="339.6" r="0.4"/><circle cx="338.2" cy="339.3" r="0.4"/><circle cx="320.5" cy="340.9" r="0.4"/><circle cx="328.2" cy="338.5" r="0.4"/><circle cx="324.6" cy="332.3" r="0.4"/><circle cx="319.3" cy="336.6" r="0.4"/><circle cx="320.7" cy="326.9" r="0.4"/><circle cx="337.9" cy="333.2" r="0.4"/><circle cx="323.4" cy="340.2" r="0.4"/><circle cx="310.2" cy="343.5" r="0.4"/><circle cx="323.0" cy="340.7" r="0.4"/><circle cx="325.2" cy="339.3" r="0.4"/><circle cx="329.8" cy="338.0" r="0.4"/><circle cx="314.8" cy="332.0" r="0.4"/><circle cx="328.7" cy="343.8" r="0.4"/><circle cx="324.7" cy="340.2" r="0.4"/><circle cx="330.3" cy="340.0" r="0.4"/><circle cx="336.7" cy="331.9" r="0.4"/><circle cx="331.1" cy="337.3" r="0.4"/><circle cx="326.6" cy="334.5" r="0.4"/><circle cx="322.9" cy="333.8" r="0.4"/><circle cx="320.4" cy="348.3" r="0.4"/><circle cx="342.2" cy="338.0" r="0.4"/><circle cx="334.8" cy="334.0" r="0.4"/><circle cx="307.3" cy="330.5" r="0.4"/><circle cx="330.1" cy="343.9" r="0.4"/><circle cx="328.7" cy="333.9" r="0.4"/><circle cx="327.1" cy="333.9" r="0.4"/><circle cx="318.1" cy="337.0" r="0.4"/><circle cx="325.9" cy="334.7" r="0.4"/><circle cx="322.1" cy="334.2" r="0.4"/><circle cx="330.8" cy="343.7" r="0.4"/><circle cx="327.4" cy="347.2" r="0.4"/><circle cx="316.4" cy="339.1" r="0.4"/><circle cx="320.0" cy="337.3" r="0.4"/><circle cx="329.8" cy="340.3" r="0.4"/><circle cx="337.8" cy="335.7" r="0.4"/><circle cx="319.3" cy="337.2" r="0.4"/><circle cx="331.3" cy="335.1" r="0.4"/><circle cx="336.0" cy="344.9" r="0.4"/><circle cx="317.9" cy="339.5" r="0.4"/><circle cx="336.9" cy="330.1" r="0.4"/><circle cx="330.6" cy="337.1" r="0.4"/><circle cx="317.9" cy="343.4" r="0.4"/><circle cx="330.7" cy="336.0" r="0.4"/><circle cx="332.5" cy="340.6" r="0.4"/><circle cx="335.0" cy="340.4" r="0.4"/><circle cx="332.2" cy="333.2" r="0.4"/><circle cx="325.7" cy="338.5" r="0.4"/><circle cx="307.4" cy="346.7" r="0.4"/><circle cx="326.0" cy="333.7" r="0.4"/><circle cx="314.8" cy="339.0" r="0.4"/><circle cx="329.3" cy="335.6" r="0.4"/><circle cx="325.8" cy="334.4" r="0.4"/><circle cx="323.2" cy="337.6" r="0.4"/><circle cx="324.0" cy="340.8" r="0.4"/><circle cx="327.9" cy="338.5" r="0.4"/><circle cx="332.2" cy="343.2" r="0.4"/><circle cx="333.7" cy="338.9" r="0.4"/><circle cx="327.7" cy="334.7" r="0.4"/><circle cx="326.3" cy="340.8" r="0.4"/><circle cx="330.8" cy="336.4" r="0.4"/><circle cx="318.6" cy="331.7" r="0.4"/><circle cx="331.5" cy="342.2" r="0.4"/><circle cx="331.9" cy="332.4" r="0.4"/><circle cx="327.3" cy="338.9" r="0.4"/><circle cx="321.8" cy="339.4" r="0.4"/><circle cx="327.4" cy="334.6" r="0.4"/><circle cx="319.3" cy="341.3" r="0.4"/><circle cx="331.8" cy="334.4" r="0.4"/><circle cx="321.1" cy="341.6" r="0.4"/><circle cx="333.6" cy="336.8" r="0.4"/><circle cx="341.4" cy="336.8" r="0.4"/><circle cx="320.8" cy="342.5" r="0.4"/><circle cx="327.5" cy="339.4" r="0.4"/><circle cx="329.3" cy="333.9" r="0.4"/><circle cx="319.7" cy="337.2" r="0.4"/><circle cx="340.0" cy="333.9" r="0.4"/><circle cx="339.6" cy="338.9" r="0.4"/><circle cx="320.3" cy="339.1" r="0.4"/><circle cx="333.4" cy="334.3" r="0.4"/><circle cx="312.4" cy="339.5" r="0.4"/><circle cx="320.4" cy="339.8" r="0.4"/><circle cx="314.1" cy="337.4" r="0.4"/><circle cx="322.7" cy="331.9" r="0.4"/><circle cx="327.1" cy="338.7" r="0.4"/><circle cx="324.7" cy="333.2" r="0.4"/><circle cx="330.7" cy="330.9" r="0.4"/><circle cx="333.2" cy="340.0" r="0.4"/><circle cx="342.1" cy="341.6" r="0.4"/><circle cx="331.8" cy="339.1" r="0.4"/><circle cx="329.2" cy="332.6" r="0.4"/><circle cx="340.4" cy="340.2" r="0.4"/><circle cx="326.8" cy="333.3" r="0.4"/><circle cx="340.5" cy="340.2" r="0.4"/><circle cx="319.8" cy="340.7" r="0.4"/><circle cx="343.7" cy="337.9" r="0.4"/><circle cx="332.1" cy="336.3" r="0.4"/><circle cx="324.1" cy="342.4" r="0.4"/><circle cx="352.9" cy="338.5" r="0.4"/><circle cx="328.0" cy="341.2" r="0.4"/><circle cx="326.6" cy="341.0" r="0.4"/><circle cx="335.4" cy="333.9" r="0.4"/><circle cx="320.7" cy="337.7" r="0.4"/><circle cx="335.5" cy="339.1" r="0.4"/><circle cx="338.6" cy="332.4" r="0.4"/><circle cx="332.8" cy="335.5" r="0.4"/><circle cx="329.8" cy="339.3" r="0.4"/><circle cx="321.5" cy="337.1" r="0.4"/><circle cx="320.0" cy="339.1" r="0.4"/><circle cx="322.4" cy="336.0" r="0.4"/><circle cx="330.7" cy="335.3" r="0.4"/><circle cx="337.9" cy="335.4" r="0.4"/><circle cx="335.6" cy="339.2" r="0.4"/><circle cx="321.0" cy="337.1" r="0.4"/><circle cx="322.5" cy="336.5" r="0.4"/><circle cx="326.9" cy="345.4" r="0.4"/><circle cx="325.7" cy="344.4" r="0.4"/><circle cx="332.5" cy="332.7" r="0.4"/><circle cx="311.1" cy="340.8" r="0.4"/><circle cx="313.6" cy="340.9" r="0.4"/><circle cx="337.0" cy="339.6" r="0.4"/><circle cx="327.4" cy="337.0" r="0.4"/><circle cx="331.0" cy="336.8" r="0.4"/><circle cx="324.9" cy="336.5" r="0.4"/><circle cx="338.1" cy="335.5" r="0.4"/><circle cx="331.9" cy="333.3" r="0.4"/><circle cx="323.5" cy="332.4" r="0.4"/><circle cx="327.5" cy="340.8" r="0.4"/><circle cx="331.4" cy="336.0" r="0.4"/><circle cx="333.7" cy="336.6" r="0.4"/><circle cx="331.9" cy="339.1" r="0.4"/><circle cx="333.2" cy="327.9" r="0.4"/><circle cx="318.9" cy="341.1" r="0.4"/><circle cx="328.2" cy="347.1" r="0.4"/><circle cx="327.2" cy="335.8" r="0.4"/><circle cx="340.6" cy="340.3" r="0.4"/><circle cx="343.7" cy="340.1" r="0.4"/><circle cx="327.4" cy="340.9" r="0.4"/><circle cx="322.9" cy="336.2" r="0.4"/><circle cx="324.7" cy="337.1" r="0.4"/><circle cx="335.0" cy="336.0" r="0.4"/><circle cx="331.5" cy="336.0" r="0.4"/><circle cx="335.8" cy="326.8" r="0.4"/><circle cx="327.4" cy="338.7" r="0.4"/><circle cx="320.7" cy="342.1" r="0.4"/><circle cx="330.7" cy="343.2" r="0.4"/><circle cx="336.4" cy="340.6" r="0.4"/><circle cx="327.8" cy="333.6" r="0.4"/><circle cx="327.3" cy="336.1" r="0.4"/><circle cx="330.9" cy="336.1" r="0.4"/><circle cx="352.6" cy="331.5" r="0.4"/><circle cx="338.1" cy="336.1" r="0.4"/><circle cx="327.1" cy="341.8" r="0.4"/><circle cx="329.0" cy="333.1" r="0.4"/><circle cx="332.2" cy="337.2" r="0.4"/><circle cx="313.1" cy="338.8" r="0.4"/><circle cx="320.8" cy="335.0" r="0.4"/><circle cx="332.7" cy="339.2" r="0.4"/><circle cx="326.8" cy="346.8" r="0.4"/><circle cx="332.2" cy="335.5" r="0.4"/><circle cx="330.8" cy="337.5" r="0.4"/><circle cx="312.0" cy="331.6" r="0.4"/><circle cx="318.3" cy="346.4" r="0.4"/><circle cx="327.6" cy="336.9" r="0.4"/><circle cx="324.6" cy="342.0" r="0.4"/><circle cx="329.2" cy="344.9" r="0.4"/><circle cx="335.1" cy="344.7" r="0.4"/><circle cx="328.1" cy="339.5" r="0.4"/><circle cx="325.7" cy="337.3" r="0.4"/><circle cx="315.6" cy="335.6" r="0.4"/><circle cx="321.7" cy="335.4" r="0.4"/><circle cx="338.4" cy="339.1" r="0.4"/><circle cx="338.5" cy="341.5" r="0.4"/><circle cx="336.1" cy="342.1" r="0.4"/><circle cx="324.3" cy="341.2" r="0.4"/><circle cx="326.5" cy="335.9" r="0.4"/><circle cx="338.2" cy="346.8" r="0.4"/><circle cx="321.5" cy="345.0" r="0.4"/><circle cx="335.4" cy="334.6" r="0.4"/><circle cx="331.1" cy="339.5" r="0.4"/><circle cx="331.9" cy="336.6" r="0.4"/><circle cx="319.1" cy="338.1" r="0.4"/><circle cx="335.6" cy="341.2" r="0.4"/><circle cx="334.1" cy="342.5" r="0.4"/><circle cx="321.4" cy="337.8" r="0.4"/><circle cx="331.6" cy="342.0" r="0.4"/><circle cx="330.2" cy="340.1" r="0.4"/><circle cx="330.0" cy="346.5" r="0.4"/><circle cx="312.2" cy="337.9" r="0.4"/><circle cx="348.1" cy="339.0" r="0.4"/><circle cx="314.9" cy="338.5" r="0.4"/><circle cx="318.0" cy="335.3" r="0.4"/><circle cx="330.7" cy="344.9" r="0.4"/><circle cx="332.6" cy="340.7" r="0.4"/><circle cx="336.8" cy="338.8" r="0.4"/><circle cx="322.4" cy="337.6" r="0.4"/><circle cx="331.6" cy="336.9" r="0.4"/><circle cx="323.9" cy="336.5" r="0.4"/><circle cx="317.4" cy="333.9" r="0.4"/><circle cx="328.3" cy="336.5" r="0.4"/><circle cx="329.3" cy="343.7" r="0.4"/><circle cx="331.3" cy="337.9" r="0.4"/><circle cx="320.0" cy="333.6" r="0.4"/><circle cx="331.9" cy="334.5" r="0.4"/><circle cx="332.3" cy="333.7" r="0.4"/><circle cx="330.0" cy="337.7" r="0.4"/><circle cx="336.7" cy="336.4" r="0.4"/><circle cx="326.1" cy="339.0" r="0.4"/><circle cx="329.4" cy="344.8" r="0.4"/><circle cx="327.0" cy="335.8" r="0.4"/><circle cx="326.5" cy="339.9" r="0.4"/><circle cx="330.8" cy="340.8" r="0.4"/><circle cx="318.3" cy="348.0" r="0.4"/><circle cx="343.2" cy="337.9" r="0.4"/><circle cx="319.7" cy="338.6" r="0.4"/><circle cx="332.2" cy="329.0" r="0.4"/><circle cx="329.1" cy="332.0" r="0.4"/><circle cx="332.5" cy="343.6" r="0.4"/><circle cx="337.0" cy="331.9" r="0.4"/><circle cx="339.6" cy="341.7" r="0.4"/><circle cx="326.2" cy="340.0" r="0.4"/><circle cx="340.7" cy="336.7" r="0.4"/><circle cx="328.9" cy="335.7" r="0.4"/><circle cx="337.9" cy="329.3" r="0.4"/><circle cx="339.9" cy="334.1" r="0.4"/><circle cx="336.1" cy="331.4" r="0.4"/><circle cx="321.8" cy="335.6" r="0.4"/><circle cx="335.4" cy="331.4" r="0.4"/><circle cx="333.6" cy="335.4" r="0.4"/><circle cx="338.6" cy="336.7" r="0.4"/><circle cx="332.7" cy="337.3" r="0.4"/><circle cx="342.8" cy="336.5" r="0.4"/><circle cx="328.8" cy="346.0" r="0.4"/><circle cx="329.6" cy="340.8" r="0.4"/><circle cx="323.3" cy="338.8" r="0.4"/><circle cx="311.5" cy="338.4" r="0.4"/><circle cx="324.0" cy="331.9" r="0.4"/><circle cx="318.1" cy="342.6" r="0.4"/><circle cx="332.3" cy="331.9" r="0.4"/><circle cx="343.0" cy="335.2" r="0.4"/><circle cx="326.2" cy="339.0" r="0.4"/><circle cx="320.2" cy="331.5" r="0.4"/><circle cx="323.3" cy="342.8" r="0.4"/><circle cx="336.3" cy="331.6" r="0.4"/><circle cx="338.3" cy="338.1" r="0.4"/><circle cx="332.9" cy="338.2" r="0.4"/><circle cx="332.2" cy="334.0" r="0.4"/><circle cx="322.0" cy="335.2" r="0.4"/><circle cx="326.2" cy="340.5" r="0.4"/><circle cx="319.6" cy="344.4" r="0.4"/><circle cx="324.1" cy="335.6" r="0.4"/><circle cx="334.4" cy="339.8" r="0.4"/><circle cx="326.4" cy="333.7" r="0.4"/><circle cx="321.3" cy="331.5" r="0.4"/><circle cx="337.8" cy="342.4" r="0.4"/><circle cx="343.4" cy="340.0" r="0.4"/><circle cx="331.6" cy="341.1" r="0.4"/><circle cx="336.3" cy="337.0" r="0.4"/><circle cx="331.7" cy="346.7" r="0.4"/><circle cx="316.0" cy="332.3" r="0.4"/><circle cx="321.6" cy="341.0" r="0.4"/><circle cx="338.1" cy="336.6" r="0.4"/><circle cx="334.2" cy="337.8" r="0.4"/><circle cx="331.3" cy="335.8" r="0.4"/><circle cx="328.8" cy="338.0" r="0.4"/><circle cx="337.7" cy="347.0" r="0.4"/><circle cx="315.0" cy="340.2" r="0.4"/><circle cx="329.0" cy="341.9" r="0.4"/><circle cx="337.2" cy="341.2" r="0.4"/><circle cx="335.2" cy="334.2" r="0.4"/><circle cx="315.9" cy="344.8" r="0.4"/><circle cx="338.3" cy="334.1" r="0.4"/><circle cx="338.9" cy="340.7" r="0.4"/><circle cx="310.1" cy="341.6" r="0.4"/><circle cx="321.4" cy="342.7" r="0.4"/><circle cx="323.8" cy="335.0" r="0.4"/><circle cx="317.1" cy="337.1" r="0.4"/><circle cx="336.8" cy="335.3" r="0.4"/><circle cx="314.7" cy="346.7" r="0.4"/><circle cx="343.2" cy="340.8" r="0.4"/><circle cx="324.9" cy="333.1" r="0.4"/><circle cx="316.4" cy="340.3" r="0.4"/><circle cx="339.0" cy="333.7" r="0.4"/><circle cx="329.0" cy="336.9" r="0.4"/><circle cx="327.0" cy="340.0" r="0.4"/><circle cx="345.1" cy="335.4" r="0.4"/><circle cx="335.6" cy="342.4" r="0.4"/><circle cx="326.8" cy="337.4" r="0.4"/><circle cx="318.7" cy="342.4" r="0.4"/><circle cx="324.9" cy="335.4" r="0.4"/><circle cx="329.5" cy="334.5" r="0.4"/><circle cx="321.0" cy="336.8" r="0.4"/><circle cx="340.5" cy="337.2" r="0.4"/><circle cx="333.1" cy="332.1" r="0.4"/><circle cx="314.0" cy="345.4" r="0.4"/><circle cx="325.9" cy="331.8" r="0.4"/><circle cx="328.2" cy="340.5" r="0.4"/><circle cx="315.7" cy="334.4" r="0.4"/><circle cx="331.0" cy="334.3" r="0.4"/><circle cx="335.1" cy="341.9" r="0.4"/><circle cx="332.4" cy="336.3" r="0.4"/><circle cx="328.6" cy="335.4" r="0.4"/><circle cx="328.0" cy="339.3" r="0.4"/><circle cx="326.7" cy="341.9" r="0.4"/><circle cx="349.0" cy="335.8" r="0.4"/><circle cx="331.6" cy="341.3" r="0.4"/><circle cx="334.0" cy="337.0" r="0.4"/><circle cx="325.3" cy="342.1" r="0.4"/><circle cx="333.8" cy="340.1" r="0.4"/><circle cx="322.8" cy="340.6" r="0.4"/><circle cx="335.1" cy="337.2" r="0.4"/><circle cx="334.0" cy="346.8" r="0.4"/><circle cx="314.5" cy="340.5" r="0.4"/><circle cx="320.0" cy="332.5" r="0.4"/><circle cx="327.2" cy="340.2" r="0.4"/><circle cx="329.4" cy="333.3" r="0.4"/><circle cx="317.9" cy="335.7" r="0.4"/><circle cx="329.1" cy="334.6" r="0.4"/><circle cx="317.4" cy="345.1" r="0.4"/><circle cx="322.5" cy="337.4" r="0.4"/><circle cx="324.8" cy="335.6" r="0.4"/><circle cx="329.3" cy="336.8" r="0.4"/><circle cx="333.8" cy="333.2" r="0.4"/><circle cx="317.5" cy="345.9" r="0.4"/><circle cx="328.4" cy="341.1" r="0.4"/><circle cx="338.1" cy="340.3" r="0.4"/><circle cx="329.3" cy="331.7" r="0.4"/><circle cx="316.6" cy="342.0" r="0.4"/><circle cx="334.2" cy="340.3" r="0.4"/><circle cx="316.2" cy="329.3" r="0.4"/><circle cx="320.8" cy="333.2" r="0.4"/><circle cx="330.2" cy="333.8" r="0.4"/><circle cx="341.3" cy="335.5" r="0.4"/><circle cx="324.6" cy="341.5" r="0.4"/><circle cx="331.5" cy="334.3" r="0.4"/><circle cx="335.4" cy="345.8" r="0.4"/><circle cx="319.5" cy="337.0" r="0.4"/><circle cx="320.6" cy="330.1" r="0.4"/><circle cx="333.9" cy="340.8" r="0.4"/><circle cx="336.6" cy="339.7" r="0.4"/><circle cx="313.4" cy="337.9" r="0.4"/><circle cx="323.8" cy="333.2" r="0.4"/><circle cx="320.4" cy="341.1" r="0.4"/><circle cx="326.7" cy="346.0" r="0.4"/><circle cx="332.7" cy="330.2" r="0.4"/><circle cx="335.9" cy="343.1" r="0.4"/><circle cx="329.2" cy="333.1" r="0.4"/><circle cx="342.7" cy="332.6" r="0.4"/><circle cx="328.3" cy="330.2" r="0.4"/><circle cx="319.2" cy="331.1" r="0.4"/><circle cx="337.5" cy="342.8" r="0.4"/><circle cx="325.8" cy="332.5" r="0.4"/><circle cx="328.5" cy="339.5" r="0.4"/><circle cx="317.1" cy="333.3" r="0.4"/><circle cx="328.2" cy="340.9" r="0.4"/><circle cx="329.6" cy="339.8" r="0.4"/><circle cx="319.3" cy="327.8" r="0.4"/><circle cx="331.4" cy="334.2" r="0.4"/><circle cx="328.0" cy="336.5" r="0.4"/></g>
<g fill="#111" opacity="0.55"><circle cx="337.2" cy="319.5" r="0.3"/><circle cx="339.7" cy="324.2" r="0.3"/><circle cx="337.3" cy="327.7" r="0.3"/><circle cx="338.6" cy="326.4" r="0.3"/><circle cx="331.6" cy="320.3" r="0.3"/><circle cx="340.7" cy="326.8" r="0.3"/><circle cx="337.4" cy="326.7" r="0.3"/><circle cx="334.4" cy="320.0" r="0.3"/><circle cx="334.4" cy="330.8" r="0.3"/><circle cx="336.9" cy="334.4" r="0.3"/><circle cx="337.3" cy="335.1" r="0.3"/><circle cx="337.2" cy="317.1" r="0.3"/><circle cx="340.4" cy="326.0" r="0.3"/><circle cx="339.0" cy="325.3" r="0.3"/><circle cx="335.2" cy="325.0" r="0.3"/><circle cx="333.1" cy="317.0" r="0.3"/><circle cx="333.7" cy="320.9" r="0.3"/><circle cx="332.5" cy="323.4" r="0.3"/><circle cx="336.8" cy="335.9" r="0.3"/><circle cx="340.7" cy="323.7" r="0.3"/><circle cx="338.3" cy="322.7" r="0.3"/><circle cx="337.0" cy="323.8" r="0.3"/><circle cx="334.6" cy="324.4" r="0.3"/><circle cx="332.2" cy="326.6" r="0.3"/><circle cx="335.3" cy="317.6" r="0.3"/><circle cx="335.1" cy="327.3" r="0.3"/><circle cx="334.3" cy="326.8" r="0.3"/><circle cx="337.5" cy="333.2" r="0.3"/><circle cx="333.2" cy="323.3" r="0.3"/><circle cx="337.3" cy="332.9" r="0.3"/><circle cx="336.7" cy="328.5" r="0.3"/><circle cx="332.2" cy="320.6" r="0.3"/><circle cx="340.3" cy="322.3" r="0.3"/><circle cx="341.5" cy="319.7" r="0.3"/><circle cx="335.3" cy="314.6" r="0.3"/><circle cx="337.6" cy="325.6" r="0.3"/><circle cx="341.2" cy="325.0" r="0.3"/><circle cx="335.4" cy="315.7" r="0.3"/><circle cx="335.8" cy="329.6" r="0.3"/><circle cx="337.9" cy="331.3" r="0.3"/><circle cx="338.2" cy="323.7" r="0.3"/><circle cx="337.6" cy="325.0" r="0.3"/><circle cx="332.6" cy="334.1" r="0.3"/><circle cx="337.0" cy="317.8" r="0.3"/><circle cx="337.0" cy="325.7" r="0.3"/><circle cx="338.6" cy="332.6" r="0.3"/><circle cx="328.2" cy="327.3" r="0.3"/><circle cx="339.9" cy="318.4" r="0.3"/><circle cx="331.2" cy="325.7" r="0.3"/><circle cx="336.9" cy="326.1" r="0.3"/><circle cx="333.1" cy="321.2" r="0.3"/><circle cx="336.5" cy="328.4" r="0.3"/><circle cx="341.6" cy="325.7" r="0.3"/><circle cx="334.4" cy="310.0" r="0.3"/><circle cx="338.8" cy="323.2" r="0.3"/><circle cx="335.7" cy="318.1" r="0.3"/><circle cx="337.9" cy="313.3" r="0.3"/><circle cx="336.3" cy="324.7" r="0.3"/><circle cx="336.8" cy="331.8" r="0.3"/><circle cx="335.7" cy="324.6" r="0.3"/><circle cx="338.2" cy="314.8" r="0.3"/><circle cx="335.2" cy="324.4" r="0.3"/><circle cx="338.5" cy="319.2" r="0.3"/><circle cx="338.1" cy="326.3" r="0.3"/><circle cx="332.2" cy="315.2" r="0.3"/><circle cx="332.3" cy="324.8" r="0.3"/><circle cx="336.5" cy="328.3" r="0.3"/><circle cx="338.1" cy="320.7" r="0.3"/><circle cx="338.8" cy="328.9" r="0.3"/><circle cx="337.2" cy="326.9" r="0.3"/><circle cx="332.7" cy="326.2" r="0.3"/><circle cx="333.3" cy="316.9" r="0.3"/><circle cx="335.1" cy="324.8" r="0.3"/><circle cx="335.9" cy="322.0" r="0.3"/><circle cx="333.4" cy="325.1" r="0.3"/><circle cx="334.1" cy="315.6" r="0.3"/><circle cx="336.2" cy="332.7" r="0.3"/><circle cx="335.0" cy="317.7" r="0.3"/><circle cx="339.6" cy="334.2" r="0.3"/><circle cx="335.2" cy="322.7" r="0.3"/><circle cx="336.5" cy="341.6" r="0.3"/><circle cx="336.3" cy="329.9" r="0.3"/><circle cx="337.1" cy="313.1" r="0.3"/><circle cx="333.1" cy="316.6" r="0.3"/><circle cx="337.1" cy="324.6" r="0.3"/><circle cx="340.6" cy="322.4" r="0.3"/><circle cx="336.8" cy="324.4" r="0.3"/><circle cx="336.4" cy="337.8" r="0.3"/><circle cx="336.7" cy="332.8" r="0.3"/><circle cx="339.4" cy="320.4" r="0.3"/><circle cx="337.8" cy="321.7" r="0.3"/><circle cx="336.3" cy="324.9" r="0.3"/><circle cx="336.1" cy="321.2" r="0.3"/><circle cx="340.0" cy="322.4" r="0.3"/><circle cx="337.8" cy="334.0" r="0.3"/><circle cx="337.6" cy="330.1" r="0.3"/><circle cx="339.6" cy="330.5" r="0.3"/><circle cx="340.5" cy="315.5" r="0.3"/><circle cx="341.1" cy="324.2" r="0.3"/><circle cx="331.5" cy="320.2" r="0.3"/><circle cx="332.4" cy="323.9" r="0.3"/><circle cx="332.1" cy="318.0" r="0.3"/><circle cx="336.8" cy="324.9" r="0.3"/><circle cx="333.9" cy="322.6" r="0.3"/><circle cx="335.7" cy="324.4" r="0.3"/><circle cx="336.0" cy="322.7" r="0.3"/><circle cx="338.3" cy="314.4" r="0.3"/><circle cx="334.7" cy="324.8" r="0.3"/><circle cx="335.0" cy="320.7" r="0.3"/><circle cx="334.9" cy="325.3" r="0.3"/><circle cx="339.2" cy="322.9" r="0.3"/><circle cx="335.3" cy="326.1" r="0.3"/><circle cx="335.4" cy="312.4" r="0.3"/><circle cx="336.7" cy="321.7" r="0.3"/><circle cx="334.5" cy="327.8" r="0.3"/><circle cx="336.1" cy="320.6" r="0.3"/><circle cx="330.3" cy="313.7" r="0.3"/><circle cx="336.0" cy="323.3" r="0.3"/><circle cx="337.1" cy="325.3" r="0.3"/><circle cx="334.8" cy="316.4" r="0.3"/><circle cx="333.2" cy="323.2" r="0.3"/><circle cx="333.0" cy="328.5" r="0.3"/><circle cx="332.6" cy="313.3" r="0.3"/><circle cx="335.5" cy="313.4" r="0.3"/><circle cx="340.2" cy="318.0" r="0.3"/><circle cx="335.9" cy="322.5" r="0.3"/><circle cx="333.9" cy="313.4" r="0.3"/><circle cx="331.2" cy="329.2" r="0.3"/><circle cx="338.7" cy="337.0" r="0.3"/><circle cx="332.2" cy="327.4" r="0.3"/><circle cx="336.0" cy="329.1" r="0.3"/><circle cx="334.7" cy="328.3" r="0.3"/><circle cx="338.3" cy="327.6" r="0.3"/><circle cx="339.8" cy="323.0" r="0.3"/><circle cx="340.0" cy="319.8" r="0.3"/><circle cx="340.3" cy="307.5" r="0.3"/><circle cx="336.0" cy="319.2" r="0.3"/><circle cx="336.0" cy="330.2" r="0.3"/><circle cx="337.9" cy="324.6" r="0.3"/><circle cx="340.4" cy="315.1" r="0.3"/><circle cx="333.9" cy="333.1" r="0.3"/><circle cx="336.9" cy="311.6" r="0.3"/><circle cx="336.9" cy="316.9" r="0.3"/><circle cx="339.8" cy="330.9" r="0.3"/><circle cx="334.6" cy="331.8" r="0.3"/><circle cx="333.8" cy="329.5" r="0.3"/><circle cx="337.5" cy="323.2" r="0.3"/><circle cx="332.3" cy="322.3" r="0.3"/><circle cx="330.0" cy="320.6" r="0.3"/><circle cx="331.2" cy="331.3" r="0.3"/><circle cx="333.5" cy="309.4" r="0.3"/><circle cx="337.5" cy="326.2" r="0.3"/><circle cx="334.7" cy="336.7" r="0.3"/><circle cx="338.0" cy="324.4" r="0.3"/><circle cx="334.3" cy="306.3" r="0.3"/><circle cx="337.2" cy="329.8" r="0.3"/><circle cx="334.5" cy="315.5" r="0.3"/><circle cx="335.9" cy="314.0" r="0.3"/><circle cx="336.0" cy="328.6" r="0.3"/><circle cx="339.9" cy="325.6" r="0.3"/></g>
<g fill="#333" opacity="0.35"><circle cx="332.0" cy="340.5" r="0.3"/><circle cx="344.0" cy="334.1" r="0.3"/><circle cx="317.7" cy="331.3" r="0.3"/><circle cx="317.4" cy="330.7" r="0.3"/><circle cx="328.8" cy="338.1" r="0.3"/><circle cx="331.6" cy="336.4" r="0.3"/><circle cx="326.4" cy="338.5" r="0.3"/><circle cx="338.9" cy="340.6" r="0.3"/><circle cx="345.0" cy="334.3" r="0.3"/><circle cx="327.5" cy="346.2" r="0.3"/><circle cx="332.0" cy="338.5" r="0.3"/><circle cx="326.6" cy="341.8" r="0.3"/><circle cx="326.0" cy="330.0" r="0.3"/><circle cx="329.4" cy="333.3" r="0.3"/><circle cx="338.3" cy="333.7" r="0.3"/><circle cx="331.2" cy="334.7" r="0.3"/><circle cx="333.4" cy="332.2" r="0.3"/><circle cx="341.0" cy="327.5" r="0.3"/><circle cx="326.1" cy="331.7" r="0.3"/><circle cx="336.5" cy="336.2" r="0.3"/><circle cx="334.8" cy="334.0" r="0.3"/><circle cx="322.8" cy="329.3" r="0.3"/><circle cx="326.7" cy="332.8" r="0.3"/><circle cx="332.8" cy="338.1" r="0.3"/><circle cx="339.8" cy="335.4" r="0.3"/><circle cx="322.5" cy="329.6" r="0.3"/><circle cx="330.6" cy="338.2" r="0.3"/><circle cx="349.5" cy="337.1" r="0.3"/><circle cx="347.6" cy="347.2" r="0.3"/><circle cx="319.5" cy="343.3" r="0.3"/><circle cx="341.4" cy="344.1" r="0.3"/><circle cx="329.9" cy="341.7" r="0.3"/><circle cx="325.2" cy="335.6" r="0.3"/><circle cx="330.2" cy="346.7" r="0.3"/><circle cx="327.8" cy="341.7" r="0.3"/><circle cx="330.7" cy="331.7" r="0.3"/><circle cx="332.4" cy="340.0" r="0.3"/><circle cx="322.9" cy="339.8" r="0.3"/><circle cx="322.9" cy="330.7" r="0.3"/><circle cx="332.2" cy="334.6" r="0.3"/><circle cx="320.2" cy="326.2" r="0.3"/><circle cx="330.2" cy="337.5" r="0.3"/><circle cx="325.4" cy="337.1" r="0.3"/><circle cx="314.7" cy="338.4" r="0.3"/><circle cx="334.2" cy="337.7" r="0.3"/><circle cx="323.9" cy="336.5" r="0.3"/><circle cx="331.3" cy="342.4" r="0.3"/><circle cx="332.8" cy="337.5" r="0.3"/><circle cx="322.8" cy="341.2" r="0.3"/><circle cx="341.7" cy="333.0" r="0.3"/><circle cx="336.4" cy="337.8" r="0.3"/><circle cx="329.5" cy="328.3" r="0.3"/><circle cx="347.6" cy="324.8" r="0.3"/><circle cx="333.0" cy="333.7" r="0.3"/><circle cx="341.4" cy="333.5" r="0.3"/><circle cx="330.4" cy="339.7" r="0.3"/><circle cx="334.6" cy="332.9" r="0.3"/><circle cx="336.8" cy="338.3" r="0.3"/><circle cx="339.9" cy="332.9" r="0.3"/><circle cx="329.5" cy="333.7" r="0.3"/><circle cx="321.6" cy="337.5" r="0.3"/><circle cx="334.1" cy="344.5" r="0.3"/><circle cx="326.8" cy="338.3" r="0.3"/><circle cx="341.4" cy="335.3" r="0.3"/><circle cx="330.6" cy="336.8" r="0.3"/><circle cx="323.1" cy="330.1" r="0.3"/><circle cx="341.1" cy="337.0" r="0.3"/><circle cx="329.3" cy="328.6" r="0.3"/><circle cx="331.2" cy="343.0" r="0.3"/><circle cx="318.5" cy="330.7" r="0.3"/><circle cx="341.1" cy="344.6" r="0.3"/><circle cx="345.5" cy="332.7" r="0.3"/><circle cx="336.0" cy="331.5" r="0.3"/><circle cx="335.2" cy="333.8" r="0.3"/><circle cx="332.0" cy="344.0" r="0.3"/><circle cx="333.4" cy="334.6" r="0.3"/><circle cx="330.6" cy="337.6" r="0.3"/><circle cx="324.9" cy="337.2" r="0.3"/><circle cx="336.0" cy="345.3" r="0.3"/><circle cx="309.5" cy="328.9" r="0.3"/><circle cx="317.7" cy="341.2" r="0.3"/><circle cx="354.3" cy="337.2" r="0.3"/><circle cx="331.2" cy="342.8" r="0.3"/><circle cx="305.7" cy="334.9" r="0.3"/><circle cx="299.0" cy="336.9" r="0.3"/><circle cx="324.9" cy="333.1" r="0.3"/><circle cx="333.4" cy="332.5" r="0.3"/><circle cx="341.0" cy="336.0" r="0.3"/><circle cx="333.8" cy="351.1" r="0.3"/><circle cx="325.5" cy="341.5" r="0.3"/><circle cx="321.8" cy="343.4" r="0.3"/><circle cx="339.6" cy="336.8" r="0.3"/><circle cx="339.8" cy="345.6" r="0.3"/><circle cx="343.7" cy="336.0" r="0.3"/><circle cx="329.5" cy="342.6" r="0.3"/><circle cx="315.4" cy="332.4" r="0.3"/><circle cx="334.8" cy="339.4" r="0.3"/><circle cx="348.5" cy="346.5" r="0.3"/><circle cx="333.2" cy="338.6" r="0.3"/><circle cx="316.9" cy="334.9" r="0.3"/><circle cx="332.6" cy="334.7" r="0.3"/><circle cx="330.6" cy="339.6" r="0.3"/><circle cx="320.6" cy="332.6" r="0.3"/><circle cx="312.4" cy="342.8" r="0.3"/><circle cx="319.6" cy="325.9" r="0.3"/><circle cx="337.6" cy="334.7" r="0.3"/><circle cx="339.6" cy="333.8" r="0.3"/><circle cx="351.0" cy="340.2" r="0.3"/><circle cx="331.5" cy="336.7" r="0.3"/><circle cx="328.0" cy="340.8" r="0.3"/><circle cx="349.8" cy="333.5" r="0.3"/><circle cx="319.2" cy="339.5" r="0.3"/><circle cx="340.6" cy="327.1" r="0.3"/><circle cx="323.2" cy="330.1" r="0.3"/><circle cx="335.6" cy="339.0" r="0.3"/><circle cx="322.7" cy="329.3" r="0.3"/><circle cx="336.7" cy="323.8" r="0.3"/><circle cx="336.4" cy="335.1" r="0.3"/><circle cx="349.0" cy="341.9" r="0.3"/><circle cx="324.3" cy="334.4" r="0.3"/><circle cx="327.3" cy="331.7" r="0.3"/><circle cx="330.8" cy="341.7" r="0.3"/><circle cx="315.1" cy="334.7" r="0.3"/><circle cx="344.7" cy="340.4" r="0.3"/><circle cx="322.0" cy="331.2" r="0.3"/><circle cx="321.6" cy="326.5" r="0.3"/><circle cx="341.3" cy="336.4" r="0.3"/><circle cx="323.1" cy="327.5" r="0.3"/><circle cx="326.2" cy="333.0" r="0.3"/><circle cx="347.0" cy="333.3" r="0.3"/><circle cx="331.1" cy="342.3" r="0.3"/><circle cx="336.6" cy="334.9" r="0.3"/><circle cx="308.5" cy="344.3" r="0.3"/><circle cx="335.9" cy="333.4" r="0.3"/><circle cx="329.1" cy="330.4" r="0.3"/><circle cx="321.2" cy="327.2" r="0.3"/><circle cx="334.9" cy="339.1" r="0.3"/><circle cx="331.7" cy="340.6" r="0.3"/><circle cx="335.3" cy="336.7" r="0.3"/><circle cx="321.3" cy="339.5" r="0.3"/><circle cx="341.7" cy="339.7" r="0.3"/><circle cx="342.3" cy="333.2" r="0.3"/><circle cx="320.4" cy="343.4" r="0.3"/><circle cx="324.3" cy="337.4" r="0.3"/><circle cx="328.1" cy="336.1" r="0.3"/><circle cx="327.3" cy="332.8" r="0.3"/><circle cx="312.5" cy="347.2" r="0.3"/><circle cx="332.0" cy="324.7" r="0.3"/><circle cx="321.1" cy="329.4" r="0.3"/><circle cx="322.7" cy="321.0" r="0.3"/><circle cx="335.6" cy="345.7" r="0.3"/><circle cx="327.6" cy="340.4" r="0.3"/><circle cx="335.9" cy="328.7" r="0.3"/><circle cx="342.0" cy="326.1" r="0.3"/><circle cx="324.4" cy="333.9" r="0.3"/><circle cx="342.3" cy="336.7" r="0.3"/><circle cx="328.8" cy="331.3" r="0.3"/><circle cx="330.9" cy="336.2" r="0.3"/><circle cx="337.2" cy="344.2" r="0.3"/><circle cx="337.2" cy="336.1" r="0.3"/><circle cx="328.5" cy="345.4" r="0.3"/><circle cx="332.0" cy="335.9" r="0.3"/><circle cx="347.6" cy="345.2" r="0.3"/><circle cx="335.6" cy="335.4" r="0.3"/><circle cx="323.8" cy="342.3" r="0.3"/><circle cx="325.6" cy="341.6" r="0.3"/><circle cx="322.3" cy="336.6" r="0.3"/><circle cx="333.9" cy="336.9" r="0.3"/><circle cx="332.3" cy="338.2" r="0.3"/><circle cx="319.0" cy="329.5" r="0.3"/><circle cx="328.6" cy="346.6" r="0.3"/><circle cx="328.8" cy="330.6" r="0.3"/><circle cx="323.5" cy="336.2" r="0.3"/><circle cx="341.6" cy="332.7" r="0.3"/><circle cx="335.5" cy="337.1" r="0.3"/><circle cx="326.5" cy="330.5" r="0.3"/><circle cx="328.5" cy="331.8" r="0.3"/><circle cx="335.3" cy="325.7" r="0.3"/><circle cx="341.0" cy="340.4" r="0.3"/><circle cx="335.7" cy="344.8" r="0.3"/><circle cx="335.9" cy="326.0" r="0.3"/><circle cx="330.5" cy="338.6" r="0.3"/><circle cx="323.3" cy="329.4" r="0.3"/><circle cx="334.2" cy="339.0" r="0.3"/><circle cx="325.8" cy="334.6" r="0.3"/><circle cx="325.1" cy="332.7" r="0.3"/><circle cx="329.4" cy="342.3" r="0.3"/><circle cx="314.3" cy="334.0" r="0.3"/><circle cx="345.8" cy="337.9" r="0.3"/><circle cx="331.5" cy="340.9" r="0.3"/><circle cx="320.2" cy="328.9" r="0.3"/><circle cx="313.8" cy="327.5" r="0.3"/><circle cx="332.4" cy="341.0" r="0.3"/><circle cx="325.9" cy="332.0" r="0.3"/><circle cx="333.9" cy="339.6" r="0.3"/><circle cx="332.5" cy="324.9" r="0.3"/><circle cx="324.7" cy="321.2" r="0.3"/><circle cx="332.4" cy="331.0" r="0.3"/><circle cx="323.6" cy="344.8" r="0.3"/><circle cx="342.9" cy="338.8" r="0.3"/></g>
<path d="M314,338 C314,329 323.5,327 329,329.5 C331,330.5 332,333 334,333.2 C338,331.8 346,331.5 348,336.5 C349,342.5 342,345.5 336,344 C333.5,343.5 331,344.8 329,346 C323,349 314,347.5 314,338 Z" fill="#000" opacity="0.55" filter="url(#blur1)"/>
<g fill="#000" opacity="0.6"><circle cx="333.4" cy="337.9" r="0.4"/><circle cx="325.9" cy="336.7" r="0.4"/><circle cx="347.8" cy="332.3" r="0.4"/><circle cx="325.2" cy="337.9" r="0.4"/><circle cx="338.8" cy="341.5" r="0.4"/><circle cx="322.5" cy="336.3" r="0.4"/><circle cx="328.7" cy="330.4" r="0.4"/><circle cx="331.7" cy="334.4" r="0.4"/><circle cx="339.1" cy="339.3" r="0.4"/><circle cx="324.2" cy="337.4" r="0.4"/><circle cx="327.9" cy="333.6" r="0.4"/><circle cx="326.7" cy="342.7" r="0.4"/><circle cx="327.4" cy="327.8" r="0.4"/><circle cx="324.2" cy="341.3" r="0.4"/><circle cx="349.8" cy="331.4" r="0.4"/><circle cx="327.9" cy="335.2" r="0.4"/><circle cx="318.7" cy="339.1" r="0.4"/><circle cx="330.6" cy="338.5" r="0.4"/><circle cx="350.6" cy="335.6" r="0.4"/><circle cx="337.9" cy="341.5" r="0.4"/><circle cx="325.4" cy="333.8" r="0.4"/><circle cx="344.6" cy="340.8" r="0.4"/><circle cx="332.3" cy="331.2" r="0.4"/><circle cx="338.7" cy="339.8" r="0.4"/><circle cx="350.2" cy="344.9" r="0.4"/><circle cx="338.0" cy="338.4" r="0.4"/><circle cx="331.5" cy="334.1" r="0.4"/><circle cx="333.7" cy="338.3" r="0.4"/><circle cx="336.7" cy="342.8" r="0.4"/><circle cx="333.7" cy="334.1" r="0.4"/><circle cx="338.1" cy="345.3" r="0.4"/><circle cx="323.7" cy="339.2" r="0.4"/><circle cx="335.8" cy="339.9" r="0.4"/><circle cx="335.4" cy="336.5" r="0.4"/><circle cx="330.1" cy="346.0" r="0.4"/><circle cx="346.2" cy="329.5" r="0.4"/><circle cx="308.8" cy="339.3" r="0.4"/><circle cx="325.1" cy="334.2" r="0.4"/><circle cx="317.1" cy="338.9" r="0.4"/><circle cx="330.5" cy="334.1" r="0.4"/><circle cx="338.9" cy="350.0" r="0.4"/><circle cx="343.9" cy="343.3" r="0.4"/><circle cx="327.4" cy="340.5" r="0.4"/><circle cx="330.7" cy="343.2" r="0.4"/><circle cx="336.1" cy="336.8" r="0.4"/><circle cx="335.8" cy="333.2" r="0.4"/><circle cx="337.9" cy="345.0" r="0.4"/><circle cx="327.8" cy="340.0" r="0.4"/><circle cx="316.4" cy="342.0" r="0.4"/><circle cx="338.7" cy="331.5" r="0.4"/><circle cx="346.2" cy="337.6" r="0.4"/><circle cx="315.9" cy="329.7" r="0.4"/><circle cx="338.6" cy="335.5" r="0.4"/><circle cx="340.7" cy="328.7" r="0.4"/><circle cx="330.1" cy="342.2" r="0.4"/><circle cx="325.1" cy="340.6" r="0.4"/><circle cx="327.9" cy="338.8" r="0.4"/><circle cx="333.8" cy="348.9" r="0.4"/><circle cx="320.2" cy="341.2" r="0.4"/><circle cx="342.5" cy="331.0" r="0.4"/><circle cx="331.7" cy="349.3" r="0.4"/><circle cx="340.2" cy="321.2" r="0.4"/><circle cx="328.9" cy="327.9" r="0.4"/><circle cx="333.7" cy="333.1" r="0.4"/><circle cx="326.1" cy="332.5" r="0.4"/><circle cx="333.6" cy="334.5" r="0.4"/><circle cx="323.1" cy="335.8" r="0.4"/><circle cx="334.6" cy="332.4" r="0.4"/><circle cx="340.7" cy="328.1" r="0.4"/><circle cx="334.6" cy="334.9" r="0.4"/><circle cx="344.8" cy="333.6" r="0.4"/><circle cx="325.2" cy="329.8" r="0.4"/><circle cx="348.4" cy="340.3" r="0.4"/><circle cx="321.5" cy="335.2" r="0.4"/><circle cx="322.6" cy="345.1" r="0.4"/><circle cx="334.7" cy="326.1" r="0.4"/><circle cx="332.8" cy="341.9" r="0.4"/><circle cx="331.0" cy="339.5" r="0.4"/><circle cx="330.0" cy="338.1" r="0.4"/><circle cx="332.9" cy="333.2" r="0.4"/><circle cx="334.0" cy="337.9" r="0.4"/><circle cx="330.7" cy="333.3" r="0.4"/><circle cx="322.1" cy="338.3" r="0.4"/><circle cx="338.2" cy="324.1" r="0.4"/><circle cx="326.3" cy="344.2" r="0.4"/><circle cx="339.0" cy="333.2" r="0.4"/><circle cx="342.8" cy="331.7" r="0.4"/><circle cx="324.1" cy="347.4" r="0.4"/><circle cx="327.2" cy="335.8" r="0.4"/><circle cx="316.6" cy="331.6" r="0.4"/><circle cx="320.7" cy="336.3" r="0.4"/><circle cx="314.9" cy="342.7" r="0.4"/><circle cx="327.9" cy="333.8" r="0.4"/><circle cx="325.5" cy="341.0" r="0.4"/><circle cx="344.4" cy="334.8" r="0.4"/><circle cx="345.1" cy="345.6" r="0.4"/><circle cx="342.7" cy="338.6" r="0.4"/><circle cx="318.0" cy="340.6" r="0.4"/><circle cx="327.4" cy="338.0" r="0.4"/><circle cx="314.5" cy="335.5" r="0.4"/><circle cx="333.0" cy="332.0" r="0.4"/><circle cx="333.6" cy="346.0" r="0.4"/><circle cx="333.0" cy="333.3" r="0.4"/><circle cx="351.9" cy="325.5" r="0.4"/><circle cx="322.9" cy="339.2" r="0.4"/><circle cx="325.8" cy="324.7" r="0.4"/><circle cx="333.3" cy="341.4" r="0.4"/><circle cx="324.0" cy="344.8" r="0.4"/><circle cx="335.4" cy="343.4" r="0.4"/><circle cx="317.6" cy="337.0" r="0.4"/><circle cx="345.0" cy="347.8" r="0.4"/><circle cx="342.6" cy="337.0" r="0.4"/><circle cx="332.6" cy="333.6" r="0.4"/><circle cx="340.6" cy="333.3" r="0.4"/><circle cx="332.1" cy="325.9" r="0.4"/><circle cx="317.8" cy="346.5" r="0.4"/><circle cx="331.5" cy="338.2" r="0.4"/><circle cx="311.7" cy="336.8" r="0.4"/><circle cx="349.2" cy="329.0" r="0.4"/><circle cx="310.1" cy="336.1" r="0.4"/><circle cx="326.3" cy="335.9" r="0.4"/><circle cx="320.0" cy="329.7" r="0.4"/><circle cx="320.2" cy="340.4" r="0.4"/><circle cx="330.6" cy="341.4" r="0.4"/><circle cx="321.5" cy="340.2" r="0.4"/><circle cx="327.1" cy="337.5" r="0.4"/><circle cx="339.2" cy="337.2" r="0.4"/><circle cx="327.9" cy="328.1" r="0.4"/><circle cx="331.6" cy="341.2" r="0.4"/><circle cx="325.4" cy="336.6" r="0.4"/><circle cx="315.4" cy="329.8" r="0.4"/><circle cx="334.5" cy="344.0" r="0.4"/><circle cx="328.3" cy="328.0" r="0.4"/><circle cx="327.7" cy="328.6" r="0.4"/><circle cx="328.6" cy="347.4" r="0.4"/><circle cx="333.6" cy="336.2" r="0.4"/><circle cx="340.1" cy="335.0" r="0.4"/><circle cx="333.9" cy="338.1" r="0.4"/><circle cx="334.9" cy="329.1" r="0.4"/><circle cx="337.3" cy="341.8" r="0.4"/><circle cx="310.9" cy="322.4" r="0.4"/><circle cx="323.1" cy="345.0" r="0.4"/><circle cx="331.2" cy="340.7" r="0.4"/><circle cx="335.9" cy="341.8" r="0.4"/><circle cx="325.4" cy="333.8" r="0.4"/><circle cx="334.3" cy="340.3" r="0.4"/><circle cx="336.1" cy="338.8" r="0.4"/><circle cx="326.7" cy="343.0" r="0.4"/><circle cx="335.2" cy="342.7" r="0.4"/><circle cx="308.5" cy="342.5" r="0.4"/><circle cx="309.4" cy="338.1" r="0.4"/><circle cx="325.1" cy="337.7" r="0.4"/><circle cx="326.8" cy="335.3" r="0.4"/><circle cx="332.7" cy="338.9" r="0.4"/><circle cx="323.9" cy="323.3" r="0.4"/><circle cx="324.1" cy="339.9" r="0.4"/><circle cx="323.5" cy="339.3" r="0.4"/><circle cx="327.7" cy="331.9" r="0.4"/><circle cx="341.4" cy="346.0" r="0.4"/><circle cx="330.1" cy="336.7" r="0.4"/><circle cx="339.5" cy="329.8" r="0.4"/><circle cx="323.3" cy="343.1" r="0.4"/><circle cx="339.0" cy="334.3" r="0.4"/><circle cx="324.1" cy="338.9" r="0.4"/><circle cx="318.5" cy="334.3" r="0.4"/><circle cx="328.9" cy="323.6" r="0.4"/><circle cx="336.3" cy="341.2" r="0.4"/><circle cx="340.5" cy="329.2" r="0.4"/><circle cx="319.6" cy="332.6" r="0.4"/><circle cx="319.4" cy="348.2" r="0.4"/><circle cx="322.3" cy="335.3" r="0.4"/><circle cx="332.8" cy="339.5" r="0.4"/><circle cx="343.9" cy="331.1" r="0.4"/><circle cx="338.8" cy="337.8" r="0.4"/><circle cx="320.6" cy="337.8" r="0.4"/><circle cx="318.5" cy="345.8" r="0.4"/><circle cx="324.5" cy="342.5" r="0.4"/><circle cx="342.6" cy="333.6" r="0.4"/><circle cx="323.0" cy="337.7" r="0.4"/><circle cx="321.6" cy="341.9" r="0.4"/><circle cx="332.6" cy="332.8" r="0.4"/><circle cx="324.9" cy="341.0" r="0.4"/><circle cx="318.0" cy="346.2" r="0.4"/><circle cx="324.0" cy="335.9" r="0.4"/><circle cx="322.7" cy="345.9" r="0.4"/><circle cx="338.4" cy="344.1" r="0.4"/><circle cx="336.8" cy="337.5" r="0.4"/><circle cx="346.2" cy="340.6" r="0.4"/><circle cx="334.9" cy="340.2" r="0.4"/><circle cx="337.6" cy="338.5" r="0.4"/><circle cx="329.5" cy="328.3" r="0.4"/><circle cx="349.4" cy="329.9" r="0.4"/><circle cx="311.7" cy="333.1" r="0.4"/><circle cx="348.3" cy="343.7" r="0.4"/><circle cx="325.6" cy="338.5" r="0.4"/><circle cx="330.8" cy="326.1" r="0.4"/><circle cx="328.0" cy="338.6" r="0.4"/><circle cx="341.5" cy="330.4" r="0.4"/><circle cx="310.8" cy="328.4" r="0.4"/><circle cx="334.0" cy="337.4" r="0.4"/><circle cx="332.3" cy="337.8" r="0.4"/><circle cx="327.7" cy="329.5" r="0.4"/><circle cx="335.1" cy="339.1" r="0.4"/><circle cx="336.2" cy="343.8" r="0.4"/><circle cx="319.9" cy="324.2" r="0.4"/><circle cx="315.0" cy="348.7" r="0.4"/><circle cx="322.8" cy="339.2" r="0.4"/><circle cx="330.9" cy="341.0" r="0.4"/><circle cx="359.9" cy="334.2" r="0.4"/><circle cx="329.5" cy="333.7" r="0.4"/><circle cx="333.2" cy="339.9" r="0.4"/><circle cx="322.3" cy="344.2" r="0.4"/><circle cx="341.3" cy="339.4" r="0.4"/><circle cx="330.0" cy="335.7" r="0.4"/><circle cx="316.2" cy="340.6" r="0.4"/><circle cx="322.2" cy="334.2" r="0.4"/><circle cx="340.0" cy="331.9" r="0.4"/><circle cx="326.3" cy="341.7" r="0.4"/><circle cx="347.7" cy="333.2" r="0.4"/><circle cx="340.9" cy="333.4" r="0.4"/><circle cx="334.5" cy="339.7" r="0.4"/><circle cx="320.8" cy="342.6" r="0.4"/><circle cx="347.2" cy="337.3" r="0.4"/><circle cx="333.4" cy="330.6" r="0.4"/><circle cx="347.1" cy="337.3" r="0.4"/><circle cx="319.5" cy="341.2" r="0.4"/><circle cx="317.8" cy="333.2" r="0.4"/><circle cx="311.8" cy="344.6" r="0.4"/><circle cx="350.9" cy="333.5" r="0.4"/><circle cx="325.1" cy="333.8" r="0.4"/><circle cx="325.9" cy="340.0" r="0.4"/><circle cx="344.1" cy="331.5" r="0.4"/><circle cx="335.0" cy="327.1" r="0.4"/><circle cx="344.7" cy="336.5" r="0.4"/><circle cx="324.7" cy="345.4" r="0.4"/><circle cx="330.0" cy="344.5" r="0.4"/><circle cx="340.7" cy="346.1" r="0.4"/><circle cx="323.8" cy="337.3" r="0.4"/><circle cx="334.3" cy="335.9" r="0.4"/><circle cx="344.7" cy="333.1" r="0.4"/><circle cx="340.0" cy="344.5" r="0.4"/><circle cx="313.4" cy="331.7" r="0.4"/><circle cx="322.9" cy="334.0" r="0.4"/><circle cx="334.5" cy="336.0" r="0.4"/><circle cx="331.7" cy="334.5" r="0.4"/><circle cx="330.3" cy="339.7" r="0.4"/><circle cx="337.7" cy="332.7" r="0.4"/><circle cx="330.0" cy="332.8" r="0.4"/><circle cx="329.4" cy="329.1" r="0.4"/><circle cx="339.6" cy="340.7" r="0.4"/><circle cx="329.9" cy="333.2" r="0.4"/><circle cx="326.9" cy="333.3" r="0.4"/><circle cx="317.1" cy="346.0" r="0.4"/><circle cx="360.6" cy="330.2" r="0.4"/><circle cx="320.5" cy="340.2" r="0.4"/><circle cx="336.5" cy="328.3" r="0.4"/><circle cx="313.7" cy="340.0" r="0.4"/><circle cx="313.1" cy="344.8" r="0.4"/><circle cx="326.5" cy="337.5" r="0.4"/><circle cx="331.0" cy="333.9" r="0.4"/><circle cx="329.7" cy="335.4" r="0.4"/><circle cx="342.2" cy="336.5" r="0.4"/><circle cx="330.7" cy="334.1" r="0.4"/><circle cx="325.3" cy="332.9" r="0.4"/><circle cx="331.1" cy="347.1" r="0.4"/><circle cx="341.0" cy="338.3" r="0.4"/><circle cx="346.0" cy="342.6" r="0.4"/><circle cx="332.9" cy="336.1" r="0.4"/><circle cx="321.1" cy="338.4" r="0.4"/><circle cx="328.2" cy="328.3" r="0.4"/><circle cx="319.4" cy="347.6" r="0.4"/><circle cx="332.9" cy="339.7" r="0.4"/><circle cx="332.8" cy="334.4" r="0.4"/><circle cx="335.2" cy="343.0" r="0.4"/><circle cx="328.2" cy="339.8" r="0.4"/><circle cx="340.2" cy="334.3" r="0.4"/><circle cx="332.5" cy="332.9" r="0.4"/><circle cx="336.4" cy="335.0" r="0.4"/><circle cx="341.3" cy="332.8" r="0.4"/><circle cx="346.2" cy="335.3" r="0.4"/><circle cx="323.4" cy="332.0" r="0.4"/><circle cx="337.0" cy="332.3" r="0.4"/><circle cx="347.2" cy="344.1" r="0.4"/><circle cx="335.7" cy="329.2" r="0.4"/><circle cx="330.8" cy="333.0" r="0.4"/><circle cx="314.7" cy="339.3" r="0.4"/><circle cx="350.8" cy="334.1" r="0.4"/><circle cx="338.3" cy="344.1" r="0.4"/><circle cx="322.4" cy="335.1" r="0.4"/><circle cx="333.4" cy="339.6" r="0.4"/><circle cx="320.7" cy="338.2" r="0.4"/><circle cx="330.0" cy="342.2" r="0.4"/><circle cx="316.6" cy="333.9" r="0.4"/><circle cx="326.5" cy="335.3" r="0.4"/><circle cx="337.5" cy="333.5" r="0.4"/><circle cx="355.6" cy="333.1" r="0.4"/><circle cx="338.6" cy="342.6" r="0.4"/><circle cx="339.7" cy="335.9" r="0.4"/><circle cx="323.5" cy="335.6" r="0.4"/><circle cx="337.0" cy="337.7" r="0.4"/><circle cx="336.2" cy="340.2" r="0.4"/><circle cx="323.0" cy="331.9" r="0.4"/><circle cx="344.0" cy="334.3" r="0.4"/><circle cx="316.7" cy="347.2" r="0.4"/><circle cx="323.5" cy="331.9" r="0.4"/><circle cx="339.7" cy="330.8" r="0.4"/><circle cx="323.2" cy="342.8" r="0.4"/><circle cx="323.6" cy="350.8" r="0.4"/><circle cx="331.9" cy="351.8" r="0.4"/><circle cx="332.2" cy="337.3" r="0.4"/><circle cx="325.2" cy="335.8" r="0.4"/><circle cx="326.5" cy="336.9" r="0.4"/><circle cx="337.9" cy="330.0" r="0.4"/><circle cx="322.7" cy="325.5" r="0.4"/><circle cx="344.5" cy="336.6" r="0.4"/><circle cx="330.9" cy="336.7" r="0.4"/><circle cx="340.0" cy="338.8" r="0.4"/><circle cx="338.7" cy="336.1" r="0.4"/><circle cx="329.9" cy="336.7" r="0.4"/><circle cx="314.2" cy="343.0" r="0.4"/><circle cx="316.8" cy="331.5" r="0.4"/><circle cx="337.0" cy="337.3" r="0.4"/><circle cx="338.3" cy="346.4" r="0.4"/><circle cx="347.8" cy="344.6" r="0.4"/><circle cx="329.0" cy="348.3" r="0.4"/><circle cx="323.1" cy="336.5" r="0.4"/><circle cx="340.0" cy="335.8" r="0.4"/><circle cx="329.9" cy="335.1" r="0.4"/><circle cx="343.3" cy="323.4" r="0.4"/><circle cx="342.5" cy="342.8" r="0.4"/><circle cx="330.3" cy="340.1" r="0.4"/><circle cx="322.3" cy="343.1" r="0.4"/><circle cx="358.5" cy="331.9" r="0.4"/><circle cx="343.6" cy="336.7" r="0.4"/><circle cx="328.0" cy="334.3" r="0.4"/><circle cx="329.3" cy="330.1" r="0.4"/><circle cx="318.8" cy="346.1" r="0.4"/><circle cx="330.8" cy="340.0" r="0.4"/><circle cx="333.8" cy="339.6" r="0.4"/><circle cx="317.3" cy="331.8" r="0.4"/><circle cx="336.7" cy="342.5" r="0.4"/><circle cx="320.7" cy="333.8" r="0.4"/><circle cx="321.4" cy="340.6" r="0.4"/><circle cx="334.1" cy="337.2" r="0.4"/><circle cx="325.2" cy="338.9" r="0.4"/><circle cx="331.3" cy="332.9" r="0.4"/><circle cx="334.0" cy="333.3" r="0.4"/><circle cx="339.6" cy="340.4" r="0.4"/><circle cx="324.8" cy="340.2" r="0.4"/><circle cx="331.6" cy="333.1" r="0.4"/><circle cx="322.8" cy="327.9" r="0.4"/><circle cx="320.8" cy="338.9" r="0.4"/><circle cx="341.9" cy="333.5" r="0.4"/><circle cx="332.4" cy="338.9" r="0.4"/><circle cx="338.0" cy="339.4" r="0.4"/><circle cx="342.0" cy="341.2" r="0.4"/><circle cx="324.1" cy="339.2" r="0.4"/><circle cx="309.9" cy="336.0" r="0.4"/><circle cx="331.2" cy="340.2" r="0.4"/><circle cx="328.3" cy="341.6" r="0.4"/><circle cx="342.9" cy="332.4" r="0.4"/><circle cx="326.1" cy="338.4" r="0.4"/><circle cx="335.4" cy="337.8" r="0.4"/><circle cx="338.5" cy="330.5" r="0.4"/><circle cx="338.0" cy="343.4" r="0.4"/><circle cx="341.0" cy="339.3" r="0.4"/><circle cx="328.9" cy="339.2" r="0.4"/><circle cx="330.3" cy="328.3" r="0.4"/><circle cx="325.6" cy="336.8" r="0.4"/><circle cx="326.4" cy="331.9" r="0.4"/><circle cx="328.9" cy="335.0" r="0.4"/><circle cx="331.6" cy="336.7" r="0.4"/><circle cx="332.5" cy="342.5" r="0.4"/><circle cx="332.2" cy="339.2" r="0.4"/><circle cx="320.0" cy="320.8" r="0.4"/><circle cx="327.4" cy="340.7" r="0.4"/><circle cx="327.9" cy="333.6" r="0.4"/><circle cx="319.8" cy="341.9" r="0.4"/><circle cx="326.3" cy="338.3" r="0.4"/><circle cx="341.2" cy="339.9" r="0.4"/><circle cx="351.2" cy="336.3" r="0.4"/><circle cx="339.6" cy="340.8" r="0.4"/><circle cx="325.1" cy="337.3" r="0.4"/><circle cx="325.9" cy="331.4" r="0.4"/><circle cx="333.7" cy="332.7" r="0.4"/><circle cx="346.1" cy="332.9" r="0.4"/><circle cx="326.1" cy="337.5" r="0.4"/><circle cx="326.3" cy="337.3" r="0.4"/><circle cx="325.5" cy="329.2" r="0.4"/><circle cx="309.3" cy="329.9" r="0.4"/><circle cx="344.7" cy="339.4" r="0.4"/><circle cx="332.4" cy="334.4" r="0.4"/><circle cx="329.7" cy="338.6" r="0.4"/><circle cx="318.5" cy="332.6" r="0.4"/><circle cx="323.0" cy="343.9" r="0.4"/><circle cx="321.5" cy="343.4" r="0.4"/><circle cx="326.8" cy="352.0" r="0.4"/><circle cx="330.3" cy="337.2" r="0.4"/><circle cx="343.2" cy="341.8" r="0.4"/><circle cx="339.5" cy="331.1" r="0.4"/></g>
<g filter="url(#blur1)">
<path d="M316.5,338 C316.5,331 324,329.5 328.5,331.8 C330.5,333 331.5,335.5 333.5,335.8 C337.5,334.5 344.5,334 345.5,337.5 C346.2,341 340.5,342.8 336,341.6 C333.5,341 331,342.2 329,343.6 C324,346 316.5,345 316.5,338 Z" fill="#2a4db5" stroke="none" stroke-width="1"/>
<ellipse cx="321.5" cy="337.8" rx="4.4" ry="4.6" fill="url(#hot)"/>
</g>
<g filter="url(#blur1)">
<path d="M372,337 C372,330.5 378,328.5 383,330.5 C385,331.3 387,331.5 388.5,330 C389,323 390.5,316 394,313.2 C397,311 401,312.5 401.5,316.5 C402,321.5 399.5,327 398,331.8 C401,332.5 403,334.5 402.6,337.5 C402,340.5 397,341 393,340.5 C389,340.2 386,341.5 383,343 C377.5,345.5 372,343.5 372,337 Z" fill="#2a4db5" stroke="none" stroke-width="1"/>
<ellipse cx="394.5" cy="320.5" rx="2.8" ry="4.5" transform="rotate(20 394.5 320.5)" fill="#3aa0f0" opacity="0.75"/>
<ellipse cx="393.5" cy="337.8" rx="4" ry="2" fill="#3aa0f0" opacity="0.7"/>
<ellipse cx="377.7" cy="336.5" rx="5.6" ry="5.8" fill="url(#hot)"/>
</g>
<g fill="#555" opacity="0.4"><circle cx="404.8" cy="343.4" r="0.3"/><circle cx="397.4" cy="326.1" r="0.3"/><circle cx="391.5" cy="338.1" r="0.3"/><circle cx="399.8" cy="330.1" r="0.3"/><circle cx="390.6" cy="343.0" r="0.3"/><circle cx="403.3" cy="329.8" r="0.3"/><circle cx="406.9" cy="322.4" r="0.3"/><circle cx="403.3" cy="322.0" r="0.3"/><circle cx="406.5" cy="327.8" r="0.3"/><circle cx="405.3" cy="326.7" r="0.3"/><circle cx="400.4" cy="339.1" r="0.3"/><circle cx="392.6" cy="330.8" r="0.3"/><circle cx="393.0" cy="336.8" r="0.3"/><circle cx="394.4" cy="327.0" r="0.3"/><circle cx="396.8" cy="339.3" r="0.3"/><circle cx="391.8" cy="329.8" r="0.3"/><circle cx="396.0" cy="325.6" r="0.3"/><circle cx="393.3" cy="328.7" r="0.3"/><circle cx="399.2" cy="317.6" r="0.3"/><circle cx="399.4" cy="320.5" r="0.3"/><circle cx="398.1" cy="348.2" r="0.3"/><circle cx="392.2" cy="329.5" r="0.3"/><circle cx="396.5" cy="337.9" r="0.3"/><circle cx="395.2" cy="315.7" r="0.3"/><circle cx="388.3" cy="331.4" r="0.3"/></g>
<rect x="311.3" y="298.2" width="50.69999999999999" height="50.6" fill="none" stroke="#111" stroke-width="0.9"/>
<line x1="310.1" y1="302.41666666666663" x2="311.3" y2="302.41666666666663" stroke="#111" stroke-width="0.5"/>
<line x1="310.1" y1="306.6333333333333" x2="311.3" y2="306.6333333333333" stroke="#111" stroke-width="0.5"/>
<line x1="310.1" y1="310.84999999999997" x2="311.3" y2="310.84999999999997" stroke="#111" stroke-width="0.5"/>
<line x1="310.1" y1="315.06666666666666" x2="311.3" y2="315.06666666666666" stroke="#111" stroke-width="0.5"/>
<line x1="310.1" y1="319.2833333333333" x2="311.3" y2="319.2833333333333" stroke="#111" stroke-width="0.5"/>
<line x1="310.1" y1="323.5" x2="311.3" y2="323.5" stroke="#111" stroke-width="0.5"/>
<line x1="310.1" y1="327.71666666666664" x2="311.3" y2="327.71666666666664" stroke="#111" stroke-width="0.5"/>
<line x1="310.1" y1="331.93333333333334" x2="311.3" y2="331.93333333333334" stroke="#111" stroke-width="0.5"/>
<line x1="310.1" y1="336.15" x2="311.3" y2="336.15" stroke="#111" stroke-width="0.5"/>
<line x1="310.1" y1="340.3666666666667" x2="311.3" y2="340.3666666666667" stroke="#111" stroke-width="0.5"/>
<line x1="310.1" y1="344.5833333333333" x2="311.3" y2="344.5833333333333" stroke="#111" stroke-width="0.5"/>
<line x1="314.46875" y1="348.8" x2="314.46875" y2="350" stroke="#111" stroke-width="0.5"/>
<line x1="317.6375" y1="348.8" x2="317.6375" y2="350" stroke="#111" stroke-width="0.5"/>
<line x1="320.80625000000003" y1="348.8" x2="320.80625000000003" y2="350" stroke="#111" stroke-width="0.5"/>
<line x1="323.975" y1="348.8" x2="323.975" y2="350" stroke="#111" stroke-width="0.5"/>
<line x1="327.14375" y1="348.8" x2="327.14375" y2="350" stroke="#111" stroke-width="0.5"/>
<line x1="330.3125" y1="348.8" x2="330.3125" y2="350" stroke="#111" stroke-width="0.5"/>
<line x1="333.48125" y1="348.8" x2="333.48125" y2="350" stroke="#111" stroke-width="0.5"/>
<line x1="336.65" y1="348.8" x2="336.65" y2="350" stroke="#111" stroke-width="0.5"/>
<line x1="339.81875" y1="348.8" x2="339.81875" y2="350" stroke="#111" stroke-width="0.5"/>
<line x1="342.9875" y1="348.8" x2="342.9875" y2="350" stroke="#111" stroke-width="0.5"/>
<line x1="346.15625" y1="348.8" x2="346.15625" y2="350" stroke="#111" stroke-width="0.5"/>
<line x1="349.325" y1="348.8" x2="349.325" y2="350" stroke="#111" stroke-width="0.5"/>
<line x1="352.49375" y1="348.8" x2="352.49375" y2="350" stroke="#111" stroke-width="0.5"/>
<line x1="355.6625" y1="348.8" x2="355.6625" y2="350" stroke="#111" stroke-width="0.5"/>
<line x1="358.83125" y1="348.8" x2="358.83125" y2="350" stroke="#111" stroke-width="0.5"/>
<rect x="368.3" y="298.2" width="50.69999999999999" height="50.6" fill="none" stroke="#111" stroke-width="0.9"/>
<line x1="367.1" y1="302.41666666666663" x2="368.3" y2="302.41666666666663" stroke="#111" stroke-width="0.5"/>
<line x1="367.1" y1="306.6333333333333" x2="368.3" y2="306.6333333333333" stroke="#111" stroke-width="0.5"/>
<line x1="367.1" y1="310.84999999999997" x2="368.3" y2="310.84999999999997" stroke="#111" stroke-width="0.5"/>
<line x1="367.1" y1="315.06666666666666" x2="368.3" y2="315.06666666666666" stroke="#111" stroke-width="0.5"/>
<line x1="367.1" y1="319.2833333333333" x2="368.3" y2="319.2833333333333" stroke="#111" stroke-width="0.5"/>
<line x1="367.1" y1="323.5" x2="368.3" y2="323.5" stroke="#111" stroke-width="0.5"/>
<line x1="367.1" y1="327.71666666666664" x2="368.3" y2="327.71666666666664" stroke="#111" stroke-width="0.5"/>
<line x1="367.1" y1="331.93333333333334" x2="368.3" y2="331.93333333333334" stroke="#111" stroke-width="0.5"/>
<line x1="367.1" y1="336.15" x2="368.3" y2="336.15" stroke="#111" stroke-width="0.5"/>
<line x1="367.1" y1="340.3666666666667" x2="368.3" y2="340.3666666666667" stroke="#111" stroke-width="0.5"/>
<line x1="367.1" y1="344.5833333333333" x2="368.3" y2="344.5833333333333" stroke="#111" stroke-width="0.5"/>
<line x1="371.46875" y1="348.8" x2="371.46875" y2="350" stroke="#111" stroke-width="0.5"/>
<line x1="374.6375" y1="348.8" x2="374.6375" y2="350" stroke="#111" stroke-width="0.5"/>
<line x1="377.80625000000003" y1="348.8" x2="377.80625000000003" y2="350" stroke="#111" stroke-width="0.5"/>
<line x1="380.975" y1="348.8" x2="380.975" y2="350" stroke="#111" stroke-width="0.5"/>
<line x1="384.14375" y1="348.8" x2="384.14375" y2="350" stroke="#111" stroke-width="0.5"/>
<line x1="387.3125" y1="348.8" x2="387.3125" y2="350" stroke="#111" stroke-width="0.5"/>
<line x1="390.48125" y1="348.8" x2="390.48125" y2="350" stroke="#111" stroke-width="0.5"/>
<line x1="393.65" y1="348.8" x2="393.65" y2="350" stroke="#111" stroke-width="0.5"/>
<line x1="396.81875" y1="348.8" x2="396.81875" y2="350" stroke="#111" stroke-width="0.5"/>
<line x1="399.9875" y1="348.8" x2="399.9875" y2="350" stroke="#111" stroke-width="0.5"/>
<line x1="403.15625" y1="348.8" x2="403.15625" y2="350" stroke="#111" stroke-width="0.5"/>
<line x1="406.325" y1="348.8" x2="406.325" y2="350" stroke="#111" stroke-width="0.5"/>
<line x1="409.49375" y1="348.8" x2="409.49375" y2="350" stroke="#111" stroke-width="0.5"/>
<line x1="412.6625" y1="348.8" x2="412.6625" y2="350" stroke="#111" stroke-width="0.5"/>
<line x1="415.83125" y1="348.8" x2="415.83125" y2="350" stroke="#111" stroke-width="0.5"/>
<ellipse cx="338.7" cy="315.5" rx="10" ry="15" transform="rotate(25 338.7 315.5)" fill="none" stroke="#555" stroke-width="0.6"/>
<ellipse cx="395.5" cy="316.8" rx="10.5" ry="14.5" transform="rotate(22 395.5 316.8)" fill="none" stroke="#555" stroke-width="0.6"/>
<text x="316.2" y="304.8" font-size="7.8" text-anchor="start" fill="#111" textLength="19.6" lengthAdjust="spacingAndGlyphs" stroke="#111" stroke-width="0.06">0.27%</text>
<text x="371.7" y="304.8" font-size="7.8" text-anchor="start" fill="#2f6fb0" textLength="20.3" lengthAdjust="spacingAndGlyphs" stroke="#2f6fb0" stroke-width="0.06">9.82%</text>
<text x="307" y="305" font-size="6" text-anchor="end" fill="#111" stroke="#111" stroke-width="0.06">10<tspan dy="-2.5" font-size="4.5">5</tspan></text>
<text x="307" y="316.5" font-size="6" text-anchor="end" fill="#111" stroke="#111" stroke-width="0.06">10<tspan dy="-2.5" font-size="4.5">4</tspan></text>
<text x="307" y="328.3" font-size="6" text-anchor="end" fill="#111" stroke="#111" stroke-width="0.06">10<tspan dy="-2.5" font-size="4.5">3</tspan></text>
<text x="307" y="342.5" font-size="6" text-anchor="end" fill="#111" stroke="#111" stroke-width="0.06">0</text>
<text x="321.3" y="357.8" font-size="6" text-anchor="middle" fill="#111" stroke="#111" stroke-width="0.06">0</text>
<text x="341.3" y="357.8" font-size="6" text-anchor="middle" fill="#111" stroke="#111" stroke-width="0.06">10<tspan dy="-2.5" font-size="4.5">3</tspan></text>
<text x="357.0" y="357.8" font-size="6" text-anchor="middle" fill="#111" stroke="#111" stroke-width="0.06">10<tspan dy="-2.5" font-size="4.5">4</tspan></text>
<text x="378.3" y="357.8" font-size="6" text-anchor="middle" fill="#111" stroke="#111" stroke-width="0.06">0</text>
<text x="398.3" y="357.8" font-size="6" text-anchor="middle" fill="#111" stroke="#111" stroke-width="0.06">10<tspan dy="-2.5" font-size="4.5">3</tspan></text>
<text x="414.0" y="357.8" font-size="6" text-anchor="middle" fill="#111" stroke="#111" stroke-width="0.06">10<tspan dy="-2.5" font-size="4.5">4</tspan></text>
<line x1="289.5" y1="349" x2="289.5" y2="365.8" stroke="#111" stroke-width="0.9"/>
<line x1="289.3" y1="365.5" x2="398.5" y2="365.5" stroke="#111" stroke-width="0.9"/>
<polygon points="289.3,345.5 286.8,350 291.8,350" stroke="none" stroke-width="1" fill="#111"/>
<polygon points="401.5,365.8 397.3,363.3 397.3,368.3" stroke="none" stroke-width="1" fill="#111"/>
<text x="404.6" y="368.5" font-size="8" text-anchor="start" fill="#111" stroke="#111" stroke-width="0.06">Tcrβ</text>
<text x="292.4" y="318.5" font-size="8.5" text-anchor="middle" fill="#111" textLength="50.7" lengthAdjust="spacingAndGlyphs" transform="rotate(-90 292.4 318.5)" stroke="#111" stroke-width="0.25">CD1d-tetramer</text>
<line x1="465.5" y1="290" x2="465.5" y2="369.5" stroke="#111" stroke-width="1.15"/>
<line x1="461.7" y1="293.5" x2="465.2" y2="293.5" stroke="#111" stroke-width="1.1"/>
<text x="459.59999999999997" y="296.74" font-size="8.5" text-anchor="end" fill="#111" stroke="#111" stroke-width="0.06">10<tspan dy="-3" font-size="5.5">6</tspan></text>
<line x1="461.7" y1="318.5" x2="465.2" y2="318.5" stroke="#111" stroke-width="1.1"/>
<text x="459.59999999999997" y="321.74" font-size="8.5" text-anchor="end" fill="#111" stroke="#111" stroke-width="0.06">10<tspan dy="-3" font-size="5.5">5</tspan></text>
<line x1="461.7" y1="343.5" x2="465.2" y2="343.5" stroke="#111" stroke-width="1.1"/>
<text x="459.59999999999997" y="346.94" font-size="8.5" text-anchor="end" fill="#111" stroke="#111" stroke-width="0.06">10<tspan dy="-3" font-size="5.5">4</tspan></text>
<line x1="461.7" y1="369.5" x2="465.2" y2="369.5" stroke="#111" stroke-width="1.1"/>
<text x="459.59999999999997" y="372.04" font-size="8.5" text-anchor="end" fill="#111" stroke="#111" stroke-width="0.06">10<tspan dy="-3" font-size="5.5">3</tspan></text>
<line x1="465.2" y1="369.5" x2="513.6" y2="369.5" stroke="#111" stroke-width="1.15"/>
<line x1="477.5" y1="369" x2="477.5" y2="371.5" stroke="#111" stroke-width="1.1"/>
<line x1="501.5" y1="369" x2="501.5" y2="371.5" stroke="#111" stroke-width="1.1"/>
<polyline points="477.5,298.5 477.5,295.5 501.5,295.5 501.5,298.5" stroke="#111" stroke-width="0.9" fill="none"/>
<circle cx="484.55" cy="291.9" r="1.05" fill="#1a1a1a"/>
<circle cx="487.65" cy="291.9" r="1.05" fill="#1a1a1a"/>
<circle cx="490.75" cy="291.9" r="1.05" fill="#1a1a1a"/>
<circle cx="493.85" cy="291.9" r="1.05" fill="#1a1a1a"/>
<circle cx="472.9" cy="341.2" r="1.5" fill="#c4162f"/>
<circle cx="474" cy="337" r="1.5" fill="#c4162f"/>
<circle cx="477.4" cy="336.3" r="1.5" fill="#c4162f"/>
<circle cx="482" cy="336.6" r="1.5" fill="#c4162f"/>
<circle cx="481.6" cy="340.3" r="1.5" fill="#c4162f"/>
<circle cx="479.5" cy="338.5" r="1.5" fill="#c4162f"/>
<circle cx="476" cy="339.5" r="1.5" fill="#c4162f"/>
<polygon points="498.1,302.09999999999997 496.3,305.34 499.90000000000003,305.34" stroke="none" stroke-width="1" fill="#0b4f9a"/>
<polygon points="501.4,301.0 499.59999999999997,304.24 503.2,304.24" stroke="none" stroke-width="1" fill="#0b4f9a"/>
<polygon points="505.4,302.9 503.59999999999997,306.14 507.2,306.14" stroke="none" stroke-width="1" fill="#0b4f9a"/>
<polygon points="499,311.09999999999997 497.2,314.34 500.8,314.34" stroke="none" stroke-width="1" fill="#0b4f9a"/>
<polygon points="503.6,311.09999999999997 501.8,314.34 505.40000000000003,314.34" stroke="none" stroke-width="1" fill="#0b4f9a"/>
<polygon points="501.4,305.2 499.59999999999997,308.44 503.2,308.44" stroke="none" stroke-width="1" fill="#0b4f9a"/>
<polygon points="503,303.7 501.2,306.94 504.8,306.94" stroke="none" stroke-width="1" fill="#0b4f9a"/>
<line x1="470.5" y1="338.5" x2="484" y2="338.5" stroke="#111" stroke-width="1.1"/>
<line x1="495" y1="306.5" x2="508" y2="306.5" stroke="#111" stroke-width="1.1"/>
<text x="465.6" y="378.8" font-size="8" text-anchor="end" fill="#111" stroke="#111" stroke-width="0.06">DC:</text>
<line x1="475.5" y1="375.90000000000003" x2="479.29999999999995" y2="375.90000000000003" stroke="#111" stroke-width="0.9"/>
<text x="501.4" y="378.8" font-size="8" text-anchor="middle" fill="#111" stroke="#111" stroke-width="0.06">+</text>
<text x="442.3" y="329.5" font-size="9" text-anchor="middle" fill="#111" textLength="58.3" lengthAdjust="spacingAndGlyphs" font-weight="bold" transform="rotate(-90 442.3 329.5)">No. of BM iNKT cells</text>
<text x="6.65" y="425.5" font-size="11.3" text-anchor="start" fill="#000" font-weight="bold">H</text>
<line x1="23" y1="473.5" x2="89.5" y2="473.5" stroke="#111" stroke-width="1.2"/>
<polygon points="92.5,473.8 88.0,471.2 88.0,476.40000000000003" stroke="none" stroke-width="1" fill="#111"/>
<line x1="23.5" y1="471.6" x2="23.5" y2="479.6" stroke="#111" stroke-width="1.2"/>
<line x1="54.5" y1="473.8" x2="54.5" y2="479.6" stroke="#111" stroke-width="1.2"/>
<line x1="70.5" y1="473.8" x2="70.5" y2="479.6" stroke="#111" stroke-width="1.2"/>
<line x1="54.5" y1="451.8" x2="54.5" y2="470.8" stroke="#3a6ea8" stroke-width="1.1"/>
<polygon points="54.5,473.3 52.1,469.0 56.9,469.0" stroke="none" stroke-width="1" fill="#1d4f8a"/>
<line x1="70.5" y1="461.3" x2="70.5" y2="470.8" stroke="#c4162f" stroke-width="1.1"/>
<polygon points="70.5,473.3 68.1,469.0 72.9,469.0" stroke="none" stroke-width="1" fill="#c4162f"/>
<text x="54.5" y="448.8" font-size="8" text-anchor="middle" fill="#111" stroke="#111" stroke-width="0.06">DC</text>
<text x="70.5" y="459.3" font-size="8" text-anchor="middle" fill="#111" stroke="#111" stroke-width="0.06">BsAb</text>
<text x="22.8" y="459.5" font-size="8" text-anchor="middle" fill="#111" stroke="#111" stroke-width="0.06">Vk14451</text>
<text x="23" y="469.0" font-size="8" text-anchor="middle" fill="#111" stroke="#111" stroke-width="0.06">i.v.</text>
<text x="23" y="488.8" font-size="8" text-anchor="middle" fill="#111" stroke="#111" stroke-width="0.06">Day 0</text>
<text x="54.5" y="488.8" font-size="8" text-anchor="middle" fill="#111" stroke="#111" stroke-width="0.06">32</text>
<text x="70.5" y="488.8" font-size="8" text-anchor="middle" fill="#111" stroke="#111" stroke-width="0.06">35</text>
<text x="125.1" y="425.4" font-size="11.3" text-anchor="start" fill="#000" font-weight="bold">I</text>
<line x1="153.5" y1="429.5" x2="153.5" y2="499.7" stroke="#111" stroke-width="1.15"/>
<line x1="150.15" y1="433.5" x2="153.65" y2="433.5" stroke="#111" stroke-width="1.1"/>
<text x="148.05" y="436.84" font-size="8.5" text-anchor="end" fill="#111" stroke="#111" stroke-width="0.06">40</text>
<line x1="150.15" y1="450.5" x2="153.65" y2="450.5" stroke="#111" stroke-width="1.1"/>
<text x="148.05" y="453.44" font-size="8.5" text-anchor="end" fill="#111" stroke="#111" stroke-width="0.06">30</text>
<line x1="150.15" y1="466.5" x2="153.65" y2="466.5" stroke="#111" stroke-width="1.1"/>
<text x="148.05" y="469.74" font-size="8.5" text-anchor="end" fill="#111" stroke="#111" stroke-width="0.06">20</text>
<line x1="150.15" y1="482.5" x2="153.65" y2="482.5" stroke="#111" stroke-width="1.1"/>
<text x="148.05" y="485.94" font-size="8.5" text-anchor="end" fill="#111" stroke="#111" stroke-width="0.06">10</text>
<line x1="150.15" y1="499.5" x2="153.65" y2="499.5" stroke="#111" stroke-width="1.1"/>
<text x="148.05" y="502.24" font-size="8.5" text-anchor="end" fill="#111" stroke="#111" stroke-width="0.06">0</text>
<line x1="153.65" y1="499.5" x2="249.8" y2="499.5" stroke="#111" stroke-width="1.15"/>
<line x1="163.5" y1="499.2" x2="163.5" y2="501.7" stroke="#111" stroke-width="1.1"/>
<line x1="181.5" y1="499.2" x2="181.5" y2="501.7" stroke="#111" stroke-width="1.1"/>
<line x1="200.5" y1="499.2" x2="200.5" y2="501.7" stroke="#111" stroke-width="1.1"/>
<line x1="218.5" y1="499.2" x2="218.5" y2="501.7" stroke="#111" stroke-width="1.1"/>
<line x1="239.5" y1="499.2" x2="239.5" y2="501.7" stroke="#111" stroke-width="1.1"/>
<line x1="228.5" y1="429" x2="228.5" y2="499" stroke="#111" stroke-width="1" stroke-dasharray="2.6,1.8"/>
<path d="M162.8,465.5 L161.3,466.5 L161.0,470.0 L161.0,475.0 L160.3,480.0 L159.5,485.0 L158.8,489.0 L158.9,492.0 L159.8,494.5 L162.3,495.6 L164.3,495.6 L166.8,494.5 L167.7,492.0 L167.8,489.0 L167.1,485.0 L166.3,480.0 L165.6,475.0 L165.6,470.0 L165.3,466.5 L163.8,465.5 Z" fill="#a070b8" stroke="#6a2c8e" stroke-width="0.8" fill-opacity="0.7"/>
<path d="M180.8,472.3 L178.3,473.0 L178.3,476.0 L179.1,480.0 L179.1,484.0 L178.1,487.0 L177.1,490.0 L177.1,493.0 L178.1,496.0 L180.6,497.4 L181.6,497.4 L184.1,496.0 L185.1,493.0 L185.1,490.0 L184.1,487.0 L183.1,484.0 L183.1,480.0 L183.9,476.0 L183.9,473.0 L181.4,472.3 Z" fill="#6f9fd0" stroke="#0b4f9a" stroke-width="0.8" fill-opacity="0.65"/>
<path d="M199.9,446.9 L199.1,448.0 L199.0,456.0 L198.9,466.0 L198.4,474.0 L197.4,480.0 L196.4,486.0 L195.9,490.0 L196.2,494.0 L199.2,497.4 L201.2,497.4 L204.2,494.0 L204.5,490.0 L204.0,486.0 L203.0,480.0 L202.0,474.0 L201.5,466.0 L201.4,456.0 L201.3,448.0 L200.5,446.9 Z" fill="#e07a8a" stroke="#c4162f" stroke-width="0.8" fill-opacity="0.6"/>
<line x1="213.5" y1="498.5" x2="222.7" y2="498.5" stroke="#3db54a" stroke-width="1.2"/>
<line x1="218.1" y1="493.5" x2="218.1" y2="498.3" stroke="#3db54a" stroke-width="0.7"/>
<line x1="234.8" y1="498.5" x2="244" y2="498.5" stroke="#f0a030" stroke-width="2"/>
<circle cx="161.5" cy="466.5" r="0.9" fill="#6a2c8e"/>
<circle cx="165" cy="466.5" r="0.9" fill="#6a2c8e"/>
<circle cx="163.3" cy="471" r="0.9" fill="#6a2c8e"/>
<circle cx="161.5" cy="478" r="0.9" fill="#6a2c8e"/>
<circle cx="165" cy="480" r="0.9" fill="#6a2c8e"/>
<circle cx="163.3" cy="485" r="0.9" fill="#6a2c8e"/>
<circle cx="161" cy="489" r="0.9" fill="#6a2c8e"/>
<circle cx="165.5" cy="491" r="0.9" fill="#6a2c8e"/>
<circle cx="162" cy="494.5" r="0.9" fill="#6a2c8e"/>
<circle cx="165" cy="494.5" r="0.9" fill="#6a2c8e"/>
<circle cx="179.5" cy="473" r="0.9" fill="#0b4f9a"/>
<circle cx="183" cy="473" r="0.9" fill="#0b4f9a"/>
<circle cx="181.1" cy="478" r="0.9" fill="#0b4f9a"/>
<circle cx="179.5" cy="486" r="0.9" fill="#0b4f9a"/>
<circle cx="183" cy="488" r="0.9" fill="#0b4f9a"/>
<circle cx="180" cy="491" r="0.9" fill="#0b4f9a"/>
<circle cx="182.5" cy="494" r="0.9" fill="#0b4f9a"/>
<circle cx="181.1" cy="496.5" r="0.9" fill="#0b4f9a"/>
<circle cx="200.2" cy="448" r="0.9" fill="#c4162f"/>
<circle cx="200.2" cy="456" r="0.9" fill="#c4162f"/>
<circle cx="200.2" cy="466" r="0.9" fill="#c4162f"/>
<circle cx="200.2" cy="478" r="0.9" fill="#c4162f"/>
<circle cx="198.5" cy="488" r="0.9" fill="#c4162f"/>
<circle cx="201.5" cy="490" r="0.9" fill="#c4162f"/>
<circle cx="197.5" cy="494" r="0.9" fill="#c4162f"/>
<circle cx="202.5" cy="494.5" r="0.9" fill="#c4162f"/>
<circle cx="200.2" cy="496.5" r="0.9" fill="#c4162f"/>
<circle cx="216.5" cy="497.5" r="0.9" fill="#3db54a"/>
<circle cx="218.1" cy="495.5" r="0.9" fill="#3db54a"/>
<circle cx="219.8" cy="497.5" r="0.9" fill="#3db54a"/>
<line x1="159.8" y1="485.5" x2="166.8" y2="485.5" stroke="#111" stroke-width="1"/>
<line x1="177.6" y1="490.5" x2="184.6" y2="490.5" stroke="#111" stroke-width="1"/>
<line x1="196.7" y1="491.5" x2="203.7" y2="491.5" stroke="#111" stroke-width="1"/>
<polyline points="160.5,433.5 160.5,429.5 220.5,429.5 220.5,475.5" stroke="#111" stroke-width="0.9" fill="none"/>
<polyline points="179.5,439.5 179.5,436.5 217.5,436.5 217.5,475.5" stroke="#111" stroke-width="0.9" fill="none"/>
<polyline points="198.5,445.5 198.5,442.5 214.5,442.5 214.5,475.5" stroke="#111" stroke-width="0.9" fill="none"/>
<circle cx="187.20" cy="426.3" r="1.05" fill="#1a1a1a"/>
<circle cx="190.30" cy="426.3" r="1.05" fill="#1a1a1a"/>
<circle cx="193.40" cy="426.3" r="1.05" fill="#1a1a1a"/>
<circle cx="196.75" cy="433.5" r="1.05" fill="#1a1a1a"/>
<circle cx="199.85" cy="433.5" r="1.05" fill="#1a1a1a"/>
<circle cx="204.95" cy="439.9" r="1.05" fill="#1a1a1a"/>
<circle cx="208.05" cy="439.9" r="1.05" fill="#1a1a1a"/>
<text x="153.2" y="510.3" font-size="8" text-anchor="end" fill="#111" stroke="#111" stroke-width="0.06">DC:</text>
<text x="153.2" y="520" font-size="8" text-anchor="end" fill="#111" stroke="#111" stroke-width="0.06">BsAb:</text>
<line x1="161.4" y1="507.40000000000003" x2="165.20000000000002" y2="507.40000000000003" stroke="#111" stroke-width="0.9"/>
<text x="181.1" y="510.3" font-size="8" text-anchor="middle" fill="#111" stroke="#111" stroke-width="0.06">+</text>
<line x1="198.29999999999998" y1="507.40000000000003" x2="202.1" y2="507.40000000000003" stroke="#111" stroke-width="0.9"/>
<text x="218.1" y="510.3" font-size="8" text-anchor="middle" fill="#111" stroke="#111" stroke-width="0.06">+</text>
<line x1="161.4" y1="517.1" x2="165.20000000000002" y2="517.1" stroke="#111" stroke-width="0.9"/>
<line x1="179.2" y1="517.1" x2="183.0" y2="517.1" stroke="#111" stroke-width="0.9"/>
<text x="200.2" y="520" font-size="8" text-anchor="middle" fill="#111" stroke="#111" stroke-width="0.06">+</text>
<text x="218.1" y="520" font-size="8" text-anchor="middle" fill="#111" stroke="#111" stroke-width="0.06">+</text>
<text x="239.1" y="510.3" font-size="8" text-anchor="middle" fill="#111" stroke="#111" stroke-width="0.06">Naive</text>
<text x="132.9" y="465.4" font-size="9" text-anchor="middle" fill="#111" textLength="62.7" lengthAdjust="spacingAndGlyphs" transform="rotate(-90 132.9 465.4)" stroke="#111" stroke-width="0.25">Serum IgG2b (mg/ml)</text>
<text x="273.96" y="425.5" font-size="11.3" text-anchor="start" fill="#000" font-weight="bold" transform="translate(273.96 425.5) scale(0.8 1) translate(-273.96 -425.5)">J</text>
<line x1="314.5" y1="430" x2="314.5" y2="499.8" stroke="#111" stroke-width="1.15"/>
<line x1="311.0" y1="434.5" x2="314.5" y2="434.5" stroke="#111" stroke-width="1.1"/>
<text x="308.9" y="437.34" font-size="8.5" text-anchor="end" fill="#111" stroke="#111" stroke-width="0.06">100</text>
<line x1="311.0" y1="466.5" x2="314.5" y2="466.5" stroke="#111" stroke-width="1.1"/>
<text x="308.9" y="469.84" font-size="8.5" text-anchor="end" fill="#111" stroke="#111" stroke-width="0.06">50</text>
<line x1="311.0" y1="499.5" x2="314.5" y2="499.5" stroke="#111" stroke-width="1.1"/>
<text x="308.9" y="502.34" font-size="8.5" text-anchor="end" fill="#111" stroke="#111" stroke-width="0.06">0</text>
<line x1="314.5" y1="499.5" x2="427.9" y2="499.5" stroke="#111" stroke-width="1.15"/>
<line x1="314.5" y1="499.3" x2="314.5" y2="501.8" stroke="#111" stroke-width="1.1"/>
<line x1="342.5" y1="499.3" x2="342.5" y2="501.8" stroke="#111" stroke-width="1.1"/>
<line x1="369.5" y1="499.3" x2="369.5" y2="501.8" stroke="#111" stroke-width="1.1"/>
<line x1="397.5" y1="499.3" x2="397.5" y2="501.8" stroke="#111" stroke-width="1.1"/>
<line x1="424.5" y1="499.3" x2="424.5" y2="501.8" stroke="#111" stroke-width="1.1"/>
<text x="314.5" y="510.5" font-size="8" text-anchor="middle" fill="#111" stroke="#111" stroke-width="0.06">0</text>
<text x="342" y="510.5" font-size="8" text-anchor="middle" fill="#111" stroke="#111" stroke-width="0.06">20</text>
<text x="369.5" y="510.5" font-size="8" text-anchor="middle" fill="#111" stroke="#111" stroke-width="0.06">40</text>
<text x="397" y="510.5" font-size="8" text-anchor="middle" fill="#111" stroke="#111" stroke-width="0.06">60</text>
<text x="424.4" y="510.5" font-size="8" text-anchor="middle" fill="#111" stroke="#111" stroke-width="0.06">80</text>
<polyline points="314.5,434.5 348.5,434.5 348.5,440.5 357.5,440.5 357.5,447.5 369.5,447.5 369.5,453.5 382.5,453.5 382.5,460.5 392.5,460.5 392.5,466.5 394.5,466.5 394.5,473.5 408.5,473.5 408.5,479.5 410.5,479.5 410.5,486.5 424.5,486.5" stroke="#3db54a" stroke-width="1.1" fill="none"/>
<circle cx="348.1875" cy="440.8" r="1.3" fill="#3db54a"/>
<circle cx="357.125" cy="447.3" r="1.3" fill="#3db54a"/>
<circle cx="369.5" cy="453.8" r="1.3" fill="#3db54a"/>
<circle cx="382.5625" cy="460.3" r="1.3" fill="#3db54a"/>
<circle cx="392.875" cy="466.8" r="1.3" fill="#3db54a"/>
<circle cx="394.25" cy="473.3" r="1.3" fill="#3db54a"/>
<circle cx="408.6875" cy="479.8" r="1.3" fill="#3db54a"/>
<circle cx="410.75" cy="486.3" r="1.3" fill="#3db54a"/>
<polyline points="314.5,434.5 333.5,434.5 333.5,440.5 335.5,440.5 335.5,447.5 336.5,447.5 336.5,453.5 342.5,453.5 342.5,466.5 348.5,466.5 348.5,473.5 350.5,473.5 350.5,486.5 355.5,486.5 355.5,492.5 382.5,492.5 382.5,499.5 382.5,499.5" stroke="#0b4f9a" stroke-width="1.1" fill="none"/>
<circle cx="333.75" cy="440.8" r="1.3" fill="#0b4f9a"/>
<circle cx="335.8125" cy="447.3" r="1.3" fill="#0b4f9a"/>
<circle cx="336.5" cy="453.8" r="1.3" fill="#0b4f9a"/>
<circle cx="342.0" cy="466.8" r="1.3" fill="#0b4f9a"/>
<circle cx="348.875" cy="473.3" r="1.3" fill="#0b4f9a"/>
<circle cx="350.25" cy="486.3" r="1.3" fill="#0b4f9a"/>
<circle cx="355.75" cy="492.8" r="1.3" fill="#0b4f9a"/>
<circle cx="382.5625" cy="499.3" r="1.3" fill="#0b4f9a"/>
<polyline points="314.5,434.5 339.5,434.5 339.5,440.5 342.5,440.5 342.5,447.5 345.5,447.5 345.5,453.5 353.5,453.5 353.5,460.5 354.5,460.5 354.5,473.5 357.5,473.5 357.5,479.5 359.5,479.5 359.5,486.5 365.5,486.5 365.5,492.5 368.5,492.5 368.5,499.5 368.5,499.5" stroke="#c4162f" stroke-width="1.1" fill="none"/>
<circle cx="339.25" cy="440.8" r="1.3" fill="#c4162f"/>
<circle cx="342.0" cy="447.3" r="1.3" fill="#c4162f"/>
<circle cx="345.4375" cy="453.8" r="1.3" fill="#c4162f"/>
<circle cx="353.0" cy="460.3" r="1.3" fill="#c4162f"/>
<circle cx="354.375" cy="473.3" r="1.3" fill="#c4162f"/>
<circle cx="357.125" cy="479.8" r="1.3" fill="#c4162f"/>
<circle cx="359.875" cy="486.3" r="1.3" fill="#c4162f"/>
<circle cx="365.375" cy="492.8" r="1.3" fill="#c4162f"/>
<circle cx="368.125" cy="499.3" r="1.3" fill="#c4162f"/>
<polyline points="314.5,434.5 329.5,434.5 329.5,440.5 332.5,440.5 332.5,447.5 335.5,447.5 335.5,453.5 337.5,453.5 337.5,466.5 342.5,466.5 342.5,473.5 344.5,473.5 344.5,479.5 347.5,479.5 347.5,492.5 357.5,492.5 357.5,499.5 357.5,499.5" stroke="#6a2c8e" stroke-width="1.1" fill="none"/>
<circle cx="329.625" cy="440.8" r="1.3" fill="#6a2c8e"/>
<circle cx="332.375" cy="447.3" r="1.3" fill="#6a2c8e"/>
<circle cx="335.125" cy="453.8" r="1.3" fill="#6a2c8e"/>
<circle cx="337.875" cy="466.8" r="1.3" fill="#6a2c8e"/>
<circle cx="342.0" cy="473.3" r="1.3" fill="#6a2c8e"/>
<circle cx="344.0625" cy="479.8" r="1.3" fill="#6a2c8e"/>
<circle cx="347.5" cy="492.8" r="1.3" fill="#6a2c8e"/>
<circle cx="357.125" cy="499.3" r="1.3" fill="#6a2c8e"/>
<text x="289.7" y="463.4" font-size="9" text-anchor="middle" fill="#111" textLength="47.2" lengthAdjust="spacingAndGlyphs" transform="rotate(-90 289.7 463.4)" stroke="#111" stroke-width="0.3">Percent survival</text>
<text x="333.7" y="524.5" font-size="9.2" text-anchor="start" fill="#111" textLength="74.4" lengthAdjust="spacingAndGlyphs" stroke="#111" stroke-width="0.3">Days after BsAb treatment</text>
<line x1="416.3" y1="433.5" x2="424.0" y2="433.5" stroke="#6a2c8e" stroke-width="1"/>
<circle cx="420.15000000000003" cy="433.5" r="1.3" fill="#6a2c8e"/>
<text x="427.3" y="436" font-size="7.3" text-anchor="start" fill="#111" stroke="#111" stroke-width="0.06">Control</text>
<line x1="416.3" y1="445.5" x2="424.0" y2="445.5" stroke="#0b4f9a" stroke-width="1"/>
<polygon points="420.15000000000003,443.90000000000003 418.75000000000006,446.42 421.55,446.42" stroke="none" stroke-width="1" fill="#0b4f9a"/>
<text x="427.3" y="447.8" font-size="7.3" text-anchor="start" fill="#111" stroke="#111" stroke-width="0.06">DC</text>
<line x1="416.3" y1="456.5" x2="424.0" y2="456.5" stroke="#c4162f" stroke-width="1"/>
<circle cx="420.15000000000003" cy="456.8" r="1.3" fill="#c4162f"/>
<text x="427.3" y="459.3" font-size="7.3" text-anchor="start" fill="#111" stroke="#111" stroke-width="0.06">BsAb</text>
<line x1="416.3" y1="468.5" x2="424.0" y2="468.5" stroke="#3db54a" stroke-width="1"/>
<polygon points="420.15000000000003,467.20000000000005 418.75000000000006,469.72 421.55,469.72" stroke="none" stroke-width="1" fill="#3db54a"/>
<text x="427.3" y="471.1" font-size="7.3" text-anchor="start" fill="#111" stroke="#111" stroke-width="0.06">DC + BsAb</text>
<polyline points="455.5,432.5 457.5,432.5 457.5,458.5 455.5,458.5" stroke="#111" stroke-width="0.9" fill="none"/>
<circle cx="460.95" cy="446.2" r="1.05" fill="#1a1a1a"/>
<circle cx="464.05" cy="446.2" r="1.05" fill="#1a1a1a"/>
<polyline points="469.5,459.5 472.5,459.5 472.5,470.5 469.5,470.5" stroke="#111" stroke-width="0.9" fill="none"/>
<circle cx="474.60" cy="465.2" r="1.05" fill="#1a1a1a"/>
<circle cx="477.70" cy="465.2" r="1.05" fill="#1a1a1a"/>
<circle cx="480.80" cy="465.2" r="1.05" fill="#1a1a1a"/>
<polyline points="483.5,444.5 485.5,444.5 485.5,470.5 483.5,470.5" stroke="#111" stroke-width="0.9" fill="none"/>
<circle cx="489.40" cy="457.8" r="1.05" fill="#1a1a1a"/>
<circle cx="492.50" cy="457.8" r="1.05" fill="#1a1a1a"/>
<circle cx="495.60" cy="457.8" r="1.05" fill="#1a1a1a"/>
<polyline points="497.5,433.5 499.5,433.5 499.5,470.5 497.5,470.5" stroke="#111" stroke-width="0.9" fill="none"/>
<circle cx="503.35" cy="452.1" r="1.05" fill="#1a1a1a"/>
<circle cx="506.45" cy="452.1" r="1.05" fill="#1a1a1a"/>
<circle cx="509.55" cy="452.1" r="1.05" fill="#1a1a1a"/>
<circle cx="512.65" cy="452.1" r="1.05" fill="#1a1a1a"/>
<text x="6.55" y="544.5" font-size="11.3" text-anchor="start" fill="#000" font-weight="bold">K</text>
<line x1="33" y1="593.5" x2="99.5" y2="593.5" stroke="#111" stroke-width="1.2"/>
<polygon points="102.5,593.3 98.0,590.6999999999999 98.0,595.9" stroke="none" stroke-width="1" fill="#111"/>
<line x1="33.5" y1="591.0999999999999" x2="33.5" y2="599.0999999999999" stroke="#111" stroke-width="1.2"/>
<line x1="65.5" y1="593.3" x2="65.5" y2="599.0999999999999" stroke="#111" stroke-width="1.2"/>
<line x1="80.5" y1="593.3" x2="80.5" y2="599.0999999999999" stroke="#111" stroke-width="1.2"/>
<line x1="65.5" y1="571.3" x2="65.5" y2="590.3" stroke="#3a6ea8" stroke-width="1.1"/>
<polygon points="65.5,592.8 63.1,588.5 67.9,588.5" stroke="none" stroke-width="1" fill="#1d4f8a"/>
<line x1="80.5" y1="580.8" x2="80.5" y2="590.3" stroke="#c4162f" stroke-width="1.1"/>
<polygon points="80.5,592.8 78.1,588.5 82.9,588.5" stroke="none" stroke-width="1" fill="#c4162f"/>
<text x="65.5" y="568.3" font-size="8" text-anchor="middle" fill="#111" stroke="#111" stroke-width="0.06">DC</text>
<text x="80.5" y="578.8" font-size="8" text-anchor="middle" fill="#111" stroke="#111" stroke-width="0.06">BsAb</text>
<text x="33.4" y="579.0" font-size="8" text-anchor="middle" fill="#111" stroke="#111" stroke-width="0.06">5TGM1-BCMA</text>
<text x="33" y="588.5" font-size="8" text-anchor="middle" fill="#111" stroke="#111" stroke-width="0.06">i.v.</text>
<text x="33" y="608.3" font-size="8" text-anchor="middle" fill="#111" stroke="#111" stroke-width="0.06">Day 0</text>
<text x="65.5" y="608.3" font-size="8" text-anchor="middle" fill="#111" stroke="#111" stroke-width="0.06">28</text>
<text x="80.5" y="608.3" font-size="8" text-anchor="middle" fill="#111" stroke="#111" stroke-width="0.06">31</text>
<text x="128.5" y="544.5" font-size="11.3" text-anchor="start" fill="#000" font-weight="bold">L</text>
<text x="191" y="545.2" font-size="8" text-anchor="middle" fill="#111" stroke="#111" stroke-width="0.06">BsAb alone</text>
<text x="249.8" y="545.2" font-size="8" text-anchor="middle" fill="#111" stroke="#111" stroke-width="0.06">DC + BsAb</text>
<text x="142.2" y="569.4" font-size="8" text-anchor="middle" fill="#111" stroke="#111" stroke-width="0.06">Week 1</text>
<text x="142.2" y="614.4" font-size="8" text-anchor="middle" fill="#111" stroke="#111" stroke-width="0.06">Week 2</text>
<defs>
<linearGradient id="bar" x1="0" y1="0" x2="0" y2="1"><stop offset="0" stop-color="#c8c8c8"/><stop offset="0.35" stop-color="#9a9a9a"/><stop offset="0.7" stop-color="#4a4a4a"/><stop offset="1" stop-color="#555"/></linearGradient>
<filter id="noise" x="0" y="0" width="100%" height="100%"><feTurbulence type="fractalNoise" baseFrequency="0.9" numOctaves="2" seed="3"/><feColorMatrix type="matrix" values="0 0 0 0 0.5  0 0 0 0 0.5  0 0 0 0 0.5  0 0 0 1.2 -0.35"/></filter>
<radialGradient id="spot" cx="0.5" cy="0.5" r="0.5"><stop offset="0" stop-color="#ff3010"/><stop offset="0.6" stop-color="#f01818"/><stop offset="1" stop-color="#e01010" stop-opacity="0"/></radialGradient>
<radialGradient id="spoty" cx="0.5" cy="0.5" r="0.5"><stop offset="0" stop-color="#f8e020"/><stop offset="0.35" stop-color="#f86010"/><stop offset="0.7" stop-color="#f01818"/><stop offset="1" stop-color="#e01010" stop-opacity="0"/></radialGradient>
<filter id="mblur"><feGaussianBlur stdDeviation="0.5"/></filter>
</defs>
<svg x="158.1" y="549.1" width="60.0" height="36.89999999999998" viewBox="0 0 60.0 36.89999999999998" overflow="hidden">
<rect x="0" y="0" width="60.0" height="36.89999999999998" fill="#737373" stroke="none" stroke-width="1"/>
<rect x="0" y="0" width="60.0" height="4" fill="url(#bar)" stroke="none" stroke-width="1"/>
<g filter="url(#mblur)">
<rect x="6.800000000000006" y="1.8" width="2.2" height="5.6" fill="#d8d8d8" stroke="none" stroke-width="1"/>
<path d="M7.900000000000006,25 Q7.4500000000000055,31 6.400000000000006,36.89999999999998" fill="none" stroke="#cfcfcf" stroke-width="1.2"/>
<path d="M3.4000000000000057,24 L1.4000000000000057,27.5" fill="none" stroke="#b0b0b0" stroke-width="0.9"/>
<path d="M12.400000000000006,24 L14.400000000000006,27.5" fill="none" stroke="#b0b0b0" stroke-width="0.9"/>
<path d="M4.900000000000006,25.5 Q7.900000000000006,28.5 10.900000000000006,25.5" fill="none" stroke="#a0a0a0" stroke-width="0.8"/>
<path d="M7.900000000000006,7 C10.400000000000006,7.5 11.400000000000006,10 11.900000000000006,14 C12.700000000000006,18 12.500000000000005,22 11.700000000000006,24.5 C9.900000000000006,26 5.900000000000006,26 4.100000000000006,24.5 C3.300000000000006,22 3.100000000000006,18 3.9000000000000057,14 C4.400000000000006,10 5.400000000000006,7.5 7.900000000000006,7 Z" fill="#474747" stroke="none" stroke-width="1"/>
<ellipse cx="7.900000000000006" cy="16" rx="2" ry="6.5" fill="#565656"/>
</g>
<g filter="url(#mblur)">
<rect x="17.600000000000016" y="1.8" width="2.2" height="5.6" fill="#d8d8d8" stroke="none" stroke-width="1"/>
<path d="M18.700000000000017,25 Q18.700000000000017,31 18.700000000000017,36.89999999999998" fill="none" stroke="#cfcfcf" stroke-width="1.2"/>
<path d="M14.200000000000017,24 L12.200000000000017,27.5" fill="none" stroke="#b0b0b0" stroke-width="0.9"/>
<path d="M23.200000000000017,24 L25.200000000000017,27.5" fill="none" stroke="#b0b0b0" stroke-width="0.9"/>
<path d="M15.700000000000017,25.5 Q18.700000000000017,28.5 21.700000000000017,25.5" fill="none" stroke="#a0a0a0" stroke-width="0.8"/>
<path d="M18.700000000000017,7 C21.200000000000017,7.5 22.200000000000017,10 22.700000000000017,14 C23.500000000000018,18 23.30000000000002,22 22.500000000000018,24.5 C20.700000000000017,26 16.700000000000017,26 14.900000000000016,24.5 C14.100000000000017,22 13.900000000000016,18 14.700000000000017,14 C15.200000000000017,10 16.200000000000017,7.5 18.700000000000017,7 Z" fill="#474747" stroke="none" stroke-width="1"/>
<ellipse cx="18.700000000000017" cy="16" rx="2" ry="6.5" fill="#565656"/>
</g>
<g filter="url(#mblur)">
<rect x="28.499999999999993" y="1.8" width="2.2" height="5.6" fill="#d8d8d8" stroke="none" stroke-width="1"/>
<path d="M29.599999999999994,25 Q29.299999999999994,31 28.599999999999994,36.89999999999998" fill="none" stroke="#cfcfcf" stroke-width="1.2"/>
<path d="M25.099999999999994,24 L23.099999999999994,27.5" fill="none" stroke="#b0b0b0" stroke-width="0.9"/>
<path d="M34.099999999999994,24 L36.099999999999994,27.5" fill="none" stroke="#b0b0b0" stroke-width="0.9"/>
<path d="M26.599999999999994,25.5 Q29.599999999999994,28.5 32.599999999999994,25.5" fill="none" stroke="#a0a0a0" stroke-width="0.8"/>
<path d="M29.599999999999994,7 C32.099999999999994,7.5 33.099999999999994,10 33.599999999999994,14 C34.39999999999999,18 34.199999999999996,22 33.39999999999999,24.5 C31.599999999999994,26 27.599999999999994,26 25.799999999999994,24.5 C24.999999999999993,22 24.799999999999994,18 25.599999999999994,14 C26.099999999999994,10 27.099999999999994,7.5 29.599999999999994,7 Z" fill="#474747" stroke="none" stroke-width="1"/>
<ellipse cx="29.599999999999994" cy="16" rx="2" ry="6.5" fill="#565656"/>
</g>
<g filter="url(#mblur)">
<rect x="39.300000000000004" y="1.8" width="2.2" height="5.6" fill="#d8d8d8" stroke="none" stroke-width="1"/>
<path d="M40.400000000000006,25 Q39.800000000000004,31 38.400000000000006,36.89999999999998" fill="none" stroke="#cfcfcf" stroke-width="1.2"/>
<path d="M35.900000000000006,24 L33.900000000000006,27.5" fill="none" stroke="#b0b0b0" stroke-width="0.9"/>
<path d="M44.900000000000006,24 L46.900000000000006,27.5" fill="none" stroke="#b0b0b0" stroke-width="0.9"/>
<path d="M37.400000000000006,25.5 Q40.400000000000006,28.5 43.400000000000006,25.5" fill="none" stroke="#a0a0a0" stroke-width="0.8"/>
<path d="M40.400000000000006,7 C42.900000000000006,7.5 43.900000000000006,10 44.400000000000006,14 C45.2,18 45.00000000000001,22 44.2,24.5 C42.400000000000006,26 38.400000000000006,26 36.60000000000001,24.5 C35.800000000000004,22 35.60000000000001,18 36.400000000000006,14 C36.900000000000006,10 37.900000000000006,7.5 40.400000000000006,7 Z" fill="#474747" stroke="none" stroke-width="1"/>
<ellipse cx="40.400000000000006" cy="16" rx="2" ry="6.5" fill="#565656"/>
</g>
<g filter="url(#mblur)">
<rect x="50.300000000000004" y="1.8" width="2.2" height="5.6" fill="#d8d8d8" stroke="none" stroke-width="1"/>
<path d="M51.400000000000006,25 Q51.550000000000004,31 51.900000000000006,36.89999999999998" fill="none" stroke="#cfcfcf" stroke-width="1.2"/>
<path d="M46.900000000000006,24 L44.900000000000006,27.5" fill="none" stroke="#b0b0b0" stroke-width="0.9"/>
<path d="M55.900000000000006,24 L57.900000000000006,27.5" fill="none" stroke="#b0b0b0" stroke-width="0.9"/>
<path d="M48.400000000000006,25.5 Q51.400000000000006,28.5 54.400000000000006,25.5" fill="none" stroke="#a0a0a0" stroke-width="0.8"/>
<path d="M51.400000000000006,7 C53.900000000000006,7.5 54.900000000000006,10 55.400000000000006,14 C56.2,18 56.00000000000001,22 55.2,24.5 C53.400000000000006,26 49.400000000000006,26 47.60000000000001,24.5 C46.800000000000004,22 46.60000000000001,18 47.400000000000006,14 C47.900000000000006,10 48.900000000000006,7.5 51.400000000000006,7 Z" fill="#474747" stroke="none" stroke-width="1"/>
<ellipse cx="51.400000000000006" cy="16" rx="2" ry="6.5" fill="#565656"/>
</g>
<rect x="0" y="0" width="60.0" height="36.89999999999998" fill="#000" stroke="none" stroke-width="1" filter="url(#noise)" opacity="0.25"/>
<circle cx="10.700000000000017" cy="21.899999999999977" r="2.2" fill="url(#spot)"/>
<circle cx="15.300000000000011" cy="21.899999999999977" r="2.2" fill="url(#spot)"/>
<circle cx="21.099999999999994" cy="21.399999999999977" r="1.8" fill="url(#spot)"/>
<circle cx="20.400000000000006" cy="11.399999999999977" r="1.6" fill="url(#spot)"/>
<circle cx="29.80000000000001" cy="9.0" r="1.6" fill="url(#spot)"/>
<circle cx="27.30000000000001" cy="22.899999999999977" r="2" fill="url(#spot)"/>
<circle cx="33.099999999999994" cy="22.399999999999977" r="1.2" fill="url(#spot)"/>
</svg>
<svg x="221.2" y="549.1" width="58.80000000000001" height="36.89999999999998" viewBox="0 0 58.80000000000001 36.89999999999998" overflow="hidden">
<rect x="0" y="0" width="58.80000000000001" height="36.89999999999998" fill="#737373" stroke="none" stroke-width="1"/>
<rect x="0" y="0" width="58.80000000000001" height="4" fill="url(#bar)" stroke="none" stroke-width="1"/>
<g filter="url(#mblur)">
<rect x="7.4" y="1.8" width="2.2" height="5.6" fill="#d8d8d8" stroke="none" stroke-width="1"/>
<path d="M8.5,25 Q8.2,31 7.5,36.89999999999998" fill="none" stroke="#cfcfcf" stroke-width="1.2"/>
<path d="M4.0,24 L2.0,27.5" fill="none" stroke="#b0b0b0" stroke-width="0.9"/>
<path d="M13.0,24 L15.0,27.5" fill="none" stroke="#b0b0b0" stroke-width="0.9"/>
<path d="M5.5,25.5 Q8.5,28.5 11.5,25.5" fill="none" stroke="#a0a0a0" stroke-width="0.8"/>
<path d="M8.5,7 C11.0,7.5 12.0,10 12.5,14 C13.3,18 13.1,22 12.3,24.5 C10.5,26 6.5,26 4.7,24.5 C3.9000000000000004,22 3.7,18 4.5,14 C5.0,10 6.0,7.5 8.5,7 Z" fill="#474747" stroke="none" stroke-width="1"/>
<ellipse cx="8.5" cy="16" rx="2" ry="6.5" fill="#565656"/>
</g>
<g filter="url(#mblur)">
<rect x="18.00000000000002" y="1.8" width="2.2" height="5.6" fill="#d8d8d8" stroke="none" stroke-width="1"/>
<path d="M19.100000000000023,25 Q18.800000000000022,31 18.100000000000023,36.89999999999998" fill="none" stroke="#cfcfcf" stroke-width="1.2"/>
<path d="M14.600000000000023,24 L12.600000000000023,27.5" fill="none" stroke="#b0b0b0" stroke-width="0.9"/>
<path d="M23.600000000000023,24 L25.600000000000023,27.5" fill="none" stroke="#b0b0b0" stroke-width="0.9"/>
<path d="M16.100000000000023,25.5 Q19.100000000000023,28.5 22.100000000000023,25.5" fill="none" stroke="#a0a0a0" stroke-width="0.8"/>
<path d="M19.100000000000023,7 C21.600000000000023,7.5 22.600000000000023,10 23.100000000000023,14 C23.900000000000023,18 23.700000000000024,22 22.900000000000023,24.5 C21.100000000000023,26 17.100000000000023,26 15.300000000000022,24.5 C14.500000000000023,22 14.300000000000022,18 15.100000000000023,14 C15.600000000000023,10 16.600000000000023,7.5 19.100000000000023,7 Z" fill="#474747" stroke="none" stroke-width="1"/>
<ellipse cx="19.100000000000023" cy="16" rx="2" ry="6.5" fill="#565656"/>
</g>
<g filter="url(#mblur)">
<rect x="28.300000000000004" y="1.8" width="2.2" height="5.6" fill="#d8d8d8" stroke="none" stroke-width="1"/>
<path d="M29.400000000000006,25 Q29.400000000000006,31 29.400000000000006,36.89999999999998" fill="none" stroke="#cfcfcf" stroke-width="1.2"/>
<path d="M24.900000000000006,24 L22.900000000000006,27.5" fill="none" stroke="#b0b0b0" stroke-width="0.9"/>
<path d="M33.900000000000006,24 L35.900000000000006,27.5" fill="none" stroke="#b0b0b0" stroke-width="0.9"/>
<path d="M26.400000000000006,25.5 Q29.400000000000006,28.5 32.400000000000006,25.5" fill="none" stroke="#a0a0a0" stroke-width="0.8"/>
<path d="M29.400000000000006,7 C31.900000000000006,7.5 32.900000000000006,10 33.400000000000006,14 C34.2,18 34.00000000000001,22 33.2,24.5 C31.400000000000006,26 27.400000000000006,26 25.600000000000005,24.5 C24.800000000000004,22 24.600000000000005,18 25.400000000000006,14 C25.900000000000006,10 26.900000000000006,7.5 29.400000000000006,7 Z" fill="#474747" stroke="none" stroke-width="1"/>
<ellipse cx="29.400000000000006" cy="16" rx="2" ry="6.5" fill="#565656"/>
</g>
<g filter="url(#mblur)">
<rect x="39.30000000000003" y="1.8" width="2.2" height="5.6" fill="#d8d8d8" stroke="none" stroke-width="1"/>
<path d="M40.400000000000034,25 Q40.10000000000004,31 39.400000000000034,36.89999999999998" fill="none" stroke="#cfcfcf" stroke-width="1.2"/>
<path d="M35.900000000000034,24 L33.900000000000034,27.5" fill="none" stroke="#b0b0b0" stroke-width="0.9"/>
<path d="M44.900000000000034,24 L46.900000000000034,27.5" fill="none" stroke="#b0b0b0" stroke-width="0.9"/>
<path d="M37.400000000000034,25.5 Q40.400000000000034,28.5 43.400000000000034,25.5" fill="none" stroke="#a0a0a0" stroke-width="0.8"/>
<path d="M40.400000000000034,7 C42.900000000000034,7.5 43.900000000000034,10 44.400000000000034,14 C45.20000000000003,18 45.000000000000036,22 44.20000000000003,24.5 C42.400000000000034,26 38.400000000000034,26 36.60000000000004,24.5 C35.80000000000003,22 35.60000000000004,18 36.400000000000034,14 C36.900000000000034,10 37.900000000000034,7.5 40.400000000000034,7 Z" fill="#474747" stroke="none" stroke-width="1"/>
<ellipse cx="40.400000000000034" cy="16" rx="2" ry="6.5" fill="#565656"/>
</g>
<g filter="url(#mblur)">
<rect x="49.9" y="1.8" width="2.2" height="5.6" fill="#d8d8d8" stroke="none" stroke-width="1"/>
<path d="M51.0,25 Q51.0,31 51.0,36.89999999999998" fill="none" stroke="#cfcfcf" stroke-width="1.2"/>
<path d="M46.5,24 L44.5,27.5" fill="none" stroke="#b0b0b0" stroke-width="0.9"/>
<path d="M55.5,24 L57.5,27.5" fill="none" stroke="#b0b0b0" stroke-width="0.9"/>
<path d="M48.0,25.5 Q51.0,28.5 54.0,25.5" fill="none" stroke="#a0a0a0" stroke-width="0.8"/>
<path d="M51.0,7 C53.5,7.5 54.5,10 55.0,14 C55.8,18 55.6,22 54.8,24.5 C53.0,26 49.0,26 47.2,24.5 C46.4,22 46.2,18 47.0,14 C47.5,10 48.5,7.5 51.0,7 Z" fill="#474747" stroke="none" stroke-width="1"/>
<ellipse cx="51.0" cy="16" rx="2" ry="6.5" fill="#565656"/>
</g>
<rect x="0" y="0" width="58.80000000000001" height="36.89999999999998" fill="#000" stroke="none" stroke-width="1" filter="url(#noise)" opacity="0.25"/>
</svg>
<svg x="158.1" y="593" width="60.0" height="37.60000000000002" viewBox="0 0 60.0 37.60000000000002" overflow="hidden">
<rect x="0" y="0" width="60.0" height="37.60000000000002" fill="#737373" stroke="none" stroke-width="1"/>
<rect x="0" y="0" width="60.0" height="4" fill="url(#bar)" stroke="none" stroke-width="1"/>
<rect x="6.800000000000006" y="1.8" width="2.2" height="5.6" fill="#d8d8d8" stroke="none" stroke-width="1"/>
<rect x="17.600000000000016" y="1.8" width="2.2" height="5.6" fill="#d8d8d8" stroke="none" stroke-width="1"/>
<rect x="28.499999999999993" y="1.8" width="2.2" height="5.6" fill="#d8d8d8" stroke="none" stroke-width="1"/>
<rect x="39.300000000000004" y="1.8" width="2.2" height="5.6" fill="#d8d8d8" stroke="none" stroke-width="1"/>
<rect x="50.300000000000004" y="1.8" width="2.2" height="5.6" fill="#d8d8d8" stroke="none" stroke-width="1"/>
<g filter="url(#mblur)">
<rect x="17.100000000000016" y="1.8" width="2.2" height="5.6" fill="#d8d8d8" stroke="none" stroke-width="1"/>
<path d="M18.200000000000017,25 Q17.900000000000016,31 17.200000000000017,37.60000000000002" fill="none" stroke="#cfcfcf" stroke-width="1.2"/>
<path d="M13.700000000000017,24 L11.700000000000017,27.5" fill="none" stroke="#b0b0b0" stroke-width="0.9"/>
<path d="M22.700000000000017,24 L24.700000000000017,27.5" fill="none" stroke="#b0b0b0" stroke-width="0.9"/>
<path d="M15.200000000000017,25.5 Q18.200000000000017,28.5 21.200000000000017,25.5" fill="none" stroke="#a0a0a0" stroke-width="0.8"/>
<path d="M18.200000000000017,7 C20.700000000000017,7.5 21.700000000000017,10 22.200000000000017,14 C23.000000000000018,18 22.80000000000002,22 22.000000000000018,24.5 C20.200000000000017,26 16.200000000000017,26 14.400000000000016,24.5 C13.600000000000017,22 13.400000000000016,18 14.200000000000017,14 C14.700000000000017,10 15.700000000000017,7.5 18.200000000000017,7 Z" fill="#474747" stroke="none" stroke-width="1"/>
<ellipse cx="18.200000000000017" cy="16" rx="2" ry="6.5" fill="#565656"/>
</g>
<g filter="url(#mblur)">
<rect x="39.300000000000004" y="1.8" width="2.2" height="5.6" fill="#d8d8d8" stroke="none" stroke-width="1"/>
<path d="M40.400000000000006,25 Q40.7,31 41.400000000000006,37.60000000000002" fill="none" stroke="#cfcfcf" stroke-width="1.2"/>
<path d="M35.900000000000006,24 L33.900000000000006,27.5" fill="none" stroke="#b0b0b0" stroke-width="0.9"/>
<path d="M44.900000000000006,24 L46.900000000000006,27.5" fill="none" stroke="#b0b0b0" stroke-width="0.9"/>
<path d="M37.400000000000006,25.5 Q40.400000000000006,28.5 43.400000000000006,25.5" fill="none" stroke="#a0a0a0" stroke-width="0.8"/>
<path d="M40.400000000000006,7 C42.900000000000006,7.5 43.900000000000006,10 44.400000000000006,14 C45.2,18 45.00000000000001,22 44.2,24.5 C42.400000000000006,26 38.400000000000006,26 36.60000000000001,24.5 C35.800000000000004,22 35.60000000000001,18 36.400000000000006,14 C36.900000000000006,10 37.900000000000006,7.5 40.400000000000006,7 Z" fill="#474747" stroke="none" stroke-width="1"/>
<ellipse cx="40.400000000000006" cy="16" rx="2" ry="6.5" fill="#565656"/>
</g>
<g filter="url(#mblur)">
<rect x="50.600000000000016" y="1.8" width="2.2" height="5.6" fill="#d8d8d8" stroke="none" stroke-width="1"/>
<path d="M51.70000000000002,25 Q52.000000000000014,31 52.70000000000002,37.60000000000002" fill="none" stroke="#cfcfcf" stroke-width="1.2"/>
<path d="M47.20000000000002,24 L45.20000000000002,27.5" fill="none" stroke="#b0b0b0" stroke-width="0.9"/>
<path d="M56.20000000000002,24 L58.20000000000002,27.5" fill="none" stroke="#b0b0b0" stroke-width="0.9"/>
<path d="M48.70000000000002,25.5 Q51.70000000000002,28.5 54.70000000000002,25.5" fill="none" stroke="#a0a0a0" stroke-width="0.8"/>
<path d="M51.70000000000002,7 C54.20000000000002,7.5 55.20000000000002,10 55.70000000000002,14 C56.500000000000014,18 56.30000000000002,22 55.500000000000014,24.5 C53.70000000000002,26 49.70000000000002,26 47.90000000000002,24.5 C47.100000000000016,22 46.90000000000002,18 47.70000000000002,14 C48.20000000000002,10 49.20000000000002,7.5 51.70000000000002,7 Z" fill="#474747" stroke="none" stroke-width="1"/>
<ellipse cx="51.70000000000002" cy="16" rx="2" ry="6.5" fill="#565656"/>
</g>
<rect x="0" y="0" width="60.0" height="37.60000000000002" fill="#000" stroke="none" stroke-width="1" filter="url(#noise)" opacity="0.25"/>
<circle cx="17.900000000000006" cy="11.600000000000023" r="2.2" fill="url(#spot)"/>
<circle cx="17.599999999999994" cy="16.600000000000023" r="2" fill="url(#spot)"/>
<circle cx="13.400000000000006" cy="22.700000000000045" r="2.5" fill="url(#spoty)"/>
<circle cx="18.900000000000006" cy="23.100000000000023" r="2.2" fill="url(#spot)"/>
<circle cx="51.900000000000006" cy="16.899999999999977" r="2.5" fill="url(#spot)"/>
</svg>
<svg x="221.2" y="593" width="58.80000000000001" height="37.60000000000002" viewBox="0 0 58.80000000000001 37.60000000000002" overflow="hidden">
<rect x="0" y="0" width="58.80000000000001" height="37.60000000000002" fill="#737373" stroke="none" stroke-width="1"/>
<rect x="0" y="0" width="58.80000000000001" height="4" fill="url(#bar)" stroke="none" stroke-width="1"/>
<g filter="url(#mblur)">
<rect x="7.4" y="1.8" width="2.2" height="5.6" fill="#d8d8d8" stroke="none" stroke-width="1"/>
<path d="M8.5,25 Q8.2,31 7.5,37.60000000000002" fill="none" stroke="#cfcfcf" stroke-width="1.2"/>
<path d="M4.0,24 L2.0,27.5" fill="none" stroke="#b0b0b0" stroke-width="0.9"/>
<path d="M13.0,24 L15.0,27.5" fill="none" stroke="#b0b0b0" stroke-width="0.9"/>
<path d="M5.5,25.5 Q8.5,28.5 11.5,25.5" fill="none" stroke="#a0a0a0" stroke-width="0.8"/>
<path d="M8.5,7 C11.0,7.5 12.0,10 12.5,14 C13.3,18 13.1,22 12.3,24.5 C10.5,26 6.5,26 4.7,24.5 C3.9000000000000004,22 3.7,18 4.5,14 C5.0,10 6.0,7.5 8.5,7 Z" fill="#474747" stroke="none" stroke-width="1"/>
<ellipse cx="8.5" cy="16" rx="2" ry="6.5" fill="#565656"/>
</g>
<g filter="url(#mblur)">
<rect x="18.00000000000002" y="1.8" width="2.2" height="5.6" fill="#d8d8d8" stroke="none" stroke-width="1"/>
<path d="M19.100000000000023,25 Q18.800000000000022,31 18.100000000000023,37.60000000000002" fill="none" stroke="#cfcfcf" stroke-width="1.2"/>
<path d="M14.600000000000023,24 L12.600000000000023,27.5" fill="none" stroke="#b0b0b0" stroke-width="0.9"/>
<path d="M23.600000000000023,24 L25.600000000000023,27.5" fill="none" stroke="#b0b0b0" stroke-width="0.9"/>
<path d="M16.100000000000023,25.5 Q19.100000000000023,28.5 22.100000000000023,25.5" fill="none" stroke="#a0a0a0" stroke-width="0.8"/>
<path d="M19.100000000000023,7 C21.600000000000023,7.5 22.600000000000023,10 23.100000000000023,14 C23.900000000000023,18 23.700000000000024,22 22.900000000000023,24.5 C21.100000000000023,26 17.100000000000023,26 15.300000000000022,24.5 C14.500000000000023,22 14.300000000000022,18 15.100000000000023,14 C15.600000000000023,10 16.600000000000023,7.5 19.100000000000023,7 Z" fill="#474747" stroke="none" stroke-width="1"/>
<ellipse cx="19.100000000000023" cy="16" rx="2" ry="6.5" fill="#565656"/>
</g>
<g filter="url(#mblur)">
<rect x="28.300000000000004" y="1.8" width="2.2" height="5.6" fill="#d8d8d8" stroke="none" stroke-width="1"/>
<path d="M29.400000000000006,25 Q29.400000000000006,31 29.400000000000006,37.60000000000002" fill="none" stroke="#cfcfcf" stroke-width="1.2"/>
<path d="M24.900000000000006,24 L22.900000000000006,27.5" fill="none" stroke="#b0b0b0" stroke-width="0.9"/>
<path d="M33.900000000000006,24 L35.900000000000006,27.5" fill="none" stroke="#b0b0b0" stroke-width="0.9"/>
<path d="M26.400000000000006,25.5 Q29.400000000000006,28.5 32.400000000000006,25.5" fill="none" stroke="#a0a0a0" stroke-width="0.8"/>
<path d="M29.400000000000006,7 C31.900000000000006,7.5 32.900000000000006,10 33.400000000000006,14 C34.2,18 34.00000000000001,22 33.2,24.5 C31.400000000000006,26 27.400000000000006,26 25.600000000000005,24.5 C24.800000000000004,22 24.600000000000005,18 25.400000000000006,14 C25.900000000000006,10 26.900000000000006,7.5 29.400000000000006,7 Z" fill="#474747" stroke="none" stroke-width="1"/>
<ellipse cx="29.400000000000006" cy="16" rx="2" ry="6.5" fill="#565656"/>
</g>
<g filter="url(#mblur)">
<rect x="39.30000000000003" y="1.8" width="2.2" height="5.6" fill="#d8d8d8" stroke="none" stroke-width="1"/>
<path d="M40.400000000000034,25 Q40.10000000000004,31 39.400000000000034,37.60000000000002" fill="none" stroke="#cfcfcf" stroke-width="1.2"/>
<path d="M35.900000000000034,24 L33.900000000000034,27.5" fill="none" stroke="#b0b0b0" stroke-width="0.9"/>
<path d="M44.900000000000034,24 L46.900000000000034,27.5" fill="none" stroke="#b0b0b0" stroke-width="0.9"/>
<path d="M37.400000000000034,25.5 Q40.400000000000034,28.5 43.400000000000034,25.5" fill="none" stroke="#a0a0a0" stroke-width="0.8"/>
<path d="M40.400000000000034,7 C42.900000000000034,7.5 43.900000000000034,10 44.400000000000034,14 C45.20000000000003,18 45.000000000000036,22 44.20000000000003,24.5 C42.400000000000034,26 38.400000000000034,26 36.60000000000004,24.5 C35.80000000000003,22 35.60000000000004,18 36.400000000000034,14 C36.900000000000034,10 37.900000000000034,7.5 40.400000000000034,7 Z" fill="#474747" stroke="none" stroke-width="1"/>
<ellipse cx="40.400000000000034" cy="16" rx="2" ry="6.5" fill="#565656"/>
</g>
<g filter="url(#mblur)">
<rect x="49.9" y="1.8" width="2.2" height="5.6" fill="#d8d8d8" stroke="none" stroke-width="1"/>
<path d="M51.0,25 Q51.0,31 51.0,37.60000000000002" fill="none" stroke="#cfcfcf" stroke-width="1.2"/>
<path d="M46.5,24 L44.5,27.5" fill="none" stroke="#b0b0b0" stroke-width="0.9"/>
<path d="M55.5,24 L57.5,27.5" fill="none" stroke="#b0b0b0" stroke-width="0.9"/>
<path d="M48.0,25.5 Q51.0,28.5 54.0,25.5" fill="none" stroke="#a0a0a0" stroke-width="0.8"/>
<path d="M51.0,7 C53.5,7.5 54.5,10 55.0,14 C55.8,18 55.6,22 54.8,24.5 C53.0,26 49.0,26 47.2,24.5 C46.4,22 46.2,18 47.0,14 C47.5,10 48.5,7.5 51.0,7 Z" fill="#474747" stroke="none" stroke-width="1"/>
<ellipse cx="51.0" cy="16" rx="2" ry="6.5" fill="#565656"/>
</g>
<rect x="0" y="0" width="58.80000000000001" height="37.60000000000002" fill="#000" stroke="none" stroke-width="1" filter="url(#noise)" opacity="0.25"/>
<circle cx="49.30000000000001" cy="18.5" r="1.2" fill="url(#spot)"/>
</svg>
<rect x="282" y="549.6" width="3.6" height="80.7" fill="url(#cbar)" stroke="none" stroke-width="1"/>
<rect x="282" y="549.6" width="3.6" height="80.7" fill="none" stroke="#555" stroke-width="0.4"/>
<line x1="285.6" y1="549.6" x2="287" y2="549.6" stroke="#333" stroke-width="0.4"/>
<line x1="285.6" y1="552.121875" x2="287" y2="552.121875" stroke="#333" stroke-width="0.4"/>
<line x1="285.6" y1="554.6437500000001" x2="287" y2="554.6437500000001" stroke="#333" stroke-width="0.4"/>
<line x1="285.6" y1="557.165625" x2="287" y2="557.165625" stroke="#333" stroke-width="0.4"/>
<line x1="285.6" y1="559.6875" x2="287" y2="559.6875" stroke="#333" stroke-width="0.4"/>
<line x1="285.6" y1="562.209375" x2="287" y2="562.209375" stroke="#333" stroke-width="0.4"/>
<line x1="285.6" y1="564.73125" x2="287" y2="564.73125" stroke="#333" stroke-width="0.4"/>
<line x1="285.6" y1="567.2531250000001" x2="287" y2="567.2531250000001" stroke="#333" stroke-width="0.4"/>
<line x1="285.6" y1="569.775" x2="287" y2="569.775" stroke="#333" stroke-width="0.4"/>
<line x1="285.6" y1="572.296875" x2="287" y2="572.296875" stroke="#333" stroke-width="0.4"/>
<line x1="285.6" y1="574.81875" x2="287" y2="574.81875" stroke="#333" stroke-width="0.4"/>
<line x1="285.6" y1="577.340625" x2="287" y2="577.340625" stroke="#333" stroke-width="0.4"/>
<line x1="285.6" y1="579.8625000000001" x2="287" y2="579.8625000000001" stroke="#333" stroke-width="0.4"/>
<line x1="285.6" y1="582.384375" x2="287" y2="582.384375" stroke="#333" stroke-width="0.4"/>
<line x1="285.6" y1="584.90625" x2="287" y2="584.90625" stroke="#333" stroke-width="0.4"/>
<line x1="285.6" y1="587.428125" x2="287" y2="587.428125" stroke="#333" stroke-width="0.4"/>
<line x1="285.6" y1="589.95" x2="287" y2="589.95" stroke="#333" stroke-width="0.4"/>
<line x1="285.6" y1="592.4718750000001" x2="287" y2="592.4718750000001" stroke="#333" stroke-width="0.4"/>
<line x1="285.6" y1="594.99375" x2="287" y2="594.99375" stroke="#333" stroke-width="0.4"/>
<line x1="285.6" y1="597.515625" x2="287" y2="597.515625" stroke="#333" stroke-width="0.4"/>
<line x1="285.6" y1="600.0375" x2="287" y2="600.0375" stroke="#333" stroke-width="0.4"/>
<line x1="285.6" y1="602.559375" x2="287" y2="602.559375" stroke="#333" stroke-width="0.4"/>
<line x1="285.6" y1="605.0812500000001" x2="287" y2="605.0812500000001" stroke="#333" stroke-width="0.4"/>
<line x1="285.6" y1="607.603125" x2="287" y2="607.603125" stroke="#333" stroke-width="0.4"/>
<line x1="285.6" y1="610.125" x2="287" y2="610.125" stroke="#333" stroke-width="0.4"/>
<line x1="285.6" y1="612.646875" x2="287" y2="612.646875" stroke="#333" stroke-width="0.4"/>
<line x1="285.6" y1="615.16875" x2="287" y2="615.16875" stroke="#333" stroke-width="0.4"/>
<line x1="285.6" y1="617.6906250000001" x2="287" y2="617.6906250000001" stroke="#333" stroke-width="0.4"/>
<line x1="285.6" y1="620.2125" x2="287" y2="620.2125" stroke="#333" stroke-width="0.4"/>
<line x1="285.6" y1="622.734375" x2="287" y2="622.734375" stroke="#333" stroke-width="0.4"/>
<line x1="285.6" y1="625.25625" x2="287" y2="625.25625" stroke="#333" stroke-width="0.4"/>
<line x1="285.6" y1="627.778125" x2="287" y2="627.778125" stroke="#333" stroke-width="0.4"/>
<line x1="285.6" y1="630.3000000000001" x2="287" y2="630.3000000000001" stroke="#333" stroke-width="0.4"/>
<text x="291.8" y="553.0" font-size="8" text-anchor="middle" fill="#111" stroke="#111" stroke-width="0.06">4</text>
<text x="291.8" y="573.0999999999999" font-size="8" text-anchor="middle" fill="#111" stroke="#111" stroke-width="0.06">3</text>
<text x="291.8" y="593.5999999999999" font-size="8" text-anchor="middle" fill="#111" stroke="#111" stroke-width="0.06">2</text>
<text x="291.8" y="613.5" font-size="8" text-anchor="middle" fill="#111" stroke="#111" stroke-width="0.06">1</text>
<text x="300" y="590" font-size="7.6" text-anchor="middle" fill="#111" transform="rotate(90 300 590) translate(300 590) scale(0.9 1) translate(-300 -590)" stroke="#111" stroke-width="0.06">×10<tspan dy="-3" font-size="5.5">5</tspan><tspan dy="3"> photons/sec/cm</tspan><tspan dy="-3" font-size="5.5">2</tspan><tspan dy="3">/sr</tspan></text>
<text x="336.5" y="544.5" font-size="11.3" text-anchor="start" fill="#000" font-weight="bold">M</text>
<line x1="370.5" y1="552.3" x2="370.5" y2="621.6" stroke="#111" stroke-width="1.15"/>
<line x1="366.9" y1="556.5" x2="370.4" y2="556.5" stroke="#111" stroke-width="1.1"/>
<text x="364.79999999999995" y="559.24" font-size="8.5" text-anchor="end" fill="#111" stroke="#111" stroke-width="0.06">100</text>
<line x1="366.9" y1="588.5" x2="370.4" y2="588.5" stroke="#111" stroke-width="1.1"/>
<text x="364.79999999999995" y="591.64" font-size="8.5" text-anchor="end" fill="#111" stroke="#111" stroke-width="0.06">50</text>
<line x1="366.9" y1="621.5" x2="370.4" y2="621.5" stroke="#111" stroke-width="1.1"/>
<text x="364.79999999999995" y="624.14" font-size="8.5" text-anchor="end" fill="#111" stroke="#111" stroke-width="0.06">0</text>
<line x1="370.4" y1="621.5" x2="483.1" y2="621.5" stroke="#111" stroke-width="1.15"/>
<line x1="370.5" y1="621.1" x2="370.5" y2="623.6" stroke="#111" stroke-width="1.1"/>
<line x1="406.5" y1="621.1" x2="406.5" y2="623.6" stroke="#111" stroke-width="1.1"/>
<line x1="442.5" y1="621.1" x2="442.5" y2="623.6" stroke="#111" stroke-width="1.1"/>
<line x1="479.5" y1="621.1" x2="479.5" y2="623.6" stroke="#111" stroke-width="1.1"/>
<text x="370.4" y="631.8" font-size="8" text-anchor="middle" fill="#111" stroke="#111" stroke-width="0.06">0</text>
<text x="406.6" y="631.8" font-size="8" text-anchor="middle" fill="#111" stroke="#111" stroke-width="0.06">20</text>
<text x="442.8" y="631.8" font-size="8" text-anchor="middle" fill="#111" stroke="#111" stroke-width="0.06">40</text>
<text x="479" y="631.8" font-size="8" text-anchor="middle" fill="#111" stroke="#111" stroke-width="0.06">60</text>
<polyline points="370.5,556.5 397.5,556.5 397.5,562.5 401.5,562.5 401.5,569.5 404.5,569.5 404.5,575.5 408.5,575.5 408.5,582.5 414.5,582.5 414.5,588.5 415.5,588.5 415.5,595.5 419.5,595.5 419.5,601.5 422.5,601.5 422.5,608.5 435.5,608.5 435.5,614.5 479.5,614.5" stroke="#3db54a" stroke-width="1.1" fill="none"/>
<circle cx="397.36899999999997" cy="562.69" r="1.3" fill="#3db54a"/>
<circle cx="401.16999999999996" cy="569.1800000000001" r="1.3" fill="#3db54a"/>
<circle cx="404.78999999999996" cy="575.6700000000001" r="1.3" fill="#3db54a"/>
<circle cx="408.048" cy="582.1600000000001" r="1.3" fill="#3db54a"/>
<circle cx="414.202" cy="588.65" r="1.3" fill="#3db54a"/>
<circle cx="415.83099999999996" cy="595.14" r="1.3" fill="#3db54a"/>
<circle cx="419.63199999999995" cy="601.63" r="1.3" fill="#3db54a"/>
<circle cx="422.70899999999995" cy="608.12" r="1.3" fill="#3db54a"/>
<circle cx="435.741" cy="614.61" r="1.3" fill="#3db54a"/>
<polyline points="370.5,556.5 384.5,556.5 384.5,562.5 393.5,562.5 393.5,569.5 395.5,569.5 395.5,575.5 397.5,575.5 397.5,582.5 400.5,582.5 400.5,595.5 411.5,595.5 411.5,601.5 414.5,601.5 414.5,608.5 425.5,608.5 425.5,614.5 426.5,614.5 426.5,621.5 426.5,621.5" stroke="#c4162f" stroke-width="1.1" fill="none"/>
<circle cx="384.69899999999996" cy="562.69" r="1.3" fill="#c4162f"/>
<circle cx="393.568" cy="569.1800000000001" r="1.3" fill="#c4162f"/>
<circle cx="395.73999999999995" cy="575.6700000000001" r="1.3" fill="#c4162f"/>
<circle cx="397.36899999999997" cy="582.1600000000001" r="1.3" fill="#c4162f"/>
<circle cx="400.62699999999995" cy="595.14" r="1.3" fill="#c4162f"/>
<circle cx="411.125" cy="601.63" r="1.3" fill="#c4162f"/>
<circle cx="414.926" cy="608.12" r="1.3" fill="#c4162f"/>
<circle cx="425.06199999999995" cy="614.61" r="1.3" fill="#c4162f"/>
<circle cx="426.14799999999997" cy="621.1" r="1.3" fill="#c4162f"/>
<polyline points="370.5,556.5 372.5,556.5 372.5,562.5 384.5,562.5 384.5,569.5 385.5,569.5 385.5,575.5 391.5,575.5 391.5,582.5 393.5,582.5 393.5,588.5 398.5,588.5 398.5,595.5 402.5,595.5 402.5,608.5 406.5,608.5 406.5,614.5 448.5,614.5 448.5,621.5 448.5,621.5" stroke="#0b4f9a" stroke-width="1.1" fill="none"/>
<circle cx="372.93399999999997" cy="562.69" r="1.3" fill="#0b4f9a"/>
<circle cx="384.69899999999996" cy="569.1800000000001" r="1.3" fill="#0b4f9a"/>
<circle cx="385.78499999999997" cy="575.6700000000001" r="1.3" fill="#0b4f9a"/>
<circle cx="391.577" cy="582.1600000000001" r="1.3" fill="#0b4f9a"/>
<circle cx="393.568" cy="588.65" r="1.3" fill="#0b4f9a"/>
<circle cx="398.81699999999995" cy="595.14" r="1.3" fill="#0b4f9a"/>
<circle cx="402.618" cy="608.12" r="1.3" fill="#0b4f9a"/>
<circle cx="406.238" cy="614.61" r="1.3" fill="#0b4f9a"/>
<circle cx="448.95399999999995" cy="621.1" r="1.3" fill="#0b4f9a"/>
<polyline points="370.5,556.5 371.5,556.5 371.5,562.5 384.5,562.5 384.5,575.5 385.5,575.5 385.5,588.5 388.5,588.5 388.5,595.5 393.5,595.5 393.5,608.5 397.5,608.5 397.5,614.5 402.5,614.5 402.5,621.5 402.5,621.5" stroke="#6a2c8e" stroke-width="1.1" fill="none"/>
<circle cx="371.12399999999997" cy="562.69" r="1.3" fill="#6a2c8e"/>
<circle cx="384.69899999999996" cy="575.6700000000001" r="1.3" fill="#6a2c8e"/>
<circle cx="385.78499999999997" cy="588.65" r="1.3" fill="#6a2c8e"/>
<circle cx="388.138" cy="595.14" r="1.3" fill="#6a2c8e"/>
<circle cx="393.568" cy="608.12" r="1.3" fill="#6a2c8e"/>
<circle cx="397.00699999999995" cy="614.61" r="1.3" fill="#6a2c8e"/>
<circle cx="402.618" cy="621.1" r="1.3" fill="#6a2c8e"/>
<text x="345" y="586.9" font-size="9" text-anchor="middle" fill="#111" textLength="43.8" lengthAdjust="spacingAndGlyphs" transform="rotate(-90 345 586.9)" stroke="#111" stroke-width="0.3">Percent survival</text>
<text x="389.6" y="645.3" font-size="9.2" text-anchor="start" fill="#111" textLength="74.6" lengthAdjust="spacingAndGlyphs" stroke="#111" stroke-width="0.3">Days after BsAb treatment</text>
<line x1="427.7" y1="544.5" x2="435.4" y2="544.5" stroke="#6a2c8e" stroke-width="1"/>
<circle cx="431.55" cy="544.0" r="1.3" fill="#6a2c8e"/>
<text x="438.8" y="546.5" font-size="7.3" text-anchor="start" fill="#111" stroke="#111" stroke-width="0.06">Control</text>
<line x1="427.7" y1="556.5" x2="435.4" y2="556.5" stroke="#0b4f9a" stroke-width="1"/>
<polygon points="431.55,554.8000000000001 430.15000000000003,557.32 432.95,557.32" stroke="none" stroke-width="1" fill="#0b4f9a"/>
<text x="438.8" y="558.7" font-size="7.3" text-anchor="start" fill="#111" stroke="#111" stroke-width="0.06">DC</text>
<line x1="427.7" y1="568.5" x2="435.4" y2="568.5" stroke="#c4162f" stroke-width="1"/>
<circle cx="431.55" cy="568.1" r="1.3" fill="#c4162f"/>
<text x="438.8" y="570.6" font-size="7.3" text-anchor="start" fill="#111" stroke="#111" stroke-width="0.06">BsAb</text>
<line x1="427.7" y1="579.5" x2="435.4" y2="579.5" stroke="#3db54a" stroke-width="1"/>
<polygon points="431.55,578.2 430.15000000000003,580.72 432.95,580.72" stroke="none" stroke-width="1" fill="#3db54a"/>
<text x="438.8" y="582.1" font-size="7.3" text-anchor="start" fill="#111" stroke="#111" stroke-width="0.06">DC + BsAb</text>
<polyline points="466.5,543.5 469.5,543.5 469.5,570.5 466.5,570.5" stroke="#111" stroke-width="0.9" fill="none"/>
<circle cx="471.95" cy="557.1" r="1.05" fill="#1a1a1a"/>
<circle cx="475.05" cy="557.1" r="1.05" fill="#1a1a1a"/>
<polyline points="481.5,554.5 484.5,554.5 484.5,581.5 481.5,581.5" stroke="#111" stroke-width="0.9" fill="none"/>
<circle cx="487.70" cy="568.7" r="1.05" fill="#1a1a1a"/>
<polyline points="496.5,543.5 499.5,543.5 499.5,581.5 496.5,581.5" stroke="#111" stroke-width="0.9" fill="none"/>
<circle cx="502.85" cy="562.9" r="1.05" fill="#1a1a1a"/>
<circle cx="505.95" cy="562.9" r="1.05" fill="#1a1a1a"/>
<circle cx="509.05" cy="562.9" r="1.05" fill="#1a1a1a"/>
<circle cx="512.15" cy="562.9" r="1.05" fill="#1a1a1a"/>
</svg></body></html>
